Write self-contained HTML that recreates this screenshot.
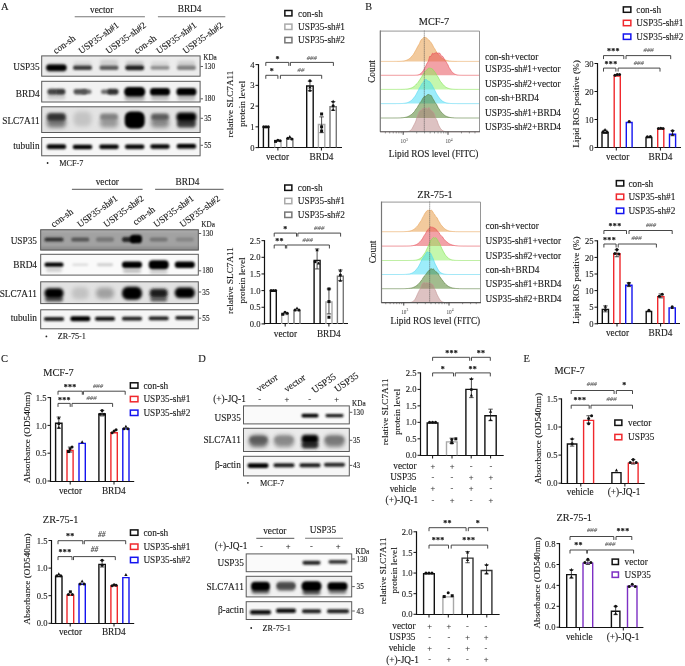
<!DOCTYPE html>
<html><head><meta charset="utf-8"><style>
html,body{margin:0;padding:0;background:#fff;width:685px;height:666px;overflow:hidden;font-family:"Liberation Serif",serif}
svg{display:block;will-change:transform}
</style></head><body>
<svg width="685" height="666" viewBox="0 0 685 666" font-family='"Liberation Serif", serif'><defs><clipPath id="c0"><rect x="41.2" y="55.4" width="159.4" height="21.3"/></clipPath><filter id="b0" filterUnits="userSpaceOnUse" x="0" y="0" width="685" height="666"><feGaussianBlur stdDeviation="1.50"/></filter><filter id="b1" filterUnits="userSpaceOnUse" x="0" y="0" width="685" height="666"><feGaussianBlur stdDeviation="1.80"/></filter><filter id="b2" filterUnits="userSpaceOnUse" x="0" y="0" width="685" height="666"><feGaussianBlur stdDeviation="1.00"/></filter><filter id="b3" filterUnits="userSpaceOnUse" x="0" y="0" width="685" height="666"><feGaussianBlur stdDeviation="1.40"/></filter><filter id="b4" filterUnits="userSpaceOnUse" x="0" y="0" width="685" height="666"><feGaussianBlur stdDeviation="0.90"/></filter><filter id="b5" filterUnits="userSpaceOnUse" x="0" y="0" width="685" height="666"><feGaussianBlur stdDeviation="0.85"/></filter><clipPath id="c1"><rect x="41.2" y="80.8" width="159.4" height="21.7"/></clipPath><clipPath id="c2"><rect x="41.2" y="106.3" width="159.4" height="26.7"/></clipPath><filter id="b6" filterUnits="userSpaceOnUse" x="0" y="0" width="685" height="666"><feGaussianBlur stdDeviation="2.20"/></filter><filter id="b7" filterUnits="userSpaceOnUse" x="0" y="0" width="685" height="666"><feGaussianBlur stdDeviation="2.00"/></filter><filter id="b8" filterUnits="userSpaceOnUse" x="0" y="0" width="685" height="666"><feGaussianBlur stdDeviation="1.60"/></filter><filter id="b9" filterUnits="userSpaceOnUse" x="0" y="0" width="685" height="666"><feGaussianBlur stdDeviation="1.30"/></filter><clipPath id="c3"><rect x="41.2" y="137" width="159.4" height="19.3"/></clipPath><filter id="b10" filterUnits="userSpaceOnUse" x="0" y="0" width="685" height="666"><feGaussianBlur stdDeviation="1.20"/></filter><clipPath id="c4"><rect x="40.2" y="229.3" width="158.6" height="21.2"/></clipPath><filter id="b11" filterUnits="userSpaceOnUse" x="0" y="0" width="685" height="666"><feGaussianBlur stdDeviation="1.10"/></filter><clipPath id="c5"><rect x="40.2" y="253.8" width="158.6" height="21.8"/></clipPath><clipPath id="c6"><rect x="40.2" y="281.3" width="158.6" height="22.8"/></clipPath><clipPath id="c7"><rect x="40.2" y="309.3" width="158.6" height="20"/></clipPath><clipPath id="c8"><rect x="243" y="405.4" width="106.8" height="19"/></clipPath><clipPath id="c9"><rect x="243" y="427.8" width="106.8" height="24.2"/></clipPath><clipPath id="c10"><rect x="243" y="455.8" width="106.8" height="20.6"/></clipPath><clipPath id="c11"><rect x="245.7" y="553.4" width="106.5" height="18.8"/></clipPath><clipPath id="c12"><rect x="245.7" y="575.8" width="106.5" height="21.6"/></clipPath><clipPath id="c13"><rect x="245.7" y="601.2" width="106.5" height="18.8"/></clipPath></defs><rect width="685" height="666" fill="#fff"/><text x="1" y="10.4" font-size="10.5" text-anchor="start" fill="#1a1a1a" stroke="#1a1a1a" stroke-width="0.12">A</text>
<text x="365.2" y="9.6" font-size="10.2" text-anchor="start" fill="#1a1a1a" stroke="#1a1a1a" stroke-width="0.12">B</text>
<text x="1" y="362.4" font-size="10.5" text-anchor="start" fill="#1a1a1a" stroke="#1a1a1a" stroke-width="0.12">C</text>
<text x="198.2" y="362.4" font-size="10.5" text-anchor="start" fill="#1a1a1a" stroke="#1a1a1a" stroke-width="0.12">D</text>
<text x="523.6" y="362.2" font-size="10.5" text-anchor="start" fill="#1a1a1a" stroke="#1a1a1a" stroke-width="0.12">E</text>
<text x="101.7" y="12.6" font-size="9.3" text-anchor="middle" fill="#1a1a1a" stroke="#1a1a1a" stroke-width="0.12">vector</text>
<line x1="74.7" y1="16.7" x2="144.9" y2="16.7" stroke="#777" stroke-width="1.1"/>
<text x="189.6" y="12.2" font-size="9.3" text-anchor="middle" fill="#1a1a1a" stroke="#1a1a1a" stroke-width="0.12">BRD4</text>
<line x1="157.9" y1="16.7" x2="225.3" y2="16.7" stroke="#777" stroke-width="1.1"/>
<text transform="translate(55.8 54.3) rotate(-36)" font-size="9.4" text-anchor="start" fill="#1a1a1a" stroke="#1a1a1a" stroke-width="0.12">con-sh</text>
<text transform="translate(81.3 54.3) rotate(-36)" font-size="9.4" text-anchor="start" fill="#1a1a1a" stroke="#1a1a1a" stroke-width="0.12">USP35-sh#1</text>
<text transform="translate(108.5 54.3) rotate(-36)" font-size="9.4" text-anchor="start" fill="#1a1a1a" stroke="#1a1a1a" stroke-width="0.12">USP35-sh#2</text>
<text transform="translate(136.8 54.3) rotate(-36)" font-size="9.4" text-anchor="start" fill="#1a1a1a" stroke="#1a1a1a" stroke-width="0.12">con-sh</text>
<text transform="translate(159 54.3) rotate(-36)" font-size="9.4" text-anchor="start" fill="#1a1a1a" stroke="#1a1a1a" stroke-width="0.12">USP35-sh#1</text>
<text transform="translate(185.4 54.3) rotate(-36)" font-size="9.4" text-anchor="start" fill="#1a1a1a" stroke="#1a1a1a" stroke-width="0.12">USP35-sh#2</text>
<text x="39.6" y="70" font-size="9.3" text-anchor="end" fill="#1a1a1a" stroke="#1a1a1a" stroke-width="0.12">USP35</text>
<text x="39.6" y="96.5" font-size="9.3" text-anchor="end" fill="#1a1a1a" stroke="#1a1a1a" stroke-width="0.12">BRD4</text>
<text x="39.6" y="124.3" font-size="9.3" text-anchor="end" fill="#1a1a1a" stroke="#1a1a1a" stroke-width="0.12">SLC7A11</text>
<text x="39.6" y="149" font-size="9.3" text-anchor="end" fill="#1a1a1a" stroke="#1a1a1a" stroke-width="0.12">tubulin</text>
<g clip-path="url(#c0)">
<rect x="41.2" y="55.4" width="159.4" height="21.3" fill="#ececec" stroke="none" stroke-width="1"/>
<rect x="73.5" y="61.3" width="18" height="5" rx="2.25" fill="#ccc" opacity="0.6" filter="url(#b0)"/>
<rect x="151" y="61.3" width="18" height="5" rx="2.25" fill="#ccc" opacity="0.6" filter="url(#b0)"/>
<rect x="100" y="59.8" width="18" height="6" rx="2.7" fill="#c4c4c4" opacity="0.7" filter="url(#b1)"/>
<rect x="177.4" y="60.8" width="18" height="6" rx="2.7" fill="#bbb" opacity="0.6" filter="url(#b0)"/>
<rect x="125.7" y="61.3" width="18" height="5" rx="2.25" fill="#aaa" opacity="0.6" filter="url(#b0)"/>
<rect x="150.5" y="65.8" width="19" height="4" rx="1.8" fill="#8f8f8f" opacity="1" filter="url(#b2)"/>
<rect x="176.9" y="65.5" width="19" height="4.6" rx="2.07" fill="#808080" opacity="1" filter="url(#b2)"/>
<rect x="99.5" y="65.5" width="19" height="4.6" rx="2.07" fill="#5a5a5a" opacity="1" filter="url(#b2)"/>
<rect x="46.4" y="63.8" width="20" height="8" rx="3.6" fill="#444" opacity="0.5" filter="url(#b3)"/>
<rect x="73" y="65.6" width="19" height="4.4" rx="1.98" fill="#3a3a3a" opacity="1" filter="url(#b4)"/>
<rect x="125.2" y="65.4" width="19" height="4.8" rx="2.16" fill="#1a1a1a" opacity="1" filter="url(#b4)"/>
<rect x="46.4" y="64.8" width="20" height="6" rx="2.7" fill="#000" opacity="1" filter="url(#b5)"/>
</g>
<rect x="41.7" y="55.9" width="158.4" height="20.3" fill="none" stroke="#5a5a5a" stroke-width="1"/>
<g clip-path="url(#c1)">
<rect x="41.2" y="80.8" width="159.4" height="21.7" fill="#f2f2f2" stroke="none" stroke-width="1"/>
<rect x="47.4" y="94.3" width="18" height="5" rx="2.25" fill="#ccc" opacity="1" filter="url(#b0)"/>
<rect x="151" y="95.3" width="18" height="5" rx="2.25" fill="#bbb" opacity="1" filter="url(#b0)"/>
<rect x="177.4" y="95.3" width="18" height="5" rx="2.25" fill="#bbb" opacity="1" filter="url(#b0)"/>
<rect x="124.7" y="94.8" width="20" height="6" rx="2.7" fill="#aaa" opacity="1" filter="url(#b0)"/>
<rect x="81.5" y="89.55" width="10" height="4.5" rx="2.02" fill="#707070" opacity="1" filter="url(#b2)"/>
<rect x="101" y="89.55" width="10" height="4.5" rx="2.02" fill="#707070" opacity="1" filter="url(#b2)"/>
<rect x="73.5" y="89.05" width="14" height="5.5" rx="2.48" fill="#555" opacity="1" filter="url(#b2)"/>
<rect x="47.4" y="88.8" width="10" height="6" rx="2.7" fill="#444" opacity="1" filter="url(#b2)"/>
<rect x="55.4" y="88.8" width="10" height="6" rx="2.7" fill="#3a3a3a" opacity="1" filter="url(#b2)"/>
<rect x="107.5" y="88.8" width="11" height="6" rx="2.7" fill="#333" opacity="1" filter="url(#b2)"/>
<rect x="124.2" y="87.05" width="21" height="9.5" rx="4.28" fill="#000" opacity="1" filter="url(#b4)"/>
<rect x="150" y="88.05" width="20" height="7.5" rx="3.38" fill="#000" opacity="1" filter="url(#b4)"/>
<rect x="176.4" y="88.05" width="20" height="7.5" rx="3.38" fill="#000" opacity="1" filter="url(#b4)"/>
</g>
<rect x="41.7" y="81.3" width="158.4" height="20.7" fill="none" stroke="#5a5a5a" stroke-width="1"/>
<g clip-path="url(#c2)">
<rect x="41.2" y="106.3" width="159.4" height="26.7" fill="#e3e3e3" stroke="none" stroke-width="1"/>
<rect x="73.5" y="111.5" width="18" height="15" rx="5.4" fill="#c4c4c4" opacity="1" filter="url(#b6)"/>
<rect x="100" y="118.5" width="18" height="9" rx="4.05" fill="#999" opacity="1" filter="url(#b7)"/>
<rect x="151" y="118.5" width="18" height="9" rx="4.05" fill="#888" opacity="1" filter="url(#b7)"/>
<rect x="100" y="113.5" width="18" height="7" rx="3.15" fill="#808080" opacity="1" filter="url(#b8)"/>
<rect x="46.9" y="118.5" width="19" height="9" rx="4.05" fill="#777" opacity="1" filter="url(#b7)"/>
<rect x="151" y="113.5" width="18" height="7" rx="3.15" fill="#5a5a5a" opacity="1" filter="url(#b8)"/>
<rect x="176.9" y="119.5" width="19" height="8" rx="3.6" fill="#3a3a3a" opacity="1" filter="url(#b1)"/>
<rect x="46.9" y="113" width="19" height="8" rx="3.6" fill="#333" opacity="1" filter="url(#b8)"/>
<rect x="124.7" y="111.5" width="20" height="17" rx="6" fill="#000" opacity="1" filter="url(#b9)"/>
<rect x="176.4" y="112.5" width="20" height="9" rx="4.05" fill="#000" opacity="1" filter="url(#b3)"/>
</g>
<rect x="41.7" y="106.8" width="158.4" height="25.7" fill="none" stroke="#5a5a5a" stroke-width="1"/>
<g clip-path="url(#c3)">
<rect x="41.2" y="137" width="159.4" height="19.3" fill="#f6f6f6" stroke="none" stroke-width="1"/>
<rect x="46.4" y="143.95" width="20" height="5.5" rx="2.48" fill="#888" opacity="0.5" filter="url(#b10)"/>
<rect x="72.5" y="143.95" width="20" height="5.5" rx="2.48" fill="#888" opacity="0.5" filter="url(#b10)"/>
<rect x="99" y="143.95" width="20" height="5.5" rx="2.48" fill="#888" opacity="0.5" filter="url(#b10)"/>
<rect x="124.7" y="143.95" width="20" height="5.5" rx="2.48" fill="#888" opacity="0.5" filter="url(#b10)"/>
<rect x="150" y="143.95" width="20" height="5.5" rx="2.48" fill="#888" opacity="0.5" filter="url(#b10)"/>
<rect x="176.4" y="143.95" width="20" height="5.5" rx="2.48" fill="#888" opacity="0.5" filter="url(#b10)"/>
<rect x="46.9" y="144.6" width="19" height="4.2" rx="1.89" fill="#000" opacity="1" filter="url(#b5)"/>
<rect x="73" y="145" width="19" height="4" rx="1.8" fill="#000" opacity="1" filter="url(#b5)"/>
<rect x="99.5" y="144.7" width="19" height="4" rx="1.8" fill="#000" opacity="1" filter="url(#b5)"/>
<rect x="125.2" y="144.7" width="19" height="4" rx="1.8" fill="#000" opacity="1" filter="url(#b5)"/>
<rect x="150.5" y="144.4" width="19" height="4" rx="1.8" fill="#000" opacity="1" filter="url(#b5)"/>
<rect x="176.9" y="144.1" width="19" height="4.2" rx="1.89" fill="#000" opacity="1" filter="url(#b5)"/>
</g>
<rect x="41.7" y="137.5" width="158.4" height="18.3" fill="none" stroke="#5a5a5a" stroke-width="1"/>
<text x="203.2" y="60" font-size="7.2" text-anchor="start" fill="#1a1a1a" stroke="#1a1a1a" stroke-width="0.12">KDa</text>
<line x1="200.6" y1="66.5" x2="203" y2="66.5" stroke="#333" stroke-width="0.8"/>
<text x="204.2" y="69" font-size="7.2" text-anchor="start" fill="#1a1a1a" stroke="#1a1a1a" stroke-width="0.12">130</text>
<line x1="200.6" y1="98.8" x2="203" y2="98.8" stroke="#333" stroke-width="0.8"/>
<text x="204.2" y="101.3" font-size="7.2" text-anchor="start" fill="#1a1a1a" stroke="#1a1a1a" stroke-width="0.12">180</text>
<line x1="200.6" y1="118.3" x2="203" y2="118.3" stroke="#333" stroke-width="0.8"/>
<text x="204.2" y="120.8" font-size="7.2" text-anchor="start" fill="#1a1a1a" stroke="#1a1a1a" stroke-width="0.12">35</text>
<line x1="200.6" y1="145.3" x2="203" y2="145.3" stroke="#333" stroke-width="0.8"/>
<text x="204.2" y="147.8" font-size="7.2" text-anchor="start" fill="#1a1a1a" stroke="#1a1a1a" stroke-width="0.12">55</text>
<circle cx="47.6" cy="163" r="0.9" fill="#222"/>
<text x="59.3" y="165.8" font-size="8.2" text-anchor="start" fill="#1a1a1a" stroke="#1a1a1a" stroke-width="0.12">MCF-7</text>
<text x="107.3" y="185.3" font-size="9.3" text-anchor="middle" fill="#1a1a1a" stroke="#1a1a1a" stroke-width="0.12">vector</text>
<line x1="71.9" y1="189.4" x2="142.6" y2="189.4" stroke="#777" stroke-width="1.1"/>
<text x="187.4" y="185.3" font-size="9.3" text-anchor="middle" fill="#1a1a1a" stroke="#1a1a1a" stroke-width="0.12">BRD4</text>
<line x1="155.1" y1="189.4" x2="223.6" y2="189.4" stroke="#777" stroke-width="1.1"/>
<text transform="translate(53.6 227.7) rotate(-36)" font-size="9.4" text-anchor="start" fill="#1a1a1a" stroke="#1a1a1a" stroke-width="0.12">con-sh</text>
<text transform="translate(79.9 227.7) rotate(-36)" font-size="9.4" text-anchor="start" fill="#1a1a1a" stroke="#1a1a1a" stroke-width="0.12">USP35-sh#1</text>
<text transform="translate(106.3 227.7) rotate(-36)" font-size="9.4" text-anchor="start" fill="#1a1a1a" stroke="#1a1a1a" stroke-width="0.12">USP35-sh#2</text>
<text transform="translate(135.4 225.5) rotate(-36)" font-size="9.4" text-anchor="start" fill="#1a1a1a" stroke="#1a1a1a" stroke-width="0.12">con-sh</text>
<text transform="translate(156.2 227.7) rotate(-36)" font-size="9.4" text-anchor="start" fill="#1a1a1a" stroke="#1a1a1a" stroke-width="0.12">USP35-sh#1</text>
<text transform="translate(182.5 227.7) rotate(-36)" font-size="9.4" text-anchor="start" fill="#1a1a1a" stroke="#1a1a1a" stroke-width="0.12">USP35-sh#2</text>
<text x="37" y="243.5" font-size="9.3" text-anchor="end" fill="#1a1a1a" stroke="#1a1a1a" stroke-width="0.12">USP35</text>
<text x="37" y="268.2" font-size="9.3" text-anchor="end" fill="#1a1a1a" stroke="#1a1a1a" stroke-width="0.12">BRD4</text>
<text x="37" y="296.8" font-size="9.3" text-anchor="end" fill="#1a1a1a" stroke="#1a1a1a" stroke-width="0.12">SLC7A11</text>
<text x="37" y="321" font-size="9.3" text-anchor="end" fill="#1a1a1a" stroke="#1a1a1a" stroke-width="0.12">tubulin</text>
<g clip-path="url(#c4)">
<rect x="40.2" y="229.3" width="158.6" height="21.2" fill="#a2a2a2" stroke="none" stroke-width="1"/>
<rect x="40" y="228.5" width="160" height="3" rx="1.35" fill="#b0b0b0" opacity="1" filter="url(#b0)"/>
<rect x="40" y="247" width="160" height="4" rx="1.8" fill="#8a8a8a" opacity="1" filter="url(#b0)"/>
<rect x="175.8" y="237.5" width="18" height="4" rx="1.8" fill="#858585" opacity="1" filter="url(#b11)"/>
<rect x="96" y="237.3" width="18" height="4.4" rx="1.98" fill="#767676" opacity="1" filter="url(#b10)"/>
<rect x="149.7" y="237.5" width="18" height="4" rx="1.8" fill="#747474" opacity="1" filter="url(#b11)"/>
<rect x="71.3" y="237.4" width="18" height="4.2" rx="1.89" fill="#555" opacity="1" filter="url(#b11)"/>
<rect x="44.5" y="237.4" width="19" height="4.2" rx="1.89" fill="#333" opacity="1" filter="url(#b11)"/>
<rect x="122" y="237" width="14" height="5" rx="2.25" fill="#262626" opacity="1" filter="url(#b2)"/>
<rect x="130" y="234.75" width="12" height="8.5" rx="3.6" fill="#000" opacity="1" filter="url(#b10)"/>
</g>
<rect x="40.7" y="229.8" width="157.6" height="20.2" fill="none" stroke="#5a5a5a" stroke-width="1"/>
<g clip-path="url(#c5)">
<rect x="40.2" y="253.8" width="158.6" height="21.8" fill="#fafafa" stroke="none" stroke-width="1"/>
<rect x="72.3" y="263.45" width="16" height="2.5" rx="1.12" fill="#ddd" opacity="1" filter="url(#b2)"/>
<rect x="97" y="263.2" width="16" height="3" rx="1.35" fill="#cfcfcf" opacity="1" filter="url(#b2)"/>
<rect x="46" y="267.7" width="16" height="4" rx="1.8" fill="#ccc" opacity="1" filter="url(#b0)"/>
<rect x="149.7" y="269.7" width="18" height="4" rx="1.8" fill="#ccc" opacity="1" filter="url(#b0)"/>
<rect x="123" y="268.7" width="18" height="4" rx="1.8" fill="#bbb" opacity="1" filter="url(#b0)"/>
<rect x="44.5" y="262.6" width="19" height="4.2" rx="1.89" fill="#000" opacity="1" filter="url(#b4)"/>
<rect x="122" y="261.45" width="20" height="6.5" rx="2.93" fill="#000" opacity="1" filter="url(#b4)"/>
<rect x="148.7" y="260.2" width="20" height="9" rx="4.05" fill="#000" opacity="1" filter="url(#b4)"/>
<rect x="174.8" y="261.45" width="20" height="6.5" rx="2.93" fill="#000" opacity="1" filter="url(#b4)"/>
</g>
<rect x="40.7" y="254.3" width="157.6" height="20.8" fill="none" stroke="#5a5a5a" stroke-width="1"/>
<g clip-path="url(#c6)">
<rect x="40.2" y="281.3" width="158.6" height="22.8" fill="#e2e2e2" stroke="none" stroke-width="1"/>
<rect x="71.8" y="287.3" width="17" height="12" rx="5.1" fill="#c2c2c2" opacity="1" filter="url(#b6)"/>
<rect x="96" y="287.8" width="18" height="11" rx="4.95" fill="#a0a0a0" opacity="1" filter="url(#b7)"/>
<rect x="150.2" y="296.8" width="17" height="5" rx="2.25" fill="#666" opacity="1" filter="url(#b1)"/>
<rect x="45" y="296.8" width="18" height="5" rx="2.25" fill="#555" opacity="1" filter="url(#b1)"/>
<rect x="149.7" y="288.8" width="18" height="9" rx="4.05" fill="#1a1a1a" opacity="1" filter="url(#b1)"/>
<rect x="44.5" y="288.3" width="19" height="10" rx="4.5" fill="#050505" opacity="1" filter="url(#b1)"/>
<rect x="122" y="286.8" width="20" height="13" rx="5.85" fill="#000" opacity="1" filter="url(#b8)"/>
<rect x="174.8" y="287.55" width="20" height="10.5" rx="4.73" fill="#000" opacity="1" filter="url(#b8)"/>
</g>
<rect x="40.7" y="281.8" width="157.6" height="21.8" fill="none" stroke="#5a5a5a" stroke-width="1"/>
<g clip-path="url(#c7)">
<rect x="40.2" y="309.3" width="158.6" height="20" fill="#f5f5f5" stroke="none" stroke-width="1"/>
<rect x="44" y="317.1" width="20" height="3.8" rx="1.71" fill="#1a1a1a" opacity="1" filter="url(#b5)"/>
<rect x="122" y="316.8" width="20" height="3.8" rx="1.71" fill="#1a1a1a" opacity="1" filter="url(#b5)"/>
<rect x="148.7" y="316.5" width="20" height="3.8" rx="1.71" fill="#1a1a1a" opacity="1" filter="url(#b5)"/>
<rect x="175.3" y="316" width="19" height="3.8" rx="1.71" fill="#1a1a1a" opacity="1" filter="url(#b5)"/>
<rect x="95" y="316.7" width="20" height="4" rx="1.8" fill="#111" opacity="1" filter="url(#b5)"/>
<rect x="70.3" y="316.2" width="20" height="5" rx="2.25" fill="#000" opacity="1" filter="url(#b5)"/>
</g>
<rect x="40.7" y="309.8" width="157.6" height="19" fill="none" stroke="#5a5a5a" stroke-width="1"/>
<text x="201.3" y="227" font-size="7.2" text-anchor="start" fill="#1a1a1a" stroke="#1a1a1a" stroke-width="0.12">KDa</text>
<line x1="198.8" y1="233.5" x2="201.2" y2="233.5" stroke="#333" stroke-width="0.8"/>
<text x="202.3" y="236" font-size="7.2" text-anchor="start" fill="#1a1a1a" stroke="#1a1a1a" stroke-width="0.12">130</text>
<line x1="198.8" y1="270.8" x2="201.2" y2="270.8" stroke="#333" stroke-width="0.8"/>
<text x="202.3" y="273.3" font-size="7.2" text-anchor="start" fill="#1a1a1a" stroke="#1a1a1a" stroke-width="0.12">180</text>
<line x1="198.8" y1="292" x2="201.2" y2="292" stroke="#333" stroke-width="0.8"/>
<text x="202.3" y="294.5" font-size="7.2" text-anchor="start" fill="#1a1a1a" stroke="#1a1a1a" stroke-width="0.12">35</text>
<line x1="198.8" y1="318.2" x2="201.2" y2="318.2" stroke="#333" stroke-width="0.8"/>
<text x="202.3" y="320.7" font-size="7.2" text-anchor="start" fill="#1a1a1a" stroke="#1a1a1a" stroke-width="0.12">55</text>
<circle cx="46.4" cy="336.4" r="0.9" fill="#222"/>
<text x="57.7" y="339.3" font-size="8.2" text-anchor="start" fill="#1a1a1a" stroke="#1a1a1a" stroke-width="0.12">ZR-75-1</text>
<text transform="translate(259.1 392.3) rotate(-35)" font-size="9.5" text-anchor="start" fill="#1a1a1a" stroke="#1a1a1a" stroke-width="0.12">vector</text>
<text transform="translate(286.7 392.5) rotate(-35)" font-size="9.5" text-anchor="start" fill="#1a1a1a" stroke="#1a1a1a" stroke-width="0.12">vector</text>
<text transform="translate(314.6 393.4) rotate(-35)" font-size="9.5" text-anchor="start" fill="#1a1a1a" stroke="#1a1a1a" stroke-width="0.12">USP35</text>
<text transform="translate(337.2 392.5) rotate(-35)" font-size="9.5" text-anchor="start" fill="#1a1a1a" stroke="#1a1a1a" stroke-width="0.12">USP35</text>
<text x="245.8" y="402.2" font-size="9.3" text-anchor="end" fill="#1a1a1a" stroke="#1a1a1a" stroke-width="0.12">(+)-JQ-1</text>
<text x="259.6" y="402" font-size="8.5" text-anchor="middle" fill="#1a1a1a" stroke="#1a1a1a" stroke-width="0.12">-</text>
<text x="286.8" y="402" font-size="8.5" text-anchor="middle" fill="#1a1a1a" stroke="#1a1a1a" stroke-width="0.12">+</text>
<text x="309.6" y="402" font-size="8.5" text-anchor="middle" fill="#1a1a1a" stroke="#1a1a1a" stroke-width="0.12">-</text>
<text x="336.7" y="402" font-size="8.5" text-anchor="middle" fill="#1a1a1a" stroke="#1a1a1a" stroke-width="0.12">+</text>
<text x="240.8" y="421" font-size="9.3" text-anchor="end" fill="#1a1a1a" stroke="#1a1a1a" stroke-width="0.12">USP35</text>
<text x="240.8" y="442.8" font-size="9.3" text-anchor="end" fill="#1a1a1a" stroke="#1a1a1a" stroke-width="0.12">SLC7A11</text>
<text x="240.8" y="467.8" font-size="9.3" text-anchor="end" fill="#1a1a1a" stroke="#1a1a1a" stroke-width="0.12">β-actin</text>
<g clip-path="url(#c8)">
<rect x="243" y="405.4" width="106.8" height="19" fill="#fafafa" stroke="none" stroke-width="1"/>
<rect x="325.5" y="414" width="18" height="3.2" rx="1.44" fill="#151515" opacity="1" filter="url(#b5)"/>
<rect x="301.5" y="413.8" width="17" height="3.6" rx="1.62" fill="#000" opacity="1" filter="url(#b5)"/>
</g>
<rect x="243.5" y="405.9" width="105.8" height="18" fill="none" stroke="#5a5a5a" stroke-width="1"/>
<g clip-path="url(#c9)">
<rect x="243" y="427.8" width="106.8" height="24.2" fill="#ebebeb" stroke="none" stroke-width="1"/>
<rect x="274" y="435" width="20" height="12" rx="5.4" fill="#8e8e8e" opacity="1" filter="url(#b7)"/>
<rect x="275" y="437" width="18" height="5" rx="2.25" fill="#888" opacity="1" filter="url(#b8)"/>
<rect x="324.5" y="435" width="20" height="12" rx="5.4" fill="#7e7e7e" opacity="1" filter="url(#b7)"/>
<rect x="325.5" y="437" width="18" height="5" rx="2.25" fill="#777" opacity="1" filter="url(#b8)"/>
<rect x="249" y="435" width="19" height="12" rx="5.4" fill="#666" opacity="1" filter="url(#b7)"/>
<rect x="250" y="437" width="17" height="5" rx="2.25" fill="#5a5a5a" opacity="1" filter="url(#b8)"/>
<rect x="301.5" y="441.5" width="17" height="7" rx="3.15" fill="#2a2a2a" opacity="1" filter="url(#b1)"/>
<rect x="301.5" y="434.75" width="17" height="8.5" rx="3.83" fill="#000" opacity="1" filter="url(#b0)"/>
</g>
<rect x="243.5" y="428.3" width="105.8" height="23.2" fill="none" stroke="#5a5a5a" stroke-width="1"/>
<g clip-path="url(#c10)">
<rect x="243" y="455.8" width="106.8" height="20.6" fill="#f6f6f6" stroke="none" stroke-width="1"/>
<rect x="324" y="462.8" width="21" height="4" rx="1.8" fill="#2a2a2a" opacity="1" filter="url(#b5)"/>
<rect x="273.5" y="463.3" width="21" height="4" rx="1.8" fill="#1a1a1a" opacity="1" filter="url(#b5)"/>
<rect x="299.5" y="463.3" width="21" height="4" rx="1.8" fill="#1a1a1a" opacity="1" filter="url(#b5)"/>
<rect x="247.5" y="463.3" width="21" height="4.6" rx="2.07" fill="#000" opacity="1" filter="url(#b5)"/>
</g>
<rect x="243.5" y="456.3" width="105.8" height="19.6" fill="none" stroke="#5a5a5a" stroke-width="1"/>
<text x="352" y="405.8" font-size="7.2" text-anchor="start" fill="#1a1a1a" stroke="#1a1a1a" stroke-width="0.12">KDa</text>
<line x1="349.8" y1="412.3" x2="352.3" y2="412.3" stroke="#333" stroke-width="0.8"/>
<text x="353" y="414.8" font-size="7.2" text-anchor="start" fill="#1a1a1a" stroke="#1a1a1a" stroke-width="0.12">130</text>
<line x1="349.8" y1="440.3" x2="352.3" y2="440.3" stroke="#333" stroke-width="0.8"/>
<text x="353" y="442.8" font-size="7.2" text-anchor="start" fill="#1a1a1a" stroke="#1a1a1a" stroke-width="0.12">35</text>
<line x1="349.8" y1="465.4" x2="352.3" y2="465.4" stroke="#333" stroke-width="0.8"/>
<text x="353" y="467.9" font-size="7.2" text-anchor="start" fill="#1a1a1a" stroke="#1a1a1a" stroke-width="0.12">43</text>
<circle cx="247.9" cy="482.8" r="0.9" fill="#222"/>
<text x="259.9" y="485.6" font-size="8.2" text-anchor="start" fill="#1a1a1a" stroke="#1a1a1a" stroke-width="0.12">MCF-7</text>
<text x="274.8" y="534.2" font-size="9.3" text-anchor="middle" fill="#1a1a1a" stroke="#1a1a1a" stroke-width="0.12">vector</text>
<line x1="256.3" y1="538.4" x2="294.3" y2="538.4" stroke="#777" stroke-width="1.1"/>
<text x="322.9" y="533.4" font-size="9.3" text-anchor="middle" fill="#1a1a1a" stroke="#1a1a1a" stroke-width="0.12">USP35</text>
<line x1="305.1" y1="538.2" x2="343" y2="538.2" stroke="#777" stroke-width="1.1"/>
<text x="247.3" y="549.2" font-size="9.3" text-anchor="end" fill="#1a1a1a" stroke="#1a1a1a" stroke-width="0.12">(+)-JQ-1</text>
<text x="261.3" y="548.8" font-size="8.5" text-anchor="middle" fill="#1a1a1a" stroke="#1a1a1a" stroke-width="0.12">-</text>
<text x="288.2" y="548.8" font-size="8.5" text-anchor="middle" fill="#1a1a1a" stroke="#1a1a1a" stroke-width="0.12">+</text>
<text x="311.4" y="548.8" font-size="8.5" text-anchor="middle" fill="#1a1a1a" stroke="#1a1a1a" stroke-width="0.12">-</text>
<text x="338.1" y="548.8" font-size="8.5" text-anchor="middle" fill="#1a1a1a" stroke="#1a1a1a" stroke-width="0.12">+</text>
<text x="243.8" y="566.4" font-size="9.3" text-anchor="end" fill="#1a1a1a" stroke="#1a1a1a" stroke-width="0.12">USP35</text>
<text x="243.8" y="589.9" font-size="9.3" text-anchor="end" fill="#1a1a1a" stroke="#1a1a1a" stroke-width="0.12">SLC7A11</text>
<text x="243.8" y="613.2" font-size="9.3" text-anchor="end" fill="#1a1a1a" stroke="#1a1a1a" stroke-width="0.12">β-actin</text>
<g clip-path="url(#c11)">
<rect x="245.7" y="553.4" width="106.5" height="18.8" fill="#fafafa" stroke="none" stroke-width="1"/>
<rect x="328.5" y="559.9" width="19" height="3.8" rx="1.71" fill="#333" opacity="1" filter="url(#b4)"/>
<rect x="302.5" y="560.8" width="18" height="4" rx="1.8" fill="#222" opacity="1" filter="url(#b4)"/>
</g>
<rect x="246.2" y="553.9" width="105.5" height="17.8" fill="none" stroke="#5a5a5a" stroke-width="1"/>
<g clip-path="url(#c12)">
<rect x="245.7" y="575.8" width="106.5" height="21.6" fill="#f1f1f1" stroke="none" stroke-width="1"/>
<rect x="328.5" y="588.8" width="18" height="5" rx="2.25" fill="#777" opacity="1" filter="url(#b0)"/>
<rect x="251.5" y="588.8" width="18" height="5" rx="2.25" fill="#666" opacity="1" filter="url(#b0)"/>
<rect x="276.5" y="581.8" width="19" height="9" rx="4.05" fill="#666" opacity="1" filter="url(#b8)"/>
<rect x="302.5" y="589.8" width="18" height="5" rx="2.25" fill="#555" opacity="1" filter="url(#b0)"/>
<rect x="277" y="583.3" width="18" height="5" rx="2.25" fill="#4a4a4a" opacity="1" filter="url(#b9)"/>
<rect x="327.5" y="582.3" width="20" height="8" rx="3.6" fill="#050505" opacity="1" filter="url(#b11)"/>
<rect x="251" y="581.8" width="19" height="9" rx="4.05" fill="#000" opacity="1" filter="url(#b11)"/>
<rect x="301.5" y="581.3" width="20" height="10" rx="4.5" fill="#000" opacity="1" filter="url(#b11)"/>
</g>
<rect x="246.2" y="576.3" width="105.5" height="20.6" fill="none" stroke="#5a5a5a" stroke-width="1"/>
<g clip-path="url(#c13)">
<rect x="245.7" y="601.2" width="106.5" height="18.8" fill="#f6f6f6" stroke="none" stroke-width="1"/>
<rect x="302" y="609.3" width="19" height="4" rx="1.8" fill="#1a1a1a" opacity="1" filter="url(#b5)"/>
<rect x="327" y="609.3" width="22" height="4" rx="1.8" fill="#1a1a1a" opacity="1" filter="url(#b5)"/>
<rect x="276" y="608.5" width="20" height="4.6" rx="2.07" fill="#111" opacity="1" filter="url(#b5)"/>
<rect x="250" y="610.1" width="21" height="4.4" rx="1.98" fill="#0a0a0a" opacity="1" filter="url(#b5)"/>
</g>
<rect x="246.2" y="601.7" width="105.5" height="17.8" fill="none" stroke="#5a5a5a" stroke-width="1"/>
<text x="355.6" y="553.5" font-size="7.2" text-anchor="start" fill="#1a1a1a" stroke="#1a1a1a" stroke-width="0.12">KDa</text>
<line x1="352.2" y1="559" x2="354.8" y2="559" stroke="#333" stroke-width="0.8"/>
<text x="356.6" y="561.5" font-size="7.2" text-anchor="start" fill="#1a1a1a" stroke="#1a1a1a" stroke-width="0.12">130</text>
<line x1="352.2" y1="586.6" x2="354.8" y2="586.6" stroke="#333" stroke-width="0.8"/>
<text x="356.6" y="589.1" font-size="7.2" text-anchor="start" fill="#1a1a1a" stroke="#1a1a1a" stroke-width="0.12">35</text>
<line x1="352.2" y1="611" x2="354.8" y2="611" stroke="#333" stroke-width="0.8"/>
<text x="356.6" y="613.5" font-size="7.2" text-anchor="start" fill="#1a1a1a" stroke="#1a1a1a" stroke-width="0.12">43</text>
<circle cx="251.2" cy="628" r="0.9" fill="#222"/>
<text x="262.6" y="630.8" font-size="8.2" text-anchor="start" fill="#1a1a1a" stroke="#1a1a1a" stroke-width="0.12">ZR-75-1</text>
<line x1="258.5" y1="64.1" x2="258.5" y2="148.1" stroke="#111" stroke-width="1.2"/>
<line x1="255.5" y1="147.6" x2="258.5" y2="147.6" stroke="#111" stroke-width="1"/>
<text x="254.5" y="150.7" font-size="8.6" text-anchor="end" fill="#222" stroke="#222" stroke-width="0.12">0</text>
<line x1="255.5" y1="126.85" x2="258.5" y2="126.85" stroke="#111" stroke-width="1"/>
<text x="254.5" y="129.95" font-size="8.6" text-anchor="end" fill="#222" stroke="#222" stroke-width="0.12">1</text>
<line x1="255.5" y1="106.1" x2="258.5" y2="106.1" stroke="#111" stroke-width="1"/>
<text x="254.5" y="109.2" font-size="8.6" text-anchor="end" fill="#222" stroke="#222" stroke-width="0.12">2</text>
<line x1="255.5" y1="85.35" x2="258.5" y2="85.35" stroke="#111" stroke-width="1"/>
<text x="254.5" y="88.45" font-size="8.6" text-anchor="end" fill="#222" stroke="#222" stroke-width="0.12">3</text>
<line x1="255.5" y1="64.6" x2="258.5" y2="64.6" stroke="#111" stroke-width="1"/>
<text x="254.5" y="67.7" font-size="8.6" text-anchor="end" fill="#222" stroke="#222" stroke-width="0.12">4</text>
<line x1="257.9" y1="147.5" x2="342" y2="147.5" stroke="#111" stroke-width="1.2"/>
<line x1="277.9" y1="147.5" x2="277.9" y2="150.5" stroke="#111" stroke-width="1"/>
<line x1="321.4" y1="147.5" x2="321.4" y2="150.5" stroke="#111" stroke-width="1"/>
<path d="M263.4 147.6V127.55H268.6V147.6" stroke="#111" stroke-width="1.4" fill="none"/>
<circle cx="263.7" cy="126.85" r="1.5" fill="#111"/>
<circle cx="266" cy="126.85" r="1.5" fill="#111"/>
<circle cx="268.3" cy="126.85" r="1.5" fill="#111"/>
<path d="M274.7 147.6V141.04H281V147.6" stroke="#aaaaaa" stroke-width="1.4" fill="none"/>
<rect x="274.05" y="139.88" width="3" height="3" fill="#111" stroke="none" stroke-width="1"/>
<circle cx="277.85" cy="140.13" r="1.5" fill="#111"/>
<circle cx="280.15" cy="140.75" r="1.5" fill="#111"/>
<path d="M286.7 147.6V138.96H292.9V147.6" stroke="#777" stroke-width="1.4" fill="none"/>
<circle cx="287.8" cy="138.26" r="1.5" fill="#111"/>
<path d="M289.8 135.01L291.45 138.01L288.15 138.01Z" fill="#111"/>
<circle cx="291.8" cy="138.88" r="1.5" fill="#111"/>
<path d="M306.7 147.6V86.05H313.2V147.6" stroke="#111" stroke-width="1.4" fill="none"/>
<line x1="309.95" y1="90.54" x2="309.95" y2="81.2" stroke="#222" stroke-width="0.8"/>
<line x1="307.75" y1="81.2" x2="312.15" y2="81.2" stroke="#222" stroke-width="0.8"/>
<line x1="307.75" y1="90.54" x2="312.15" y2="90.54" stroke="#222" stroke-width="0.8"/>
<circle cx="309.95" cy="80.78" r="1.5" fill="#111"/>
<path d="M309.95 85.62L311.6 88.62L308.3 88.62Z" fill="#111"/>
<path d="M309.95 88.74L311.6 91.74L308.3 91.74Z" fill="#111"/>
<path d="M318.4 147.6V124.44H324.8V147.6" stroke="#aaaaaa" stroke-width="1.4" fill="none"/>
<line x1="321.6" y1="132.66" x2="321.6" y2="116.89" stroke="#222" stroke-width="0.8"/>
<line x1="319.4" y1="116.89" x2="323.8" y2="116.89" stroke="#222" stroke-width="0.8"/>
<line x1="319.4" y1="132.66" x2="323.8" y2="132.66" stroke="#222" stroke-width="0.8"/>
<rect x="320.1" y="112.48" width="3" height="3" fill="#111" stroke="none" stroke-width="1"/>
<rect x="320.1" y="125.35" width="3" height="3" fill="#111" stroke="none" stroke-width="1"/>
<rect x="320.1" y="129.5" width="3" height="3" fill="#111" stroke="none" stroke-width="1"/>
<path d="M330 147.6V106.8H336.3V147.6" stroke="#777" stroke-width="1.4" fill="none"/>
<line x1="333.15" y1="110.25" x2="333.15" y2="101.53" stroke="#222" stroke-width="0.8"/>
<line x1="330.95" y1="101.53" x2="335.35" y2="101.53" stroke="#222" stroke-width="0.8"/>
<line x1="330.95" y1="110.25" x2="335.35" y2="110.25" stroke="#222" stroke-width="0.8"/>
<path d="M333.15 99.73L334.8 102.73L331.5 102.73Z" fill="#111"/>
<circle cx="333.15" cy="105.69" r="1.5" fill="#111"/>
<path d="M333.15 108.03L334.8 111.03L331.5 111.03Z" fill="#111"/>
<text x="277.5" y="159.6" font-size="9.3" text-anchor="middle" fill="#1a1a1a" stroke="#1a1a1a" stroke-width="0.12">vector</text>
<text x="321.4" y="159.9" font-size="9.3" text-anchor="middle" fill="#1a1a1a" stroke="#1a1a1a" stroke-width="0.12">BRD4</text>
<text transform="translate(232.6 104) rotate(-90)" font-size="9.2" text-anchor="middle" fill="#1a1a1a" stroke="#1a1a1a" stroke-width="0.12">relative SLC7A11</text>
<text transform="translate(245.4 104) rotate(-90)" font-size="9.2" text-anchor="middle" fill="#1a1a1a" stroke="#1a1a1a" stroke-width="0.12">protein level</text>
<path d="M265.8 65.9V62.4H288.8V65.9" stroke="#333" stroke-width="0.9" fill="none"/>
<path d="M290.4 65.9V62.4H333.4V65.9" stroke="#333" stroke-width="0.9" fill="none"/>
<path d="M265.8 78.8V75.3H277.9V78.8" stroke="#333" stroke-width="0.9" fill="none"/>
<path d="M280.4 78.8V75.3H321.7V78.8" stroke="#333" stroke-width="0.9" fill="none"/>
<text x="277.6" y="61.7" font-size="8" text-anchor="middle" fill="#111" font-weight="bold" letter-spacing="0.3" stroke="#111" stroke-width="0.12">*</text>
<text x="311.8" y="59.68" font-size="6.8" text-anchor="middle" fill="#6a6a6a" font-style="italic" stroke="#6a6a6a" stroke-width="0.12">###</text>
<text x="271.8" y="74.2" font-size="8" text-anchor="middle" fill="#111" font-weight="bold" letter-spacing="0.3" stroke="#111" stroke-width="0.12">*</text>
<text x="301" y="72.18" font-size="6.8" text-anchor="middle" fill="#6a6a6a" font-style="italic" stroke="#6a6a6a" stroke-width="0.12">##</text>
<rect x="284.85" y="10.5" width="7.1" height="5.4" fill="none" stroke="#111" stroke-width="1.5" fill="#fff"/>
<text x="298" y="16.5" font-size="9.3" text-anchor="start" fill="#222" stroke="#222" stroke-width="0.12">con-sh</text>
<rect x="284.85" y="24.1" width="7.1" height="5.4" fill="none" stroke="#aaaaaa" stroke-width="1.5" fill="#fff"/>
<text x="298" y="30.1" font-size="9.3" text-anchor="start" fill="#222" stroke="#222" stroke-width="0.12">USP35-sh#1</text>
<rect x="284.85" y="37.4" width="7.1" height="5.4" fill="none" stroke="#777" stroke-width="1.5" fill="#fff"/>
<text x="298" y="43.4" font-size="9.3" text-anchor="start" fill="#222" stroke="#222" stroke-width="0.12">USP35-sh#2</text>
<line x1="264.5" y1="240.15" x2="264.5" y2="324.4" stroke="#111" stroke-width="1.2"/>
<line x1="261.5" y1="323.9" x2="264.5" y2="323.9" stroke="#111" stroke-width="1"/>
<text x="260.5" y="327" font-size="8.6" text-anchor="end" fill="#222" stroke="#222" stroke-width="0.12">0.0</text>
<line x1="261.5" y1="307.25" x2="264.5" y2="307.25" stroke="#111" stroke-width="1"/>
<text x="260.5" y="310.35" font-size="8.6" text-anchor="end" fill="#222" stroke="#222" stroke-width="0.12">0.5</text>
<line x1="261.5" y1="290.6" x2="264.5" y2="290.6" stroke="#111" stroke-width="1"/>
<text x="260.5" y="293.7" font-size="8.6" text-anchor="end" fill="#222" stroke="#222" stroke-width="0.12">1.0</text>
<line x1="261.5" y1="273.95" x2="264.5" y2="273.95" stroke="#111" stroke-width="1"/>
<text x="260.5" y="277.05" font-size="8.6" text-anchor="end" fill="#222" stroke="#222" stroke-width="0.12">1.5</text>
<line x1="261.5" y1="257.3" x2="264.5" y2="257.3" stroke="#111" stroke-width="1"/>
<text x="260.5" y="260.4" font-size="8.6" text-anchor="end" fill="#222" stroke="#222" stroke-width="0.12">2.0</text>
<line x1="261.5" y1="240.65" x2="264.5" y2="240.65" stroke="#111" stroke-width="1"/>
<text x="260.5" y="243.75" font-size="8.6" text-anchor="end" fill="#222" stroke="#222" stroke-width="0.12">2.5</text>
<line x1="263.9" y1="323.5" x2="348" y2="323.5" stroke="#111" stroke-width="1.2"/>
<line x1="285.2" y1="323.5" x2="285.2" y2="326.5" stroke="#111" stroke-width="1"/>
<line x1="328.9" y1="323.5" x2="328.9" y2="326.5" stroke="#111" stroke-width="1"/>
<path d="M270.4 323.9V291.3H276.3V323.9" stroke="#111" stroke-width="1.4" fill="none"/>
<circle cx="271.05" cy="290.6" r="1.5" fill="#111"/>
<circle cx="273.35" cy="290.6" r="1.5" fill="#111"/>
<circle cx="275.65" cy="290.6" r="1.5" fill="#111"/>
<path d="M281.7 323.9V314.61H288.3V323.9" stroke="#aaaaaa" stroke-width="1.4" fill="none"/>
<rect x="281.2" y="312.74" width="3" height="3" fill="#111" stroke="none" stroke-width="1"/>
<circle cx="285" cy="312.25" r="1.5" fill="#111"/>
<circle cx="287.3" cy="313.24" r="1.5" fill="#111"/>
<path d="M294 323.9V310.61H300V323.9" stroke="#777" stroke-width="1.4" fill="none"/>
<circle cx="295" cy="309.91" r="1.5" fill="#111"/>
<path d="M297 306.45L298.65 309.45L295.35 309.45Z" fill="#111"/>
<circle cx="299" cy="309.91" r="1.5" fill="#111"/>
<path d="M314.1 323.9V260.33H320.1V323.9" stroke="#111" stroke-width="1.4" fill="none"/>
<line x1="317.1" y1="268.95" x2="317.1" y2="248.97" stroke="#222" stroke-width="0.8"/>
<line x1="314.9" y1="248.97" x2="319.3" y2="248.97" stroke="#222" stroke-width="0.8"/>
<line x1="314.9" y1="268.95" x2="319.3" y2="268.95" stroke="#222" stroke-width="0.8"/>
<path d="M317.1 248.17L318.75 251.17L315.45 251.17Z" fill="#111"/>
<circle cx="315.1" cy="261.63" r="1.5" fill="#111"/>
<path d="M318.6 261.49L320.25 264.49L316.95 264.49Z" fill="#111"/>
<path d="M325.9 323.9V301.96H332V323.9" stroke="#aaaaaa" stroke-width="1.4" fill="none"/>
<line x1="328.95" y1="313.91" x2="328.95" y2="288.94" stroke="#222" stroke-width="0.8"/>
<line x1="326.75" y1="288.94" x2="331.15" y2="288.94" stroke="#222" stroke-width="0.8"/>
<line x1="326.75" y1="313.91" x2="331.15" y2="313.91" stroke="#222" stroke-width="0.8"/>
<rect x="327.45" y="287.44" width="3" height="3" fill="#111" stroke="none" stroke-width="1"/>
<rect x="327.45" y="300.09" width="3" height="3" fill="#111" stroke="none" stroke-width="1"/>
<rect x="327.45" y="315.74" width="3" height="3" fill="#111" stroke="none" stroke-width="1"/>
<path d="M337.4 323.9V276.31H343.3V323.9" stroke="#777" stroke-width="1.4" fill="none"/>
<line x1="340.35" y1="280.61" x2="340.35" y2="269.95" stroke="#222" stroke-width="0.8"/>
<line x1="338.15" y1="269.95" x2="342.55" y2="269.95" stroke="#222" stroke-width="0.8"/>
<line x1="338.15" y1="280.61" x2="342.55" y2="280.61" stroke="#222" stroke-width="0.8"/>
<path d="M340.35 268.82L342 271.82L338.7 271.82Z" fill="#111"/>
<circle cx="340.35" cy="274.95" r="1.5" fill="#111"/>
<path d="M340.35 278.81L342 281.81L338.7 281.81Z" fill="#111"/>
<text x="285.4" y="336.6" font-size="9.3" text-anchor="middle" fill="#1a1a1a" stroke="#1a1a1a" stroke-width="0.12">vector</text>
<text x="328.8" y="336.6" font-size="9.3" text-anchor="middle" fill="#1a1a1a" stroke="#1a1a1a" stroke-width="0.12">BRD4</text>
<text transform="translate(233 280.5) rotate(-90)" font-size="9.2" text-anchor="middle" fill="#1a1a1a" stroke="#1a1a1a" stroke-width="0.12">relative SLC7A11</text>
<text transform="translate(244.6 280.5) rotate(-90)" font-size="9.2" text-anchor="middle" fill="#1a1a1a" stroke="#1a1a1a" stroke-width="0.12">protein level</text>
<path d="M274.2 236.6V233.1H296.5V236.6" stroke="#333" stroke-width="0.9" fill="none"/>
<path d="M297.9 236.6V233.1H340.6V236.6" stroke="#333" stroke-width="0.9" fill="none"/>
<path d="M274.2 248.5V245H285.4V248.5" stroke="#333" stroke-width="0.9" fill="none"/>
<path d="M286.7 248.5V245H329.4V248.5" stroke="#333" stroke-width="0.9" fill="none"/>
<text x="285.4" y="232.4" font-size="8" text-anchor="middle" fill="#111" font-weight="bold" letter-spacing="0.3" stroke="#111" stroke-width="0.12">*</text>
<text x="319.2" y="230.38" font-size="6.8" text-anchor="middle" fill="#6a6a6a" font-style="italic" stroke="#6a6a6a" stroke-width="0.12">###</text>
<text x="279.5" y="244" font-size="8" text-anchor="middle" fill="#111" font-weight="bold" letter-spacing="0.3" stroke="#111" stroke-width="0.12">**</text>
<text x="307.7" y="241.98" font-size="6.8" text-anchor="middle" fill="#6a6a6a" font-style="italic" stroke="#6a6a6a" stroke-width="0.12">###</text>
<rect x="284.75" y="185" width="7.1" height="5.4" fill="none" stroke="#111" stroke-width="1.5" fill="#fff"/>
<text x="297.8" y="191" font-size="9.3" text-anchor="start" fill="#222" stroke="#222" stroke-width="0.12">con-sh</text>
<rect x="284.75" y="198.3" width="7.1" height="5.4" fill="none" stroke="#aaaaaa" stroke-width="1.5" fill="#fff"/>
<text x="297.8" y="204.3" font-size="9.3" text-anchor="start" fill="#222" stroke="#222" stroke-width="0.12">USP35-sh#1</text>
<rect x="284.75" y="212.1" width="7.1" height="5.4" fill="none" stroke="#777" stroke-width="1.5" fill="#fff"/>
<text x="297.8" y="218.1" font-size="9.3" text-anchor="start" fill="#222" stroke="#222" stroke-width="0.12">USP35-sh#2</text>
<line x1="597.5" y1="63" x2="597.5" y2="148" stroke="#111" stroke-width="1.2"/>
<line x1="594.5" y1="147.5" x2="597.5" y2="147.5" stroke="#111" stroke-width="1"/>
<text x="593.5" y="150.6" font-size="8.6" text-anchor="end" fill="#222" stroke="#222" stroke-width="0.12">0</text>
<line x1="594.5" y1="119.5" x2="597.5" y2="119.5" stroke="#111" stroke-width="1"/>
<text x="593.5" y="122.6" font-size="8.6" text-anchor="end" fill="#222" stroke="#222" stroke-width="0.12">10</text>
<line x1="594.5" y1="91.5" x2="597.5" y2="91.5" stroke="#111" stroke-width="1"/>
<text x="593.5" y="94.6" font-size="8.6" text-anchor="end" fill="#222" stroke="#222" stroke-width="0.12">20</text>
<line x1="594.5" y1="63.5" x2="597.5" y2="63.5" stroke="#111" stroke-width="1"/>
<text x="593.5" y="66.6" font-size="8.6" text-anchor="end" fill="#222" stroke="#222" stroke-width="0.12">30</text>
<line x1="596.9" y1="147.5" x2="681" y2="147.5" stroke="#111" stroke-width="1.2"/>
<line x1="616.3" y1="147.5" x2="616.3" y2="150.5" stroke="#111" stroke-width="1"/>
<line x1="660.4" y1="147.5" x2="660.4" y2="150.5" stroke="#111" stroke-width="1"/>
<path d="M602 147.5V132.8H608.1V147.5" stroke="#111" stroke-width="1.4" fill="none"/>
<line x1="605.05" y1="133.5" x2="605.05" y2="130.14" stroke="#222" stroke-width="0.8"/>
<line x1="602.85" y1="130.14" x2="607.25" y2="130.14" stroke="#222" stroke-width="0.8"/>
<line x1="602.85" y1="133.5" x2="607.25" y2="133.5" stroke="#222" stroke-width="0.8"/>
<circle cx="603.05" cy="131.82" r="1.5" fill="#111"/>
<path d="M605.05 128.06L606.7 131.06L603.4 131.06Z" fill="#111"/>
<circle cx="607.05" cy="132.1" r="1.5" fill="#111"/>
<path d="M614.2 147.5V75.96H620.3V147.5" stroke="#f0282d" stroke-width="1.4" fill="none"/>
<circle cx="614.95" cy="75.26" r="1.5" fill="#111"/>
<circle cx="617.25" cy="74.42" r="1.5" fill="#111"/>
<circle cx="619.55" cy="74.42" r="1.5" fill="#111"/>
<path d="M626.3 147.5V122.44H632.1V147.5" stroke="#1414f0" stroke-width="1.4" fill="none"/>
<circle cx="629.2" cy="121.46" r="1.5" fill="#111"/>
<path d="M646 147.5V137.56H651.8V147.5" stroke="#111" stroke-width="1.4" fill="none"/>
<circle cx="647.4" cy="136.86" r="1.5" fill="#111"/>
<circle cx="650.4" cy="136.58" r="1.5" fill="#111"/>
<path d="M657.7 147.5V129.16H663.8V147.5" stroke="#f0282d" stroke-width="1.4" fill="none"/>
<circle cx="658.45" cy="128.46" r="1.5" fill="#111"/>
<circle cx="660.75" cy="128.18" r="1.5" fill="#111"/>
<circle cx="663.05" cy="128.46" r="1.5" fill="#111"/>
<path d="M669.5 147.5V134.2H675.6V147.5" stroke="#1414f0" stroke-width="1.4" fill="none"/>
<line x1="672.55" y1="135.74" x2="672.55" y2="130.7" stroke="#222" stroke-width="0.8"/>
<line x1="670.35" y1="130.7" x2="674.75" y2="130.7" stroke="#222" stroke-width="0.8"/>
<line x1="670.35" y1="135.74" x2="674.75" y2="135.74" stroke="#222" stroke-width="0.8"/>
<circle cx="672.55" cy="130.7" r="1.5" fill="#111"/>
<path d="M672.55 132.82L674.2 135.82L670.9 135.82Z" fill="#111"/>
<text x="617.7" y="160.2" font-size="9.3" text-anchor="middle" fill="#1a1a1a" stroke="#1a1a1a" stroke-width="0.12">vector</text>
<text x="660.4" y="160.2" font-size="9.3" text-anchor="middle" fill="#1a1a1a" stroke="#1a1a1a" stroke-width="0.12">BRD4</text>
<text transform="translate(578.6 104) rotate(-90)" font-size="9.2" text-anchor="middle" fill="#1a1a1a" stroke="#1a1a1a" stroke-width="0.12">Lipid ROS positive (%)</text>
<path d="M603.5 59.1V55.6H623.8V59.1" stroke="#333" stroke-width="0.9" fill="none"/>
<path d="M626 59.1V55.6H670.7V59.1" stroke="#333" stroke-width="0.9" fill="none"/>
<path d="M603.5 71.6V68.1H615.9V71.6" stroke="#333" stroke-width="0.9" fill="none"/>
<path d="M618.1 71.6V68.1H660V71.6" stroke="#333" stroke-width="0.9" fill="none"/>
<text x="613.4" y="54.1" font-size="8" text-anchor="middle" fill="#111" font-weight="bold" letter-spacing="0.3" stroke="#111" stroke-width="0.12">***</text>
<text x="648.6" y="52.08" font-size="6.8" text-anchor="middle" fill="#6a6a6a" font-style="italic" stroke="#6a6a6a" stroke-width="0.12">###</text>
<text x="611" y="67.2" font-size="8" text-anchor="middle" fill="#111" font-weight="bold" letter-spacing="0.3" stroke="#111" stroke-width="0.12">***</text>
<text x="638.8" y="65.18" font-size="6.8" text-anchor="middle" fill="#6a6a6a" font-style="italic" stroke="#6a6a6a" stroke-width="0.12">###</text>
<rect x="623.35" y="6.9" width="7.5" height="5.4" fill="none" stroke="#111" stroke-width="1.5" fill="#fff"/>
<text x="636.3" y="12.9" font-size="9.3" text-anchor="start" fill="#222" stroke="#222" stroke-width="0.12">con-sh</text>
<rect x="623.35" y="20.3" width="7.5" height="5.4" fill="none" stroke="#f0282d" stroke-width="1.5" fill="#fff"/>
<text x="636.3" y="26.3" font-size="9.3" text-anchor="start" fill="#222" stroke="#222" stroke-width="0.12">USP35-sh#1</text>
<rect x="623.35" y="34" width="7.5" height="5.4" fill="none" stroke="#1414f0" stroke-width="1.5" fill="#fff"/>
<text x="636.3" y="40" font-size="9.3" text-anchor="start" fill="#222" stroke="#222" stroke-width="0.12">USP35-sh#2</text>
<line x1="597.5" y1="240.3" x2="597.5" y2="324.3" stroke="#111" stroke-width="1.2"/>
<line x1="594.5" y1="323.8" x2="597.5" y2="323.8" stroke="#111" stroke-width="1"/>
<text x="593.5" y="326.9" font-size="8.6" text-anchor="end" fill="#222" stroke="#222" stroke-width="0.12">0</text>
<line x1="594.5" y1="307.2" x2="597.5" y2="307.2" stroke="#111" stroke-width="1"/>
<text x="593.5" y="310.3" font-size="8.6" text-anchor="end" fill="#222" stroke="#222" stroke-width="0.12">5</text>
<line x1="594.5" y1="290.6" x2="597.5" y2="290.6" stroke="#111" stroke-width="1"/>
<text x="593.5" y="293.7" font-size="8.6" text-anchor="end" fill="#222" stroke="#222" stroke-width="0.12">10</text>
<line x1="594.5" y1="274" x2="597.5" y2="274" stroke="#111" stroke-width="1"/>
<text x="593.5" y="277.1" font-size="8.6" text-anchor="end" fill="#222" stroke="#222" stroke-width="0.12">15</text>
<line x1="594.5" y1="257.4" x2="597.5" y2="257.4" stroke="#111" stroke-width="1"/>
<text x="593.5" y="260.5" font-size="8.6" text-anchor="end" fill="#222" stroke="#222" stroke-width="0.12">20</text>
<line x1="594.5" y1="240.8" x2="597.5" y2="240.8" stroke="#111" stroke-width="1"/>
<text x="593.5" y="243.9" font-size="8.6" text-anchor="end" fill="#222" stroke="#222" stroke-width="0.12">25</text>
<line x1="596.9" y1="323.5" x2="680" y2="323.5" stroke="#111" stroke-width="1.2"/>
<line x1="617" y1="323.5" x2="617" y2="326.5" stroke="#111" stroke-width="1"/>
<line x1="660.6" y1="323.5" x2="660.6" y2="326.5" stroke="#111" stroke-width="1"/>
<path d="M602.3 323.8V309.56H608.5V323.8" stroke="#111" stroke-width="1.4" fill="none"/>
<line x1="605.4" y1="311.85" x2="605.4" y2="305.87" stroke="#222" stroke-width="0.8"/>
<line x1="603.2" y1="305.87" x2="607.6" y2="305.87" stroke="#222" stroke-width="0.8"/>
<line x1="603.2" y1="311.85" x2="607.6" y2="311.85" stroke="#222" stroke-width="0.8"/>
<path d="M605.4 304.74L607.05 307.74L603.75 307.74Z" fill="#111"/>
<circle cx="605.4" cy="309.86" r="1.5" fill="#111"/>
<path d="M613.7 323.8V253.78H620V323.8" stroke="#f0282d" stroke-width="1.4" fill="none"/>
<line x1="616.85" y1="256.74" x2="616.85" y2="249.76" stroke="#222" stroke-width="0.8"/>
<line x1="614.65" y1="249.76" x2="619.05" y2="249.76" stroke="#222" stroke-width="0.8"/>
<line x1="614.65" y1="256.74" x2="619.05" y2="256.74" stroke="#222" stroke-width="0.8"/>
<circle cx="616.85" cy="249.43" r="1.5" fill="#111"/>
<circle cx="614.85" cy="253.42" r="1.5" fill="#111"/>
<circle cx="618.85" cy="254.08" r="1.5" fill="#111"/>
<path d="M625.7 323.8V285.32H632V323.8" stroke="#1414f0" stroke-width="1.4" fill="none"/>
<line x1="628.85" y1="286.62" x2="628.85" y2="282.63" stroke="#222" stroke-width="0.8"/>
<line x1="626.65" y1="282.63" x2="631.05" y2="282.63" stroke="#222" stroke-width="0.8"/>
<line x1="626.65" y1="286.62" x2="631.05" y2="286.62" stroke="#222" stroke-width="0.8"/>
<circle cx="628.85" cy="283.3" r="1.5" fill="#111"/>
<path d="M628.85 283.49L630.5 286.49L627.2 286.49Z" fill="#111"/>
<path d="M646.2 323.8V311.55H651.6V323.8" stroke="#111" stroke-width="1.4" fill="none"/>
<circle cx="648.9" cy="310.19" r="1.5" fill="#111"/>
<path d="M657.7 323.8V296.61H663.9V323.8" stroke="#f0282d" stroke-width="1.4" fill="none"/>
<line x1="660.8" y1="297.9" x2="660.8" y2="293.92" stroke="#222" stroke-width="0.8"/>
<line x1="658.6" y1="293.92" x2="663" y2="293.92" stroke="#222" stroke-width="0.8"/>
<line x1="658.6" y1="297.9" x2="663" y2="297.9" stroke="#222" stroke-width="0.8"/>
<circle cx="659.3" cy="296.24" r="1.5" fill="#111"/>
<circle cx="662.3" cy="294.25" r="1.5" fill="#111"/>
<path d="M669.1 323.8V307.9H675.3V323.8" stroke="#1414f0" stroke-width="1.4" fill="none"/>
<circle cx="672.2" cy="306.87" r="1.5" fill="#111"/>
<path d="M672.2 306.06L673.85 309.06L670.55 309.06Z" fill="#111"/>
<text x="617.5" y="336" font-size="9.3" text-anchor="middle" fill="#1a1a1a" stroke="#1a1a1a" stroke-width="0.12">vector</text>
<text x="660.5" y="336" font-size="9.3" text-anchor="middle" fill="#1a1a1a" stroke="#1a1a1a" stroke-width="0.12">BRD4</text>
<text transform="translate(579.2 280.3) rotate(-90)" font-size="9.2" text-anchor="middle" fill="#1a1a1a" stroke="#1a1a1a" stroke-width="0.12">Lipid ROS positive (%)</text>
<path d="M603.9 234V230.5H626.5V234" stroke="#333" stroke-width="0.9" fill="none"/>
<path d="M629 234V230.5H672.2V234" stroke="#333" stroke-width="0.9" fill="none"/>
<path d="M603.9 247.5V244H616.1V247.5" stroke="#333" stroke-width="0.9" fill="none"/>
<path d="M618.2 247.5V244H656.4V247.5" stroke="#333" stroke-width="0.9" fill="none"/>
<text x="615" y="229.4" font-size="8" text-anchor="middle" fill="#111" font-weight="bold" letter-spacing="0.3" stroke="#111" stroke-width="0.12">***</text>
<text x="651" y="226.98" font-size="6.8" text-anchor="middle" fill="#6a6a6a" font-style="italic" stroke="#6a6a6a" stroke-width="0.12">###</text>
<text x="609.5" y="242.6" font-size="8" text-anchor="middle" fill="#111" font-weight="bold" letter-spacing="0.3" stroke="#111" stroke-width="0.12">***</text>
<text x="636.5" y="240.38" font-size="6.8" text-anchor="middle" fill="#6a6a6a" font-style="italic" stroke="#6a6a6a" stroke-width="0.12">###</text>
<rect x="616.35" y="180.6" width="7.4" height="5.4" fill="none" stroke="#111" stroke-width="1.5" fill="#fff"/>
<text x="628.4" y="186.6" font-size="9.3" text-anchor="start" fill="#222" stroke="#222" stroke-width="0.12">con-sh</text>
<rect x="616.35" y="194.1" width="7.4" height="5.4" fill="none" stroke="#f0282d" stroke-width="1.5" fill="#fff"/>
<text x="628.4" y="200.1" font-size="9.3" text-anchor="start" fill="#222" stroke="#222" stroke-width="0.12">USP35-sh#1</text>
<rect x="616.35" y="208.1" width="7.4" height="5.4" fill="none" stroke="#1414f0" stroke-width="1.5" fill="#fff"/>
<text x="628.4" y="214.1" font-size="9.3" text-anchor="start" fill="#222" stroke="#222" stroke-width="0.12">USP35-sh#2</text>
<line x1="50.5" y1="397.1" x2="50.5" y2="481.5" stroke="#111" stroke-width="1.2"/>
<line x1="47.5" y1="481" x2="50.5" y2="481" stroke="#111" stroke-width="1"/>
<text x="46.5" y="484.1" font-size="8.6" text-anchor="end" fill="#222" stroke="#222" stroke-width="0.12">0.0</text>
<line x1="47.5" y1="453.2" x2="50.5" y2="453.2" stroke="#111" stroke-width="1"/>
<text x="46.5" y="456.3" font-size="8.6" text-anchor="end" fill="#222" stroke="#222" stroke-width="0.12">0.5</text>
<line x1="47.5" y1="425.4" x2="50.5" y2="425.4" stroke="#111" stroke-width="1"/>
<text x="46.5" y="428.5" font-size="8.6" text-anchor="end" fill="#222" stroke="#222" stroke-width="0.12">1.0</text>
<line x1="47.5" y1="397.6" x2="50.5" y2="397.6" stroke="#111" stroke-width="1"/>
<text x="46.5" y="400.7" font-size="8.6" text-anchor="end" fill="#222" stroke="#222" stroke-width="0.12">1.5</text>
<line x1="49.9" y1="481.5" x2="134.2" y2="481.5" stroke="#111" stroke-width="1.2"/>
<line x1="70.2" y1="481.5" x2="70.2" y2="484.5" stroke="#111" stroke-width="1"/>
<line x1="114" y1="481.5" x2="114" y2="484.5" stroke="#111" stroke-width="1"/>
<path d="M55.6 481V423.32H62V481" stroke="#111" stroke-width="1.4" fill="none"/>
<line x1="58.8" y1="428.18" x2="58.8" y2="417.06" stroke="#222" stroke-width="0.8"/>
<line x1="56.6" y1="417.06" x2="61" y2="417.06" stroke="#222" stroke-width="0.8"/>
<line x1="56.6" y1="428.18" x2="61" y2="428.18" stroke="#222" stroke-width="0.8"/>
<path d="M58.8 416.37L60.45 419.37L57.15 419.37Z" fill="#111"/>
<circle cx="58.8" cy="423.73" r="1.5" fill="#111"/>
<path d="M58.8 425.82L60.45 428.82L57.15 428.82Z" fill="#111"/>
<path d="M67 481V450.56H73.1V481" stroke="#f0282d" stroke-width="1.4" fill="none"/>
<line x1="70.05" y1="452.09" x2="70.05" y2="447.08" stroke="#222" stroke-width="0.8"/>
<line x1="67.85" y1="447.08" x2="72.25" y2="447.08" stroke="#222" stroke-width="0.8"/>
<line x1="67.85" y1="452.09" x2="72.25" y2="452.09" stroke="#222" stroke-width="0.8"/>
<rect x="67.05" y="450.03" width="3" height="3" fill="#111" stroke="none" stroke-width="1"/>
<circle cx="70.05" cy="448.75" r="1.5" fill="#111"/>
<circle cx="72.05" cy="447.08" r="1.5" fill="#111"/>
<path d="M79 481V443.34H85.3V481" stroke="#1414f0" stroke-width="1.4" fill="none"/>
<path d="M82.15 440.28L83.8 443.28L80.5 443.28Z" fill="#111"/>
<path d="M98.9 481V413.87H105.3V481" stroke="#111" stroke-width="1.4" fill="none"/>
<line x1="102.1" y1="415.95" x2="102.1" y2="410.39" stroke="#222" stroke-width="0.8"/>
<line x1="99.9" y1="410.39" x2="104.3" y2="410.39" stroke="#222" stroke-width="0.8"/>
<line x1="99.9" y1="415.95" x2="104.3" y2="415.95" stroke="#222" stroke-width="0.8"/>
<circle cx="102.1" cy="410.39" r="1.5" fill="#111"/>
<circle cx="100.1" cy="414.28" r="1.5" fill="#111"/>
<circle cx="104.1" cy="414.28" r="1.5" fill="#111"/>
<path d="M110.9 481V432.77H117.3V481" stroke="#f0282d" stroke-width="1.4" fill="none"/>
<circle cx="112.1" cy="432.63" r="1.5" fill="#111"/>
<circle cx="114.1" cy="430.96" r="1.5" fill="#111"/>
<circle cx="116.1" cy="429.85" r="1.5" fill="#111"/>
<path d="M122.8 481V428.88H129V481" stroke="#1414f0" stroke-width="1.4" fill="none"/>
<path d="M125.9 424.71L127.55 427.71L124.25 427.71Z" fill="#111"/>
<circle cx="123.9" cy="428.74" r="1.5" fill="#111"/>
<circle cx="127.9" cy="428.74" r="1.5" fill="#111"/>
<text x="58.4" y="375.8" font-size="10.3" text-anchor="middle" fill="#1a1a1a" stroke="#1a1a1a" stroke-width="0.12">MCF-7</text>
<text x="70.5" y="493.6" font-size="9.3" text-anchor="middle" fill="#1a1a1a" stroke="#1a1a1a" stroke-width="0.12">vector</text>
<text x="113.8" y="493.6" font-size="9.3" text-anchor="middle" fill="#1a1a1a" stroke="#1a1a1a" stroke-width="0.12">BRD4</text>
<text transform="translate(30.3 437.4) rotate(-90)" font-size="9.2" text-anchor="middle" fill="#1a1a1a" stroke="#1a1a1a" stroke-width="0.12">Absorbance (OD540nm)</text>
<path d="M58 394.7V391.2H82.3V394.7" stroke="#333" stroke-width="0.9" fill="none"/>
<path d="M83.4 394.7V391.2H125.2V394.7" stroke="#333" stroke-width="0.9" fill="none"/>
<path d="M58 406.9V403.4H70.2V406.9" stroke="#333" stroke-width="0.9" fill="none"/>
<path d="M72 406.9V403.4H112.6V406.9" stroke="#333" stroke-width="0.9" fill="none"/>
<text x="70.2" y="390" font-size="8" text-anchor="middle" fill="#111" font-weight="bold" letter-spacing="0.3" stroke="#111" stroke-width="0.12">***</text>
<text x="98" y="387.78" font-size="6.8" text-anchor="middle" fill="#6a6a6a" font-style="italic" stroke="#6a6a6a" stroke-width="0.12">###</text>
<text x="64.4" y="402.5" font-size="8" text-anchor="middle" fill="#111" font-weight="bold" letter-spacing="0.3" stroke="#111" stroke-width="0.12">***</text>
<text x="91.5" y="400.38" font-size="6.8" text-anchor="middle" fill="#6a6a6a" font-style="italic" stroke="#6a6a6a" stroke-width="0.12">###</text>
<rect x="130.35" y="382.8" width="7.6" height="5.4" fill="none" stroke="#111" stroke-width="1.5" fill="#fff"/>
<text x="143.4" y="388.8" font-size="9.3" text-anchor="start" fill="#222" stroke="#222" stroke-width="0.12">con-sh</text>
<rect x="130.35" y="396.4" width="7.6" height="5.4" fill="none" stroke="#f0282d" stroke-width="1.5" fill="#fff"/>
<text x="143.4" y="402.4" font-size="9.3" text-anchor="start" fill="#222" stroke="#222" stroke-width="0.12">USP35-sh#1</text>
<rect x="130.35" y="410.1" width="7.6" height="5.4" fill="none" stroke="#1414f0" stroke-width="1.5" fill="#fff"/>
<text x="143.4" y="416.1" font-size="9.3" text-anchor="start" fill="#222" stroke="#222" stroke-width="0.12">USP35-sh#2</text>
<line x1="51.5" y1="540" x2="51.5" y2="623.8" stroke="#111" stroke-width="1.2"/>
<line x1="48.5" y1="623.3" x2="51.5" y2="623.3" stroke="#111" stroke-width="1"/>
<text x="47.5" y="626.4" font-size="8.6" text-anchor="end" fill="#222" stroke="#222" stroke-width="0.12">0.0</text>
<line x1="48.5" y1="595.7" x2="51.5" y2="595.7" stroke="#111" stroke-width="1"/>
<text x="47.5" y="598.8" font-size="8.6" text-anchor="end" fill="#222" stroke="#222" stroke-width="0.12">0.5</text>
<line x1="48.5" y1="568.1" x2="51.5" y2="568.1" stroke="#111" stroke-width="1"/>
<text x="47.5" y="571.2" font-size="8.6" text-anchor="end" fill="#222" stroke="#222" stroke-width="0.12">1.0</text>
<line x1="48.5" y1="540.5" x2="51.5" y2="540.5" stroke="#111" stroke-width="1"/>
<text x="47.5" y="543.6" font-size="8.6" text-anchor="end" fill="#222" stroke="#222" stroke-width="0.12">1.5</text>
<line x1="50.9" y1="623.5" x2="134.2" y2="623.5" stroke="#111" stroke-width="1.2"/>
<line x1="70.2" y1="623.5" x2="70.2" y2="626.5" stroke="#111" stroke-width="1"/>
<line x1="114" y1="623.5" x2="114" y2="626.5" stroke="#111" stroke-width="1"/>
<path d="M55.6 623.3V576.53H62V623.3" stroke="#111" stroke-width="1.4" fill="none"/>
<path d="M58.8 572.37L60.45 575.37L57.15 575.37Z" fill="#111"/>
<circle cx="56.8" cy="575.83" r="1.5" fill="#111"/>
<circle cx="60.8" cy="575.83" r="1.5" fill="#111"/>
<path d="M67 623.3V595.3H73.7V623.3" stroke="#f0282d" stroke-width="1.4" fill="none"/>
<rect x="68.85" y="590.34" width="3" height="3" fill="#111" stroke="none" stroke-width="1"/>
<circle cx="68.35" cy="594.6" r="1.5" fill="#111"/>
<circle cx="72.35" cy="594.6" r="1.5" fill="#111"/>
<path d="M79 623.3V584.26H85.3V623.3" stroke="#1414f0" stroke-width="1.4" fill="none"/>
<path d="M82.15 579.55L83.8 582.55L80.5 582.55Z" fill="#111"/>
<circle cx="80.15" cy="584.11" r="1.5" fill="#111"/>
<circle cx="84.15" cy="584.11" r="1.5" fill="#111"/>
<path d="M98.9 623.3V564.38H105.3V623.3" stroke="#111" stroke-width="1.4" fill="none"/>
<line x1="102.1" y1="567" x2="102.1" y2="560.37" stroke="#222" stroke-width="0.8"/>
<line x1="99.9" y1="560.37" x2="104.3" y2="560.37" stroke="#222" stroke-width="0.8"/>
<line x1="99.9" y1="567" x2="104.3" y2="567" stroke="#222" stroke-width="0.8"/>
<circle cx="102.1" cy="560.37" r="1.5" fill="#111"/>
<circle cx="102.1" cy="565.34" r="1.5" fill="#111"/>
<path d="M110.9 623.3V585.91H117.3V623.3" stroke="#f0282d" stroke-width="1.4" fill="none"/>
<circle cx="112.1" cy="585.76" r="1.5" fill="#111"/>
<circle cx="114.1" cy="584.66" r="1.5" fill="#111"/>
<circle cx="116.1" cy="585.21" r="1.5" fill="#111"/>
<path d="M122.8 623.3V577.63H129V623.3" stroke="#1414f0" stroke-width="1.4" fill="none"/>
<path d="M125.9 572.92L127.55 575.92L124.25 575.92Z" fill="#111"/>
<text x="60.6" y="523" font-size="10.3" text-anchor="middle" fill="#1a1a1a" stroke="#1a1a1a" stroke-width="0.12">ZR-75-1</text>
<text x="70.5" y="635.4" font-size="9.3" text-anchor="middle" fill="#1a1a1a" stroke="#1a1a1a" stroke-width="0.12">vector</text>
<text x="113.8" y="635.4" font-size="9.3" text-anchor="middle" fill="#1a1a1a" stroke="#1a1a1a" stroke-width="0.12">BRD4</text>
<text transform="translate(30.3 578.9) rotate(-90)" font-size="9.2" text-anchor="middle" fill="#1a1a1a" stroke="#1a1a1a" stroke-width="0.12">Absorbance (OD540nm)</text>
<path d="M58 544.2V540.7H82.8V544.2" stroke="#333" stroke-width="0.9" fill="none"/>
<path d="M84.3 544.2V540.7H125.7V544.2" stroke="#333" stroke-width="0.9" fill="none"/>
<path d="M58 560.1V556.6H72V560.1" stroke="#333" stroke-width="0.9" fill="none"/>
<path d="M73.5 560.1V556.6H115.3V560.1" stroke="#333" stroke-width="0.9" fill="none"/>
<text x="70.2" y="539.2" font-size="8" text-anchor="middle" fill="#111" font-weight="bold" letter-spacing="0.3" stroke="#111" stroke-width="0.12">**</text>
<text x="101.8" y="537.19" font-size="7.4" text-anchor="middle" fill="#444" font-style="italic" stroke="#444" stroke-width="0.12">##</text>
<text x="65" y="555" font-size="8" text-anchor="middle" fill="#111" font-weight="bold" letter-spacing="0.3" stroke="#111" stroke-width="0.12">***</text>
<text x="94.5" y="552.49" font-size="7.4" text-anchor="middle" fill="#444" font-style="italic" stroke="#444" stroke-width="0.12">##</text>
<rect x="130.45" y="529.9" width="7.5" height="5.4" fill="none" stroke="#111" stroke-width="1.5" fill="#fff"/>
<text x="143.4" y="535.9" font-size="9.3" text-anchor="start" fill="#222" stroke="#222" stroke-width="0.12">con-sh</text>
<rect x="130.45" y="544" width="7.5" height="5.4" fill="none" stroke="#f0282d" stroke-width="1.5" fill="#fff"/>
<text x="143.4" y="550" font-size="9.3" text-anchor="start" fill="#222" stroke="#222" stroke-width="0.12">USP35-sh#1</text>
<rect x="130.45" y="557.3" width="7.5" height="5.4" fill="none" stroke="#1414f0" stroke-width="1.5" fill="#fff"/>
<text x="143.4" y="563.3" font-size="9.3" text-anchor="start" fill="#222" stroke="#222" stroke-width="0.12">USP35-sh#2</text>
<line x1="420.5" y1="372.4" x2="420.5" y2="455.8" stroke="#111" stroke-width="1.2"/>
<line x1="417.5" y1="455.3" x2="420.5" y2="455.3" stroke="#111" stroke-width="1"/>
<text x="416.5" y="458.4" font-size="8.6" text-anchor="end" fill="#222" stroke="#222" stroke-width="0.12">0.0</text>
<line x1="417.5" y1="438.82" x2="420.5" y2="438.82" stroke="#111" stroke-width="1"/>
<text x="416.5" y="441.92" font-size="8.6" text-anchor="end" fill="#222" stroke="#222" stroke-width="0.12">0.5</text>
<line x1="417.5" y1="422.34" x2="420.5" y2="422.34" stroke="#111" stroke-width="1"/>
<text x="416.5" y="425.44" font-size="8.6" text-anchor="end" fill="#222" stroke="#222" stroke-width="0.12">1.0</text>
<line x1="417.5" y1="405.86" x2="420.5" y2="405.86" stroke="#111" stroke-width="1"/>
<text x="416.5" y="408.96" font-size="8.6" text-anchor="end" fill="#222" stroke="#222" stroke-width="0.12">1.5</text>
<line x1="417.5" y1="389.38" x2="420.5" y2="389.38" stroke="#111" stroke-width="1"/>
<text x="416.5" y="392.48" font-size="8.6" text-anchor="end" fill="#222" stroke="#222" stroke-width="0.12">2.0</text>
<line x1="417.5" y1="372.9" x2="420.5" y2="372.9" stroke="#111" stroke-width="1"/>
<text x="416.5" y="376" font-size="8.6" text-anchor="end" fill="#222" stroke="#222" stroke-width="0.12">2.5</text>
<line x1="419.9" y1="455.5" x2="503.7" y2="455.5" stroke="#111" stroke-width="1.2"/>
<line x1="432.6" y1="455.5" x2="432.6" y2="458.5" stroke="#111" stroke-width="1"/>
<line x1="452" y1="455.5" x2="452" y2="458.5" stroke="#111" stroke-width="1"/>
<line x1="471.2" y1="455.5" x2="471.2" y2="458.5" stroke="#111" stroke-width="1"/>
<line x1="490.6" y1="455.5" x2="490.6" y2="458.5" stroke="#111" stroke-width="1"/>
<path d="M427.2 455.3V423.04H437.9V455.3" stroke="#111" stroke-width="1.4" fill="none"/>
<circle cx="429.55" cy="422.34" r="1.5" fill="#111"/>
<circle cx="432.55" cy="422.34" r="1.5" fill="#111"/>
<circle cx="435.55" cy="422.34" r="1.5" fill="#111"/>
<path d="M446.5 455.3V441.83H457.1V455.3" stroke="#a8a8a8" stroke-width="1.4" fill="none"/>
<line x1="451.8" y1="443.43" x2="451.8" y2="438.16" stroke="#222" stroke-width="0.8"/>
<line x1="449.6" y1="438.16" x2="454" y2="438.16" stroke="#222" stroke-width="0.8"/>
<line x1="449.6" y1="443.43" x2="454" y2="443.43" stroke="#222" stroke-width="0.8"/>
<rect x="450.3" y="441.28" width="3" height="3" fill="#111" stroke="none" stroke-width="1"/>
<circle cx="451.8" cy="439.48" r="1.5" fill="#111"/>
<rect x="454.3" y="437.32" width="3" height="3" fill="#111" stroke="none" stroke-width="1"/>
<path d="M465.9 455.3V389.42H476.9V455.3" stroke="#111" stroke-width="1.4" fill="none"/>
<line x1="471.4" y1="397.62" x2="471.4" y2="378.83" stroke="#222" stroke-width="0.8"/>
<line x1="469.2" y1="378.83" x2="473.6" y2="378.83" stroke="#222" stroke-width="0.8"/>
<line x1="469.2" y1="397.62" x2="473.6" y2="397.62" stroke="#222" stroke-width="0.8"/>
<path d="M471.4 377.03L473.05 380.03L469.75 380.03Z" fill="#111"/>
<circle cx="471.4" cy="389.38" r="1.5" fill="#111"/>
<path d="M471.4 393.51L473.05 396.51L469.75 396.51Z" fill="#111"/>
<path d="M484.9 455.3V415.79H496.2V455.3" stroke="#111" stroke-width="1.4" fill="none"/>
<line x1="490.55" y1="420.69" x2="490.55" y2="409.16" stroke="#222" stroke-width="0.8"/>
<line x1="488.35" y1="409.16" x2="492.75" y2="409.16" stroke="#222" stroke-width="0.8"/>
<line x1="488.35" y1="420.69" x2="492.75" y2="420.69" stroke="#222" stroke-width="0.8"/>
<path d="M490.55 409.66L492.2 412.66L488.9 412.66Z" fill="#111"/>
<path d="M490.55 417.9L492.2 420.9L488.9 420.9Z" fill="#111"/>
<text transform="translate(388 411.8) rotate(-90)" font-size="9.2" text-anchor="middle" fill="#1a1a1a" stroke="#1a1a1a" stroke-width="0.12">relative SLC7A11</text>
<text transform="translate(399.6 412) rotate(-90)" font-size="9.2" text-anchor="middle" fill="#1a1a1a" stroke="#1a1a1a" stroke-width="0.12">protein level</text>
<path d="M432.6 360.8V357.3H469.7V360.8" stroke="#333" stroke-width="0.9" fill="none"/>
<path d="M471.5 360.8V357.3H490.3V360.8" stroke="#333" stroke-width="0.9" fill="none"/>
<path d="M432.6 376.4V372.9H453.5V376.4" stroke="#333" stroke-width="0.9" fill="none"/>
<path d="M455.3 376.4V372.9H490.3V376.4" stroke="#333" stroke-width="0.9" fill="none"/>
<text x="451.6" y="356" font-size="8" text-anchor="middle" fill="#111" font-weight="bold" letter-spacing="0.3" stroke="#111" stroke-width="0.12">***</text>
<text x="481" y="356" font-size="8" text-anchor="middle" fill="#111" font-weight="bold" letter-spacing="0.3" stroke="#111" stroke-width="0.12">**</text>
<text x="443" y="371.7" font-size="8" text-anchor="middle" fill="#111" font-weight="bold" letter-spacing="0.3" stroke="#111" stroke-width="0.12">*</text>
<text x="472.8" y="371.7" font-size="8" text-anchor="middle" fill="#111" font-weight="bold" letter-spacing="0.3" stroke="#111" stroke-width="0.12">**</text>
<text x="416.5" y="469.4" font-size="9.3" text-anchor="end" fill="#1a1a1a" stroke="#1a1a1a" stroke-width="0.12">vector</text>
<text x="432.8" y="469.2" font-size="8.4" text-anchor="middle" fill="#333" stroke="#333" stroke-width="0.12">+</text>
<text x="452" y="469.2" font-size="8.4" text-anchor="middle" fill="#333" stroke="#333" stroke-width="0.12">+</text>
<text x="471.2" y="469.2" font-size="8.4" text-anchor="middle" fill="#333" stroke="#333" stroke-width="0.12">-</text>
<text x="490.8" y="469.2" font-size="8.4" text-anchor="middle" fill="#333" stroke="#333" stroke-width="0.12">-</text>
<text x="416.5" y="480.4" font-size="9.3" text-anchor="end" fill="#1a1a1a" stroke="#1a1a1a" stroke-width="0.12">USP35</text>
<text x="432.8" y="480.2" font-size="8.4" text-anchor="middle" fill="#333" stroke="#333" stroke-width="0.12">-</text>
<text x="452" y="480.2" font-size="8.4" text-anchor="middle" fill="#333" stroke="#333" stroke-width="0.12">-</text>
<text x="471.2" y="480.2" font-size="8.4" text-anchor="middle" fill="#333" stroke="#333" stroke-width="0.12">+</text>
<text x="490.8" y="480.2" font-size="8.4" text-anchor="middle" fill="#333" stroke="#333" stroke-width="0.12">+</text>
<text x="416.5" y="491.5" font-size="9.3" text-anchor="end" fill="#1a1a1a" stroke="#1a1a1a" stroke-width="0.12">vehicle</text>
<text x="432.8" y="491.3" font-size="8.4" text-anchor="middle" fill="#333" stroke="#333" stroke-width="0.12">+</text>
<text x="452" y="491.3" font-size="8.4" text-anchor="middle" fill="#333" stroke="#333" stroke-width="0.12">-</text>
<text x="471.2" y="491.3" font-size="8.4" text-anchor="middle" fill="#333" stroke="#333" stroke-width="0.12">+</text>
<text x="490.8" y="491.3" font-size="8.4" text-anchor="middle" fill="#333" stroke="#333" stroke-width="0.12">-</text>
<text x="418.2" y="502.9" font-size="9.3" text-anchor="end" fill="#1a1a1a" stroke="#1a1a1a" stroke-width="0.12">(+)-JQ-1</text>
<text x="432.8" y="502.7" font-size="8.4" text-anchor="middle" fill="#333" stroke="#333" stroke-width="0.12">-</text>
<text x="452" y="502.7" font-size="8.4" text-anchor="middle" fill="#333" stroke="#333" stroke-width="0.12">+</text>
<text x="471.2" y="502.7" font-size="8.4" text-anchor="middle" fill="#333" stroke="#333" stroke-width="0.12">-</text>
<text x="490.8" y="502.7" font-size="8.4" text-anchor="middle" fill="#333" stroke="#333" stroke-width="0.12">+</text>
<line x1="416.5" y1="531.3" x2="416.5" y2="614.8" stroke="#111" stroke-width="1.2"/>
<line x1="413.5" y1="614.3" x2="416.5" y2="614.3" stroke="#111" stroke-width="1"/>
<text x="412.5" y="617.4" font-size="8.6" text-anchor="end" fill="#222" stroke="#222" stroke-width="0.12">0.0</text>
<line x1="413.5" y1="593.67" x2="416.5" y2="593.67" stroke="#111" stroke-width="1"/>
<text x="412.5" y="596.77" font-size="8.6" text-anchor="end" fill="#222" stroke="#222" stroke-width="0.12">0.5</text>
<line x1="413.5" y1="573.05" x2="416.5" y2="573.05" stroke="#111" stroke-width="1"/>
<text x="412.5" y="576.15" font-size="8.6" text-anchor="end" fill="#222" stroke="#222" stroke-width="0.12">1.0</text>
<line x1="413.5" y1="552.42" x2="416.5" y2="552.42" stroke="#111" stroke-width="1"/>
<text x="412.5" y="555.52" font-size="8.6" text-anchor="end" fill="#222" stroke="#222" stroke-width="0.12">1.5</text>
<line x1="413.5" y1="531.8" x2="416.5" y2="531.8" stroke="#111" stroke-width="1"/>
<text x="412.5" y="534.9" font-size="8.6" text-anchor="end" fill="#222" stroke="#222" stroke-width="0.12">2.0</text>
<line x1="415.9" y1="614.5" x2="499.6" y2="614.5" stroke="#111" stroke-width="1.2"/>
<line x1="429" y1="614.5" x2="429" y2="617.5" stroke="#111" stroke-width="1"/>
<line x1="448.3" y1="614.5" x2="448.3" y2="617.5" stroke="#111" stroke-width="1"/>
<line x1="467.5" y1="614.5" x2="467.5" y2="617.5" stroke="#111" stroke-width="1"/>
<line x1="486.8" y1="614.5" x2="486.8" y2="617.5" stroke="#111" stroke-width="1"/>
<path d="M423.6 614.3V573.75H434.3V614.3" stroke="#111" stroke-width="1.4" fill="none"/>
<circle cx="425.95" cy="573.05" r="1.5" fill="#111"/>
<circle cx="428.95" cy="573.05" r="1.5" fill="#111"/>
<circle cx="431.95" cy="573.05" r="1.5" fill="#111"/>
<path d="M442.9 614.3V596.85H453.5V614.3" stroke="#a8a8a8" stroke-width="1.4" fill="none"/>
<rect x="442.7" y="595.06" width="3" height="3" fill="#111" stroke="none" stroke-width="1"/>
<circle cx="448.2" cy="592.85" r="1.5" fill="#111"/>
<rect x="450.7" y="594.24" width="3" height="3" fill="#111" stroke="none" stroke-width="1"/>
<path d="M462.1 614.3V558.08H473V614.3" stroke="#333" stroke-width="1.4" fill="none"/>
<line x1="467.55" y1="562.74" x2="467.55" y2="551.6" stroke="#222" stroke-width="0.8"/>
<line x1="465.35" y1="551.6" x2="469.75" y2="551.6" stroke="#222" stroke-width="0.8"/>
<line x1="465.35" y1="562.74" x2="469.75" y2="562.74" stroke="#222" stroke-width="0.8"/>
<path d="M467.55 550.62L469.2 553.62L465.9 553.62Z" fill="#111"/>
<path d="M467.55 558.05L469.2 561.05L465.9 561.05Z" fill="#111"/>
<path d="M481.2 614.3V570.45H491.9V614.3" stroke="#333" stroke-width="1.4" fill="none"/>
<line x1="486.55" y1="573.88" x2="486.55" y2="564.8" stroke="#222" stroke-width="0.8"/>
<line x1="484.35" y1="564.8" x2="488.75" y2="564.8" stroke="#222" stroke-width="0.8"/>
<line x1="484.35" y1="573.88" x2="488.75" y2="573.88" stroke="#222" stroke-width="0.8"/>
<path d="M486.55 563L488.2 566L484.9 566Z" fill="#111"/>
<path d="M486.55 571.25L488.2 574.25L484.9 574.25Z" fill="#111"/>
<text transform="translate(385.6 570.8) rotate(-90)" font-size="9.2" text-anchor="middle" fill="#1a1a1a" stroke="#1a1a1a" stroke-width="0.12">relative SLC7A11</text>
<text transform="translate(397 570.4) rotate(-90)" font-size="9.2" text-anchor="middle" fill="#1a1a1a" stroke="#1a1a1a" stroke-width="0.12">protein level</text>
<path d="M429 531.2V527.7H466.1V531.2" stroke="#333" stroke-width="0.9" fill="none"/>
<path d="M468.3 531.2V527.7H487.7V531.2" stroke="#333" stroke-width="0.9" fill="none"/>
<path d="M429 548.6V545.1H448.5V548.6" stroke="#333" stroke-width="0.9" fill="none"/>
<path d="M451.2 548.6V545.1H487.7V548.6" stroke="#333" stroke-width="0.9" fill="none"/>
<text x="447.5" y="525.9" font-size="8" text-anchor="middle" fill="#111" font-weight="bold" letter-spacing="0.3" stroke="#111" stroke-width="0.12">**</text>
<text x="477.8" y="525.9" font-size="8" text-anchor="middle" fill="#111" font-weight="bold" letter-spacing="0.3" stroke="#111" stroke-width="0.12">*</text>
<text x="438.2" y="542.7" font-size="8" text-anchor="middle" fill="#111" font-weight="bold" letter-spacing="0.3" stroke="#111" stroke-width="0.12">***</text>
<text x="468.8" y="542.7" font-size="8" text-anchor="middle" fill="#111" font-weight="bold" letter-spacing="0.3" stroke="#111" stroke-width="0.12">***</text>
<text x="415.5" y="629.2" font-size="9.3" text-anchor="end" fill="#1a1a1a" stroke="#1a1a1a" stroke-width="0.12">vector</text>
<text x="429.7" y="629" font-size="8.4" text-anchor="middle" fill="#333" stroke="#333" stroke-width="0.12">+</text>
<text x="448.9" y="629" font-size="8.4" text-anchor="middle" fill="#333" stroke="#333" stroke-width="0.12">+</text>
<text x="467.5" y="629" font-size="8.4" text-anchor="middle" fill="#333" stroke="#333" stroke-width="0.12">-</text>
<text x="486" y="629" font-size="8.4" text-anchor="middle" fill="#333" stroke="#333" stroke-width="0.12">-</text>
<text x="415.5" y="640" font-size="9.3" text-anchor="end" fill="#1a1a1a" stroke="#1a1a1a" stroke-width="0.12">USP35</text>
<text x="429.7" y="639.8" font-size="8.4" text-anchor="middle" fill="#333" stroke="#333" stroke-width="0.12">-</text>
<text x="448.9" y="639.8" font-size="8.4" text-anchor="middle" fill="#333" stroke="#333" stroke-width="0.12">-</text>
<text x="467.5" y="639.8" font-size="8.4" text-anchor="middle" fill="#333" stroke="#333" stroke-width="0.12">+</text>
<text x="486" y="639.8" font-size="8.4" text-anchor="middle" fill="#333" stroke="#333" stroke-width="0.12">+</text>
<text x="415.5" y="651.1" font-size="9.3" text-anchor="end" fill="#1a1a1a" stroke="#1a1a1a" stroke-width="0.12">vehicle</text>
<text x="429.7" y="650.9" font-size="8.4" text-anchor="middle" fill="#333" stroke="#333" stroke-width="0.12">+</text>
<text x="448.9" y="650.9" font-size="8.4" text-anchor="middle" fill="#333" stroke="#333" stroke-width="0.12">-</text>
<text x="467.5" y="650.9" font-size="8.4" text-anchor="middle" fill="#333" stroke="#333" stroke-width="0.12">+</text>
<text x="486" y="650.9" font-size="8.4" text-anchor="middle" fill="#333" stroke="#333" stroke-width="0.12">-</text>
<text x="418.8" y="662.5" font-size="9.3" text-anchor="end" fill="#1a1a1a" stroke="#1a1a1a" stroke-width="0.12">(+)-JQ-1</text>
<text x="429.7" y="662.3" font-size="8.4" text-anchor="middle" fill="#333" stroke="#333" stroke-width="0.12">-</text>
<text x="448.9" y="662.3" font-size="8.4" text-anchor="middle" fill="#333" stroke="#333" stroke-width="0.12">+</text>
<text x="467.5" y="662.3" font-size="8.4" text-anchor="middle" fill="#333" stroke="#333" stroke-width="0.12">-</text>
<text x="486" y="662.3" font-size="8.4" text-anchor="middle" fill="#333" stroke="#333" stroke-width="0.12">+</text>
<line x1="561.5" y1="398.4" x2="561.5" y2="483.7" stroke="#111" stroke-width="1.2"/>
<line x1="558.5" y1="483.2" x2="561.5" y2="483.2" stroke="#111" stroke-width="1"/>
<text x="557.5" y="486.3" font-size="8.6" text-anchor="end" fill="#222" stroke="#222" stroke-width="0.12">0.0</text>
<line x1="558.5" y1="455.1" x2="561.5" y2="455.1" stroke="#111" stroke-width="1"/>
<text x="557.5" y="458.2" font-size="8.6" text-anchor="end" fill="#222" stroke="#222" stroke-width="0.12">0.5</text>
<line x1="558.5" y1="427" x2="561.5" y2="427" stroke="#111" stroke-width="1"/>
<text x="557.5" y="430.1" font-size="8.6" text-anchor="end" fill="#222" stroke="#222" stroke-width="0.12">1.0</text>
<line x1="558.5" y1="398.9" x2="561.5" y2="398.9" stroke="#111" stroke-width="1"/>
<text x="557.5" y="402" font-size="8.6" text-anchor="end" fill="#222" stroke="#222" stroke-width="0.12">1.5</text>
<line x1="560.9" y1="483.5" x2="644.7" y2="483.5" stroke="#111" stroke-width="1.2"/>
<line x1="580.8" y1="483.5" x2="580.8" y2="486.5" stroke="#111" stroke-width="1"/>
<line x1="624.9" y1="483.5" x2="624.9" y2="486.5" stroke="#111" stroke-width="1"/>
<path d="M567.4 483.2V444H576.8V483.2" stroke="#111" stroke-width="1.4" fill="none"/>
<line x1="572.1" y1="446.11" x2="572.1" y2="438.8" stroke="#222" stroke-width="0.8"/>
<line x1="569.9" y1="438.8" x2="574.3" y2="438.8" stroke="#222" stroke-width="0.8"/>
<line x1="569.9" y1="446.11" x2="574.3" y2="446.11" stroke="#222" stroke-width="0.8"/>
<path d="M572.1 437L573.75 440L570.45 440Z" fill="#111"/>
<circle cx="572.1" cy="443.86" r="1.5" fill="#111"/>
<path d="M583.6 483.2V420.39H593.6V483.2" stroke="#f0282d" stroke-width="1.4" fill="none"/>
<line x1="588.6" y1="423.07" x2="588.6" y2="415.76" stroke="#222" stroke-width="0.8"/>
<line x1="586.4" y1="415.76" x2="590.8" y2="415.76" stroke="#222" stroke-width="0.8"/>
<line x1="586.4" y1="423.07" x2="590.8" y2="423.07" stroke="#222" stroke-width="0.8"/>
<circle cx="591.6" cy="415.76" r="1.5" fill="#111"/>
<circle cx="588.6" cy="418.57" r="1.5" fill="#111"/>
<circle cx="588.6" cy="423.63" r="1.5" fill="#111"/>
<path d="M611.9 483.2V472.66H621V483.2" stroke="#111" stroke-width="1.4" fill="none"/>
<path d="M616.45 468.47L618.1 471.47L614.8 471.47Z" fill="#111"/>
<path d="M628.3 483.2V463.11H638.1V483.2" stroke="#f0282d" stroke-width="1.4" fill="none"/>
<line x1="633.2" y1="464.09" x2="633.2" y2="459.6" stroke="#222" stroke-width="0.8"/>
<line x1="631" y1="459.6" x2="635.4" y2="459.6" stroke="#222" stroke-width="0.8"/>
<line x1="631" y1="464.09" x2="635.4" y2="464.09" stroke="#222" stroke-width="0.8"/>
<circle cx="633.2" cy="459.6" r="1.5" fill="#111"/>
<circle cx="630.2" cy="462.41" r="1.5" fill="#111"/>
<circle cx="636.2" cy="462.41" r="1.5" fill="#111"/>
<text x="569.6" y="373.7" font-size="10.3" text-anchor="middle" fill="#1a1a1a" stroke="#1a1a1a" stroke-width="0.12">MCF-7</text>
<text x="580.2" y="495.4" font-size="9.3" text-anchor="middle" fill="#1a1a1a" stroke="#1a1a1a" stroke-width="0.12">vehicle</text>
<text x="624" y="495.4" font-size="9.3" text-anchor="middle" fill="#1a1a1a" stroke="#1a1a1a" stroke-width="0.12">(+)-JQ-1</text>
<text transform="translate(541 438.5) rotate(-90)" font-size="9.2" text-anchor="middle" fill="#1a1a1a" stroke="#1a1a1a" stroke-width="0.12">Absorbance (OD540nm)</text>
<path d="M571.2 394V390.5H614.1V394" stroke="#333" stroke-width="0.9" fill="none"/>
<path d="M616.3 394V390.5H632.5V394" stroke="#333" stroke-width="0.9" fill="none"/>
<path d="M571.2 408.7V405.2H589.2V408.7" stroke="#333" stroke-width="0.9" fill="none"/>
<path d="M591 408.7V405.2H632.5V408.7" stroke="#333" stroke-width="0.9" fill="none"/>
<text x="591.9" y="386.38" font-size="6.8" text-anchor="middle" fill="#6a6a6a" font-style="italic" stroke="#6a6a6a" stroke-width="0.12">###</text>
<text x="624.3" y="388.4" font-size="8" text-anchor="middle" fill="#111" font-weight="bold" letter-spacing="0.3" stroke="#111" stroke-width="0.12">*</text>
<text x="579.9" y="403.4" font-size="8" text-anchor="middle" fill="#111" font-weight="bold" letter-spacing="0.3" stroke="#111" stroke-width="0.12">***</text>
<text x="611.5" y="401.38" font-size="6.8" text-anchor="middle" fill="#6a6a6a" font-style="italic" stroke="#6a6a6a" stroke-width="0.12">###</text>
<rect x="614.85" y="420" width="7" height="5.4" fill="none" stroke="#111" stroke-width="1.5" fill="#fff"/>
<text x="628" y="426" font-size="9.3" text-anchor="start" fill="#222" stroke="#222" stroke-width="0.12">vector</text>
<rect x="614.85" y="434.4" width="7" height="5.4" fill="none" stroke="#f0282d" stroke-width="1.5" fill="#fff"/>
<text x="628" y="440.4" font-size="9.3" text-anchor="start" fill="#222" stroke="#222" stroke-width="0.12">USP35</text>
<line x1="559.5" y1="543.1" x2="559.5" y2="627.7" stroke="#111" stroke-width="1.2"/>
<line x1="556.5" y1="627.2" x2="559.5" y2="627.2" stroke="#111" stroke-width="1"/>
<text x="555.5" y="630.3" font-size="8.6" text-anchor="end" fill="#222" stroke="#222" stroke-width="0.12">0.0</text>
<line x1="556.5" y1="606.3" x2="559.5" y2="606.3" stroke="#111" stroke-width="1"/>
<text x="555.5" y="609.4" font-size="8.6" text-anchor="end" fill="#222" stroke="#222" stroke-width="0.12">0.2</text>
<line x1="556.5" y1="585.4" x2="559.5" y2="585.4" stroke="#111" stroke-width="1"/>
<text x="555.5" y="588.5" font-size="8.6" text-anchor="end" fill="#222" stroke="#222" stroke-width="0.12">0.4</text>
<line x1="556.5" y1="564.5" x2="559.5" y2="564.5" stroke="#111" stroke-width="1"/>
<text x="555.5" y="567.6" font-size="8.6" text-anchor="end" fill="#222" stroke="#222" stroke-width="0.12">0.6</text>
<line x1="556.5" y1="543.6" x2="559.5" y2="543.6" stroke="#111" stroke-width="1"/>
<text x="555.5" y="546.7" font-size="8.6" text-anchor="end" fill="#222" stroke="#222" stroke-width="0.12">0.8</text>
<line x1="558.9" y1="627.5" x2="643.4" y2="627.5" stroke="#111" stroke-width="1.2"/>
<line x1="579.5" y1="627.5" x2="579.5" y2="630.5" stroke="#111" stroke-width="1"/>
<line x1="623.3" y1="627.5" x2="623.3" y2="630.5" stroke="#111" stroke-width="1"/>
<path d="M566.7 627.2V574.61H576.1V627.2" stroke="#111" stroke-width="1.4" fill="none"/>
<line x1="571.4" y1="578.09" x2="571.4" y2="569.73" stroke="#222" stroke-width="0.8"/>
<line x1="569.2" y1="569.73" x2="573.6" y2="569.73" stroke="#222" stroke-width="0.8"/>
<line x1="569.2" y1="578.09" x2="573.6" y2="578.09" stroke="#222" stroke-width="0.8"/>
<path d="M571.4 567.93L573.05 570.93L569.75 570.93Z" fill="#111"/>
<path d="M571.4 575.24L573.05 578.24L569.75 578.24Z" fill="#111"/>
<path d="M583 627.2V563.11H592.7V627.2" stroke="#7d2fc4" stroke-width="1.4" fill="none"/>
<line x1="587.85" y1="564.5" x2="587.85" y2="560.32" stroke="#222" stroke-width="0.8"/>
<line x1="585.65" y1="560.32" x2="590.05" y2="560.32" stroke="#222" stroke-width="0.8"/>
<line x1="585.65" y1="564.5" x2="590.05" y2="564.5" stroke="#222" stroke-width="0.8"/>
<circle cx="587.85" cy="559.28" r="1.5" fill="#111"/>
<circle cx="584.85" cy="562.41" r="1.5" fill="#111"/>
<circle cx="590.85" cy="562.41" r="1.5" fill="#111"/>
<path d="M611.4 627.2V611.18H619.9V627.2" stroke="#111" stroke-width="1.4" fill="none"/>
<line x1="615.65" y1="614.66" x2="615.65" y2="606.3" stroke="#222" stroke-width="0.8"/>
<line x1="613.45" y1="606.3" x2="617.85" y2="606.3" stroke="#222" stroke-width="0.8"/>
<line x1="613.45" y1="614.66" x2="617.85" y2="614.66" stroke="#222" stroke-width="0.8"/>
<circle cx="615.65" cy="606.3" r="1.5" fill="#111"/>
<path d="M615.65 611.82L617.3 614.82L614 614.82Z" fill="#111"/>
<path d="M627.5 627.2V586.1H637V627.2" stroke="#7d2fc4" stroke-width="1.4" fill="none"/>
<circle cx="629.25" cy="586.45" r="1.5" fill="#111"/>
<circle cx="632.25" cy="584.36" r="1.5" fill="#111"/>
<circle cx="635.25" cy="586.45" r="1.5" fill="#111"/>
<text x="574.3" y="520.9" font-size="10.3" text-anchor="middle" fill="#1a1a1a" stroke="#1a1a1a" stroke-width="0.12">ZR-75-1</text>
<text x="579.3" y="639.6" font-size="9.3" text-anchor="middle" fill="#1a1a1a" stroke="#1a1a1a" stroke-width="0.12">vehicle</text>
<text x="623" y="639.6" font-size="9.3" text-anchor="middle" fill="#1a1a1a" stroke="#1a1a1a" stroke-width="0.12">(+)-JQ-1</text>
<text transform="translate(540 582.8) rotate(-90)" font-size="9.2" text-anchor="middle" fill="#1a1a1a" stroke="#1a1a1a" stroke-width="0.12">Absorbance (OD540nm)</text>
<path d="M570 540V536.5H613.8V540" stroke="#333" stroke-width="0.9" fill="none"/>
<path d="M616 540V536.5H631.8V540" stroke="#333" stroke-width="0.9" fill="none"/>
<path d="M570 553.5V550H586.8V553.5" stroke="#333" stroke-width="0.9" fill="none"/>
<path d="M587.3 553.5V550H633.6V553.5" stroke="#333" stroke-width="0.9" fill="none"/>
<text x="592" y="532.38" font-size="6.8" text-anchor="middle" fill="#6a6a6a" font-style="italic" stroke="#6a6a6a" stroke-width="0.12">###</text>
<text x="623" y="534.4" font-size="8" text-anchor="middle" fill="#111" font-weight="bold" letter-spacing="0.3" stroke="#111" stroke-width="0.12">***</text>
<text x="578.6" y="547.9" font-size="8" text-anchor="middle" fill="#111" font-weight="bold" letter-spacing="0.3" stroke="#111" stroke-width="0.12">**</text>
<text x="610.2" y="545.88" font-size="6.8" text-anchor="middle" fill="#6a6a6a" font-style="italic" stroke="#6a6a6a" stroke-width="0.12">###</text>
<rect x="612.15" y="559.1" width="6.3" height="5.4" fill="none" stroke="#111" stroke-width="1.5" fill="#fff"/>
<text x="624.6" y="565.1" font-size="9.3" text-anchor="start" fill="#222" stroke="#222" stroke-width="0.12">vector</text>
<rect x="612.15" y="572" width="6.3" height="5.4" fill="none" stroke="#7d2fc4" stroke-width="1.5" fill="#fff"/>
<text x="624.6" y="578" font-size="9.3" text-anchor="start" fill="#222" stroke="#222" stroke-width="0.12">USP35</text>
<rect x="380" y="30.6" width="100" height="101.2" fill="#fff" stroke="none" stroke-width="1"/>
<path d="M380.5 61.4L380.5 61.4L381 61.4L381.5 61.4L382 61.4L382.5 61.4L383 61.4L383.5 61.4L384 61.4L384.5 61.4L385 61.4L385.5 61.4L386 61.4L386.5 61.4L387 61.4L387.5 61.4L388 61.4L388.5 61.4L389 61.4L389.5 61.4L390 61.4L390.5 61.4L391 61.4L391.5 61.4L392 61.4L392.5 61.4L393 61.4L393.5 61.4L394 61.4L394.5 61.39L395 61.39L395.5 61.39L396 61.39L396.5 61.38L397 61.38L397.5 61.37L398 61.36L398.5 61.35L399 61.34L399.5 61.33L400 61.31L400.5 61.28L401 61.26L401.5 61.22L402 61.18L402.5 61.13L403 61.08L403.5 61.01L404 60.92L404.5 60.83L405 60.71L405.5 60.58L406 60.43L406.5 60.25L407 60.05L407.5 59.82L408 59.56L408.5 59.29L409 58.94L409.5 58.55L410 58.19L410.5 57.8L411 57.21L411.5 56.56L412 56L412.5 55.49L413 54.96L413.5 54.26L414 53.36L414.5 52.53L415 51.52L415.5 50.75L416 49.84L416.5 48.83L417 48.01L417.5 46.84L418 46.19L418.5 45.09L419 44.41L419.5 43.42L420 42.21L420.5 40.99L421 40.18L421.5 39.52L422 39.32L422.5 38.7L423 38.27L423.5 37.57L424 37.54L424.5 37.27L425 37.56L425.5 37.47L426 37.77L426.5 37.88L427 38.13L427.5 39.03L428 39.63L428.5 39.9L429 40.33L429.5 40.59L430 41.4L430.5 41.98L431 42.52L431.5 43.25L432 44.01L432.5 44.91L433 45.92L433.5 46.99L434 47.81L434.5 48.39L435 49.2L435.5 50.3L436 51.12L436.5 51.67L437 52.43L437.5 53.1L438 53.82L438.5 54.39L439 55.13L439.5 55.87L440 56.5L440.5 56.91L441 57.35L441.5 57.7L442 58.18L442.5 58.49L443 58.84L443.5 59.14L444 59.46L444.5 59.67L445 59.89L445.5 60.09L446 60.27L446.5 60.42L447 60.56L447.5 60.68L448 60.78L448.5 60.87L449 60.95L449.5 61.02L450 61.08L450.5 61.13L451 61.18L451.5 61.21L452 61.25L452.5 61.27L453 61.29L453.5 61.31L454 61.33L454.5 61.34L455 61.35L455.5 61.36L456 61.37L456.5 61.37L457 61.38L457.5 61.38L458 61.39L458.5 61.39L459 61.39L459.5 61.39L460 61.4L460.5 61.4L461 61.4L461.5 61.4L462 61.4L462.5 61.4L463 61.4L463.5 61.4L464 61.4L464.5 61.4L465 61.4L465.5 61.4L466 61.4L466.5 61.4L467 61.4L467.5 61.4L468 61.4L468.5 61.4L469 61.4L469.5 61.4L470 61.4L470.5 61.4L471 61.4L471.5 61.4L472 61.4L472.5 61.4L473 61.4L473.5 61.4L474 61.4L474.5 61.4L475 61.4L475.5 61.4L476 61.4L476.5 61.4L477 61.4L477.5 61.4L478 61.4L478.5 61.4L479 61.4L479.5 61.4L479.5 61.4Z" fill="#e6963c" fill-opacity="0.5"/>
<path d="M380.5 61.4L380.5 61.4L381 61.4L381.5 61.4L382 61.4L382.5 61.4L383 61.4L383.5 61.4L384 61.4L384.5 61.4L385 61.4L385.5 61.4L386 61.4L386.5 61.4L387 61.4L387.5 61.4L388 61.4L388.5 61.4L389 61.4L389.5 61.4L390 61.4L390.5 61.4L391 61.4L391.5 61.4L392 61.4L392.5 61.4L393 61.4L393.5 61.4L394 61.4L394.5 61.39L395 61.39L395.5 61.39L396 61.39L396.5 61.38L397 61.38L397.5 61.37L398 61.36L398.5 61.35L399 61.34L399.5 61.33L400 61.31L400.5 61.28L401 61.26L401.5 61.22L402 61.18L402.5 61.13L403 61.08L403.5 61.01L404 60.92L404.5 60.83L405 60.71L405.5 60.58L406 60.43L406.5 60.25L407 60.05L407.5 59.82L408 59.56L408.5 59.29L409 58.94L409.5 58.55L410 58.19L410.5 57.8L411 57.21L411.5 56.56L412 56L412.5 55.49L413 54.96L413.5 54.26L414 53.36L414.5 52.53L415 51.52L415.5 50.75L416 49.84L416.5 48.83L417 48.01L417.5 46.84L418 46.19L418.5 45.09L419 44.41L419.5 43.42L420 42.21L420.5 40.99L421 40.18L421.5 39.52L422 39.32L422.5 38.7L423 38.27L423.5 37.57L424 37.54L424.5 37.27L425 37.56L425.5 37.47L426 37.77L426.5 37.88L427 38.13L427.5 39.03L428 39.63L428.5 39.9L429 40.33L429.5 40.59L430 41.4L430.5 41.98L431 42.52L431.5 43.25L432 44.01L432.5 44.91L433 45.92L433.5 46.99L434 47.81L434.5 48.39L435 49.2L435.5 50.3L436 51.12L436.5 51.67L437 52.43L437.5 53.1L438 53.82L438.5 54.39L439 55.13L439.5 55.87L440 56.5L440.5 56.91L441 57.35L441.5 57.7L442 58.18L442.5 58.49L443 58.84L443.5 59.14L444 59.46L444.5 59.67L445 59.89L445.5 60.09L446 60.27L446.5 60.42L447 60.56L447.5 60.68L448 60.78L448.5 60.87L449 60.95L449.5 61.02L450 61.08L450.5 61.13L451 61.18L451.5 61.21L452 61.25L452.5 61.27L453 61.29L453.5 61.31L454 61.33L454.5 61.34L455 61.35L455.5 61.36L456 61.37L456.5 61.37L457 61.38L457.5 61.38L458 61.39L458.5 61.39L459 61.39L459.5 61.39L460 61.4L460.5 61.4L461 61.4L461.5 61.4L462 61.4L462.5 61.4L463 61.4L463.5 61.4L464 61.4L464.5 61.4L465 61.4L465.5 61.4L466 61.4L466.5 61.4L467 61.4L467.5 61.4L468 61.4L468.5 61.4L469 61.4L469.5 61.4L470 61.4L470.5 61.4L471 61.4L471.5 61.4L472 61.4L472.5 61.4L473 61.4L473.5 61.4L474 61.4L474.5 61.4L475 61.4L475.5 61.4L476 61.4L476.5 61.4L477 61.4L477.5 61.4L478 61.4L478.5 61.4L479 61.4L479.5 61.4" fill="none" stroke="#e9a45a" stroke-width="0.7" stroke-linejoin="round" opacity="0.9"/>
<path d="M380.5 75.3L380.5 75.3L381 75.3L381.5 75.3L382 75.3L382.5 75.3L383 75.3L383.5 75.3L384 75.3L384.5 75.3L385 75.3L385.5 75.3L386 75.3L386.5 75.3L387 75.3L387.5 75.3L388 75.3L388.5 75.3L389 75.3L389.5 75.3L390 75.3L390.5 75.3L391 75.3L391.5 75.3L392 75.3L392.5 75.3L393 75.3L393.5 75.3L394 75.3L394.5 75.3L395 75.3L395.5 75.3L396 75.3L396.5 75.3L397 75.3L397.5 75.3L398 75.3L398.5 75.3L399 75.3L399.5 75.3L400 75.3L400.5 75.3L401 75.3L401.5 75.3L402 75.3L402.5 75.3L403 75.3L403.5 75.3L404 75.3L404.5 75.3L405 75.3L405.5 75.3L406 75.3L406.5 75.3L407 75.3L407.5 75.3L408 75.3L408.5 75.3L409 75.3L409.5 75.3L410 75.3L410.5 75.3L411 75.3L411.5 75.3L412 75.3L412.5 75.3L413 75.29L413.5 75.29L414 75.28L414.5 75.27L415 75.26L415.5 75.24L416 75.21L416.5 75.17L417 75.11L417.5 75.03L418 74.93L418.5 74.8L419 74.62L419.5 74.41L420 74.14L420.5 73.8L421 73.36L421.5 72.81L422 72.37L422.5 71.64L423 71.06L423.5 70.26L424 69.45L424.5 68.3L425 67.36L425.5 66.55L426 65.57L426.5 64.26L427 63.17L427.5 62.68L428 61.92L428.5 60.6L429 58.7L429.5 56.78L430 56L430.5 56.29L431 56.42L431.5 55.52L432 54.04L432.5 53.24L433 53.63L433.5 53.79L434 53.84L434.5 53.21L435 53.5L435.5 52.86L436 52.5L436.5 52.64L437 53.52L437.5 53.58L438 53.5L438.5 52.75L439 53.37L439.5 53.03L440 53.6L440.5 54.3L441 55.19L441.5 56.17L442 56.1L442.5 56.21L443 56.99L443.5 57.48L444 58.53L444.5 59.23L445 60.5L445.5 60.9L446 61.58L446.5 62.4L447 63.43L447.5 64.16L448 65.08L448.5 66.32L449 67.42L449.5 68.22L450 68.91L450.5 69.71L451 70.6L451.5 71.35L452 71.9L452.5 72.39L453 72.91L453.5 73.32L454 73.65L454.5 73.96L455 74.22L455.5 74.44L456 74.62L456.5 74.77L457 74.89L457.5 74.99L458 75.07L458.5 75.13L459 75.17L459.5 75.21L460 75.23L460.5 75.25L461 75.27L461.5 75.28L462 75.28L462.5 75.29L463 75.29L463.5 75.3L464 75.3L464.5 75.3L465 75.3L465.5 75.3L466 75.3L466.5 75.3L467 75.3L467.5 75.3L468 75.3L468.5 75.3L469 75.3L469.5 75.3L470 75.3L470.5 75.3L471 75.3L471.5 75.3L472 75.3L472.5 75.3L473 75.3L473.5 75.3L474 75.3L474.5 75.3L475 75.3L475.5 75.3L476 75.3L476.5 75.3L477 75.3L477.5 75.3L478 75.3L478.5 75.3L479 75.3L479.5 75.3L479.5 75.3Z" fill="#e64650" fill-opacity="0.5"/>
<path d="M380.5 75.3L380.5 75.3L381 75.3L381.5 75.3L382 75.3L382.5 75.3L383 75.3L383.5 75.3L384 75.3L384.5 75.3L385 75.3L385.5 75.3L386 75.3L386.5 75.3L387 75.3L387.5 75.3L388 75.3L388.5 75.3L389 75.3L389.5 75.3L390 75.3L390.5 75.3L391 75.3L391.5 75.3L392 75.3L392.5 75.3L393 75.3L393.5 75.3L394 75.3L394.5 75.3L395 75.3L395.5 75.3L396 75.3L396.5 75.3L397 75.3L397.5 75.3L398 75.3L398.5 75.3L399 75.3L399.5 75.3L400 75.3L400.5 75.3L401 75.3L401.5 75.3L402 75.3L402.5 75.3L403 75.3L403.5 75.3L404 75.3L404.5 75.3L405 75.3L405.5 75.3L406 75.3L406.5 75.3L407 75.3L407.5 75.3L408 75.3L408.5 75.3L409 75.3L409.5 75.3L410 75.3L410.5 75.3L411 75.3L411.5 75.3L412 75.3L412.5 75.3L413 75.29L413.5 75.29L414 75.28L414.5 75.27L415 75.26L415.5 75.24L416 75.21L416.5 75.17L417 75.11L417.5 75.03L418 74.93L418.5 74.8L419 74.62L419.5 74.41L420 74.14L420.5 73.8L421 73.36L421.5 72.81L422 72.37L422.5 71.64L423 71.06L423.5 70.26L424 69.45L424.5 68.3L425 67.36L425.5 66.55L426 65.57L426.5 64.26L427 63.17L427.5 62.68L428 61.92L428.5 60.6L429 58.7L429.5 56.78L430 56L430.5 56.29L431 56.42L431.5 55.52L432 54.04L432.5 53.24L433 53.63L433.5 53.79L434 53.84L434.5 53.21L435 53.5L435.5 52.86L436 52.5L436.5 52.64L437 53.52L437.5 53.58L438 53.5L438.5 52.75L439 53.37L439.5 53.03L440 53.6L440.5 54.3L441 55.19L441.5 56.17L442 56.1L442.5 56.21L443 56.99L443.5 57.48L444 58.53L444.5 59.23L445 60.5L445.5 60.9L446 61.58L446.5 62.4L447 63.43L447.5 64.16L448 65.08L448.5 66.32L449 67.42L449.5 68.22L450 68.91L450.5 69.71L451 70.6L451.5 71.35L452 71.9L452.5 72.39L453 72.91L453.5 73.32L454 73.65L454.5 73.96L455 74.22L455.5 74.44L456 74.62L456.5 74.77L457 74.89L457.5 74.99L458 75.07L458.5 75.13L459 75.17L459.5 75.21L460 75.23L460.5 75.25L461 75.27L461.5 75.28L462 75.28L462.5 75.29L463 75.29L463.5 75.3L464 75.3L464.5 75.3L465 75.3L465.5 75.3L466 75.3L466.5 75.3L467 75.3L467.5 75.3L468 75.3L468.5 75.3L469 75.3L469.5 75.3L470 75.3L470.5 75.3L471 75.3L471.5 75.3L472 75.3L472.5 75.3L473 75.3L473.5 75.3L474 75.3L474.5 75.3L475 75.3L475.5 75.3L476 75.3L476.5 75.3L477 75.3L477.5 75.3L478 75.3L478.5 75.3L479 75.3L479.5 75.3" fill="none" stroke="#e8505a" stroke-width="0.7" stroke-linejoin="round" opacity="0.9"/>
<path d="M380.5 89.4L380.5 89.4L381 89.4L381.5 89.4L382 89.4L382.5 89.4L383 89.4L383.5 89.4L384 89.4L384.5 89.4L385 89.4L385.5 89.4L386 89.4L386.5 89.4L387 89.4L387.5 89.4L388 89.4L388.5 89.4L389 89.4L389.5 89.4L390 89.4L390.5 89.4L391 89.4L391.5 89.4L392 89.4L392.5 89.4L393 89.4L393.5 89.4L394 89.4L394.5 89.4L395 89.4L395.5 89.4L396 89.4L396.5 89.4L397 89.4L397.5 89.39L398 89.39L398.5 89.39L399 89.39L399.5 89.38L400 89.38L400.5 89.38L401 89.37L401.5 89.36L402 89.35L402.5 89.34L403 89.33L403.5 89.31L404 89.29L404.5 89.27L405 89.24L405.5 89.2L406 89.16L406.5 89.11L407 89.05L407.5 88.99L408 88.91L408.5 88.82L409 88.71L409.5 88.59L410 88.45L410.5 88.29L411 88.11L411.5 87.91L412 87.68L412.5 87.45L413 87.18L413.5 86.8L414 86.4L414.5 86.08L415 85.71L415.5 85.23L416 84.62L416.5 84.02L417 83.56L417.5 82.95L418 82.4L418.5 81.6L419 81.08L419.5 80.17L420 79.44L420.5 78.44L421 77.91L421.5 77.1L422 76.34L422.5 75.35L423 74.65L423.5 73.78L424 73.13L424.5 72.42L425 72.05L425.5 71.18L426 70.68L426.5 70.08L427 70L427.5 69.21L428 68.63L428.5 68L429 68.23L429.5 68.19L430 68.29L430.5 68.3L431 68.75L431.5 68.51L432 68.82L432.5 69.02L433 70L433.5 70.24L434 71.01L434.5 71.57L435 72.44L435.5 72.8L436 73.87L436.5 74.72L437 75.74L437.5 76.17L438 76.97L438.5 77.86L439 78.83L439.5 79.74L440 80.67L440.5 81.47L441 82.05L441.5 82.59L442 83.31L442.5 83.98L443 84.54L443.5 85.08L444 85.59L444.5 86.1L445 86.51L445.5 86.9L446 87.24L446.5 87.52L447 87.74L447.5 87.98L448 88.19L448.5 88.37L449 88.53L449.5 88.66L450 88.78L450.5 88.88L451 88.97L451.5 89.05L452 89.11L452.5 89.16L453 89.2L453.5 89.24L454 89.27L454.5 89.3L455 89.32L455.5 89.33L456 89.35L456.5 89.36L457 89.37L457.5 89.37L458 89.38L458.5 89.38L459 89.39L459.5 89.39L460 89.39L460.5 89.39L461 89.4L461.5 89.4L462 89.4L462.5 89.4L463 89.4L463.5 89.4L464 89.4L464.5 89.4L465 89.4L465.5 89.4L466 89.4L466.5 89.4L467 89.4L467.5 89.4L468 89.4L468.5 89.4L469 89.4L469.5 89.4L470 89.4L470.5 89.4L471 89.4L471.5 89.4L472 89.4L472.5 89.4L473 89.4L473.5 89.4L474 89.4L474.5 89.4L475 89.4L475.5 89.4L476 89.4L476.5 89.4L477 89.4L477.5 89.4L478 89.4L478.5 89.4L479 89.4L479.5 89.4L479.5 89.4Z" fill="#8cf05a" fill-opacity="0.5"/>
<path d="M380.5 89.4L380.5 89.4L381 89.4L381.5 89.4L382 89.4L382.5 89.4L383 89.4L383.5 89.4L384 89.4L384.5 89.4L385 89.4L385.5 89.4L386 89.4L386.5 89.4L387 89.4L387.5 89.4L388 89.4L388.5 89.4L389 89.4L389.5 89.4L390 89.4L390.5 89.4L391 89.4L391.5 89.4L392 89.4L392.5 89.4L393 89.4L393.5 89.4L394 89.4L394.5 89.4L395 89.4L395.5 89.4L396 89.4L396.5 89.4L397 89.4L397.5 89.39L398 89.39L398.5 89.39L399 89.39L399.5 89.38L400 89.38L400.5 89.38L401 89.37L401.5 89.36L402 89.35L402.5 89.34L403 89.33L403.5 89.31L404 89.29L404.5 89.27L405 89.24L405.5 89.2L406 89.16L406.5 89.11L407 89.05L407.5 88.99L408 88.91L408.5 88.82L409 88.71L409.5 88.59L410 88.45L410.5 88.29L411 88.11L411.5 87.91L412 87.68L412.5 87.45L413 87.18L413.5 86.8L414 86.4L414.5 86.08L415 85.71L415.5 85.23L416 84.62L416.5 84.02L417 83.56L417.5 82.95L418 82.4L418.5 81.6L419 81.08L419.5 80.17L420 79.44L420.5 78.44L421 77.91L421.5 77.1L422 76.34L422.5 75.35L423 74.65L423.5 73.78L424 73.13L424.5 72.42L425 72.05L425.5 71.18L426 70.68L426.5 70.08L427 70L427.5 69.21L428 68.63L428.5 68L429 68.23L429.5 68.19L430 68.29L430.5 68.3L431 68.75L431.5 68.51L432 68.82L432.5 69.02L433 70L433.5 70.24L434 71.01L434.5 71.57L435 72.44L435.5 72.8L436 73.87L436.5 74.72L437 75.74L437.5 76.17L438 76.97L438.5 77.86L439 78.83L439.5 79.74L440 80.67L440.5 81.47L441 82.05L441.5 82.59L442 83.31L442.5 83.98L443 84.54L443.5 85.08L444 85.59L444.5 86.1L445 86.51L445.5 86.9L446 87.24L446.5 87.52L447 87.74L447.5 87.98L448 88.19L448.5 88.37L449 88.53L449.5 88.66L450 88.78L450.5 88.88L451 88.97L451.5 89.05L452 89.11L452.5 89.16L453 89.2L453.5 89.24L454 89.27L454.5 89.3L455 89.32L455.5 89.33L456 89.35L456.5 89.36L457 89.37L457.5 89.37L458 89.38L458.5 89.38L459 89.39L459.5 89.39L460 89.39L460.5 89.39L461 89.4L461.5 89.4L462 89.4L462.5 89.4L463 89.4L463.5 89.4L464 89.4L464.5 89.4L465 89.4L465.5 89.4L466 89.4L466.5 89.4L467 89.4L467.5 89.4L468 89.4L468.5 89.4L469 89.4L469.5 89.4L470 89.4L470.5 89.4L471 89.4L471.5 89.4L472 89.4L472.5 89.4L473 89.4L473.5 89.4L474 89.4L474.5 89.4L475 89.4L475.5 89.4L476 89.4L476.5 89.4L477 89.4L477.5 89.4L478 89.4L478.5 89.4L479 89.4L479.5 89.4" fill="none" stroke="#86e455" stroke-width="0.7" stroke-linejoin="round" opacity="0.9"/>
<path d="M380.5 103.6L380.5 103.6L381 103.6L381.5 103.6L382 103.6L382.5 103.6L383 103.6L383.5 103.6L384 103.6L384.5 103.6L385 103.6L385.5 103.6L386 103.6L386.5 103.6L387 103.6L387.5 103.6L388 103.6L388.5 103.6L389 103.6L389.5 103.6L390 103.6L390.5 103.6L391 103.6L391.5 103.6L392 103.6L392.5 103.6L393 103.6L393.5 103.6L394 103.6L394.5 103.6L395 103.6L395.5 103.6L396 103.59L396.5 103.59L397 103.59L397.5 103.59L398 103.58L398.5 103.58L399 103.57L399.5 103.56L400 103.55L400.5 103.54L401 103.53L401.5 103.51L402 103.48L402.5 103.46L403 103.42L403.5 103.38L404 103.33L404.5 103.28L405 103.21L405.5 103.12L406 103.03L406.5 102.91L407 102.78L407.5 102.63L408 102.45L408.5 102.25L409 102.02L409.5 101.76L410 101.47L410.5 101.14L411 100.76L411.5 100.39L412 99.94L412.5 99.49L413 98.84L413.5 98.16L414 97.54L414.5 97.01L415 96.34L415.5 95.44L416 94.65L416.5 93.8L417 92.78L417.5 91.7L418 90.88L418.5 90.08L419 88.87L419.5 87.93L420 87.11L420.5 86.61L421 85.49L421.5 84.52L422 83.65L422.5 83.05L423 82.67L423.5 82.01L424 81.03L424.5 80.14L425 79.8L425.5 79.57L426 79.59L426.5 79.56L427 80.34L427.5 80.66L428 80.95L428.5 81.15L429 81.05L429.5 81.54L430 82.16L430.5 83.05L431 83.37L431.5 84.18L432 84.97L432.5 86.22L433 87.01L433.5 88.06L434 88.75L434.5 89.65L435 90.68L435.5 91.68L436 92.76L436.5 93.7L437 94.53L437.5 95.31L438 96L438.5 96.9L439 97.52L439.5 98.2L440 98.81L440.5 99.36L441 99.88L441.5 100.33L442 100.8L442.5 101.2L443 101.53L443.5 101.76L444 102.02L444.5 102.25L445 102.45L445.5 102.63L446 102.78L446.5 102.91L447 103.03L447.5 103.12L448 103.21L448.5 103.28L449 103.33L449.5 103.38L450 103.42L450.5 103.46L451 103.48L451.5 103.51L452 103.53L452.5 103.54L453 103.55L453.5 103.56L454 103.57L454.5 103.58L455 103.58L455.5 103.59L456 103.59L456.5 103.59L457 103.59L457.5 103.6L458 103.6L458.5 103.6L459 103.6L459.5 103.6L460 103.6L460.5 103.6L461 103.6L461.5 103.6L462 103.6L462.5 103.6L463 103.6L463.5 103.6L464 103.6L464.5 103.6L465 103.6L465.5 103.6L466 103.6L466.5 103.6L467 103.6L467.5 103.6L468 103.6L468.5 103.6L469 103.6L469.5 103.6L470 103.6L470.5 103.6L471 103.6L471.5 103.6L472 103.6L472.5 103.6L473 103.6L473.5 103.6L474 103.6L474.5 103.6L475 103.6L475.5 103.6L476 103.6L476.5 103.6L477 103.6L477.5 103.6L478 103.6L478.5 103.6L479 103.6L479.5 103.6L479.5 103.6Z" fill="#3cdcf5" fill-opacity="0.5"/>
<path d="M380.5 103.6L380.5 103.6L381 103.6L381.5 103.6L382 103.6L382.5 103.6L383 103.6L383.5 103.6L384 103.6L384.5 103.6L385 103.6L385.5 103.6L386 103.6L386.5 103.6L387 103.6L387.5 103.6L388 103.6L388.5 103.6L389 103.6L389.5 103.6L390 103.6L390.5 103.6L391 103.6L391.5 103.6L392 103.6L392.5 103.6L393 103.6L393.5 103.6L394 103.6L394.5 103.6L395 103.6L395.5 103.6L396 103.59L396.5 103.59L397 103.59L397.5 103.59L398 103.58L398.5 103.58L399 103.57L399.5 103.56L400 103.55L400.5 103.54L401 103.53L401.5 103.51L402 103.48L402.5 103.46L403 103.42L403.5 103.38L404 103.33L404.5 103.28L405 103.21L405.5 103.12L406 103.03L406.5 102.91L407 102.78L407.5 102.63L408 102.45L408.5 102.25L409 102.02L409.5 101.76L410 101.47L410.5 101.14L411 100.76L411.5 100.39L412 99.94L412.5 99.49L413 98.84L413.5 98.16L414 97.54L414.5 97.01L415 96.34L415.5 95.44L416 94.65L416.5 93.8L417 92.78L417.5 91.7L418 90.88L418.5 90.08L419 88.87L419.5 87.93L420 87.11L420.5 86.61L421 85.49L421.5 84.52L422 83.65L422.5 83.05L423 82.67L423.5 82.01L424 81.03L424.5 80.14L425 79.8L425.5 79.57L426 79.59L426.5 79.56L427 80.34L427.5 80.66L428 80.95L428.5 81.15L429 81.05L429.5 81.54L430 82.16L430.5 83.05L431 83.37L431.5 84.18L432 84.97L432.5 86.22L433 87.01L433.5 88.06L434 88.75L434.5 89.65L435 90.68L435.5 91.68L436 92.76L436.5 93.7L437 94.53L437.5 95.31L438 96L438.5 96.9L439 97.52L439.5 98.2L440 98.81L440.5 99.36L441 99.88L441.5 100.33L442 100.8L442.5 101.2L443 101.53L443.5 101.76L444 102.02L444.5 102.25L445 102.45L445.5 102.63L446 102.78L446.5 102.91L447 103.03L447.5 103.12L448 103.21L448.5 103.28L449 103.33L449.5 103.38L450 103.42L450.5 103.46L451 103.48L451.5 103.51L452 103.53L452.5 103.54L453 103.55L453.5 103.56L454 103.57L454.5 103.58L455 103.58L455.5 103.59L456 103.59L456.5 103.59L457 103.59L457.5 103.6L458 103.6L458.5 103.6L459 103.6L459.5 103.6L460 103.6L460.5 103.6L461 103.6L461.5 103.6L462 103.6L462.5 103.6L463 103.6L463.5 103.6L464 103.6L464.5 103.6L465 103.6L465.5 103.6L466 103.6L466.5 103.6L467 103.6L467.5 103.6L468 103.6L468.5 103.6L469 103.6L469.5 103.6L470 103.6L470.5 103.6L471 103.6L471.5 103.6L472 103.6L472.5 103.6L473 103.6L473.5 103.6L474 103.6L474.5 103.6L475 103.6L475.5 103.6L476 103.6L476.5 103.6L477 103.6L477.5 103.6L478 103.6L478.5 103.6L479 103.6L479.5 103.6" fill="none" stroke="#55d6f2" stroke-width="0.7" stroke-linejoin="round" opacity="0.9"/>
<path d="M380.5 118L380.5 118L381 118L381.5 118L382 118L382.5 118L383 118L383.5 118L384 118L384.5 118L385 118L385.5 118L386 118L386.5 118L387 118L387.5 118L388 118L388.5 118L389 118L389.5 118L390 118L390.5 118L391 118L391.5 118L392 118L392.5 118L393 118L393.5 117.99L394 117.99L394.5 117.99L395 117.99L395.5 117.98L396 117.98L396.5 117.98L397 117.97L397.5 117.96L398 117.95L398.5 117.94L399 117.93L399.5 117.92L400 117.9L400.5 117.88L401 117.85L401.5 117.82L402 117.78L402.5 117.74L403 117.69L403.5 117.63L404 117.57L404.5 117.49L405 117.4L405.5 117.3L406 117.18L406.5 117.05L407 116.89L407.5 116.72L408 116.53L408.5 116.32L409 116.09L409.5 115.81L410 115.46L410.5 115.18L411 114.81L411.5 114.54L412 114.03L412.5 113.51L413 112.93L413.5 112.56L414 112.07L414.5 111.51L415 110.67L415.5 109.86L416 109.01L416.5 108.46L417 108.05L417.5 107.21L418 106.11L418.5 105.22L419 104.59L419.5 104.01L420 102.7L420.5 102.15L421 101.61L421.5 100.92L422 99.78L422.5 98.73L423 98.07L423.5 97.39L424 96.58L424.5 96.47L425 96.42L425.5 96.62L426 96.22L426.5 95.43L427 94.89L427.5 94.76L428 94.74L428.5 94.49L429 94.39L429.5 94.9L430 95.11L430.5 95.33L431 95.3L431.5 95.81L432 97.1L432.5 97.96L433 99.11L433.5 99.59L434 100.51L434.5 101.48L435 102.42L435.5 102.99L436 103.77L436.5 104.3L437 105.36L437.5 106.25L438 107.36L438.5 108.21L439 108.86L439.5 109.62L440 110.52L440.5 111.35L441 111.85L441.5 112.31L442 112.9L442.5 113.44L443 113.96L443.5 114.38L444 114.79L444.5 115.23L445 115.59L445.5 115.94L446 116.14L446.5 116.39L447 116.61L447.5 116.8L448 116.97L448.5 117.12L449 117.25L449.5 117.37L450 117.47L450.5 117.55L451 117.62L451.5 117.69L452 117.74L452.5 117.78L453 117.82L453.5 117.85L454 117.88L454.5 117.9L455 117.92L455.5 117.94L456 117.95L456.5 117.96L457 117.97L457.5 117.97L458 117.98L458.5 117.98L459 117.99L459.5 117.99L460 117.99L460.5 117.99L461 118L461.5 118L462 118L462.5 118L463 118L463.5 118L464 118L464.5 118L465 118L465.5 118L466 118L466.5 118L467 118L467.5 118L468 118L468.5 118L469 118L469.5 118L470 118L470.5 118L471 118L471.5 118L472 118L472.5 118L473 118L473.5 118L474 118L474.5 118L475 118L475.5 118L476 118L476.5 118L477 118L477.5 118L478 118L478.5 118L479 118L479.5 118L479.5 118Z" fill="#467a1e" fill-opacity="0.5"/>
<path d="M380.5 118L380.5 118L381 118L381.5 118L382 118L382.5 118L383 118L383.5 118L384 118L384.5 118L385 118L385.5 118L386 118L386.5 118L387 118L387.5 118L388 118L388.5 118L389 118L389.5 118L390 118L390.5 118L391 118L391.5 118L392 118L392.5 118L393 118L393.5 117.99L394 117.99L394.5 117.99L395 117.99L395.5 117.98L396 117.98L396.5 117.98L397 117.97L397.5 117.96L398 117.95L398.5 117.94L399 117.93L399.5 117.92L400 117.9L400.5 117.88L401 117.85L401.5 117.82L402 117.78L402.5 117.74L403 117.69L403.5 117.63L404 117.57L404.5 117.49L405 117.4L405.5 117.3L406 117.18L406.5 117.05L407 116.89L407.5 116.72L408 116.53L408.5 116.32L409 116.09L409.5 115.81L410 115.46L410.5 115.18L411 114.81L411.5 114.54L412 114.03L412.5 113.51L413 112.93L413.5 112.56L414 112.07L414.5 111.51L415 110.67L415.5 109.86L416 109.01L416.5 108.46L417 108.05L417.5 107.21L418 106.11L418.5 105.22L419 104.59L419.5 104.01L420 102.7L420.5 102.15L421 101.61L421.5 100.92L422 99.78L422.5 98.73L423 98.07L423.5 97.39L424 96.58L424.5 96.47L425 96.42L425.5 96.62L426 96.22L426.5 95.43L427 94.89L427.5 94.76L428 94.74L428.5 94.49L429 94.39L429.5 94.9L430 95.11L430.5 95.33L431 95.3L431.5 95.81L432 97.1L432.5 97.96L433 99.11L433.5 99.59L434 100.51L434.5 101.48L435 102.42L435.5 102.99L436 103.77L436.5 104.3L437 105.36L437.5 106.25L438 107.36L438.5 108.21L439 108.86L439.5 109.62L440 110.52L440.5 111.35L441 111.85L441.5 112.31L442 112.9L442.5 113.44L443 113.96L443.5 114.38L444 114.79L444.5 115.23L445 115.59L445.5 115.94L446 116.14L446.5 116.39L447 116.61L447.5 116.8L448 116.97L448.5 117.12L449 117.25L449.5 117.37L450 117.47L450.5 117.55L451 117.62L451.5 117.69L452 117.74L452.5 117.78L453 117.82L453.5 117.85L454 117.88L454.5 117.9L455 117.92L455.5 117.94L456 117.95L456.5 117.96L457 117.97L457.5 117.97L458 117.98L458.5 117.98L459 117.99L459.5 117.99L460 117.99L460.5 117.99L461 118L461.5 118L462 118L462.5 118L463 118L463.5 118L464 118L464.5 118L465 118L465.5 118L466 118L466.5 118L467 118L467.5 118L468 118L468.5 118L469 118L469.5 118L470 118L470.5 118L471 118L471.5 118L472 118L472.5 118L473 118L473.5 118L474 118L474.5 118L475 118L475.5 118L476 118L476.5 118L477 118L477.5 118L478 118L478.5 118L479 118L479.5 118" fill="none" stroke="#5c8040" stroke-width="0.7" stroke-linejoin="round" opacity="0.9"/>
<path d="M380.5 131.8L380.5 131.8L381 131.8L381.5 131.8L382 131.8L382.5 131.8L383 131.8L383.5 131.8L384 131.8L384.5 131.8L385 131.8L385.5 131.8L386 131.8L386.5 131.8L387 131.8L387.5 131.8L388 131.8L388.5 131.8L389 131.8L389.5 131.8L390 131.8L390.5 131.8L391 131.8L391.5 131.8L392 131.8L392.5 131.8L393 131.8L393.5 131.8L394 131.8L394.5 131.8L395 131.8L395.5 131.8L396 131.8L396.5 131.8L397 131.8L397.5 131.8L398 131.8L398.5 131.8L399 131.8L399.5 131.8L400 131.8L400.5 131.8L401 131.8L401.5 131.8L402 131.8L402.5 131.8L403 131.8L403.5 131.8L404 131.8L404.5 131.79L405 131.79L405.5 131.78L406 131.76L406.5 131.74L407 131.7L407.5 131.64L408 131.56L408.5 131.44L409 131.28L409.5 131.06L410 130.77L410.5 130.41L411 129.95L411.5 129.42L412 128.69L412.5 127.82L413 126.86L413.5 125.86L414 124.9L414.5 123.91L415 122.99L415.5 121.8L416 120.6L416.5 119.01L417 117.21L417.5 115.86L418 114.59L418.5 113.44L419 111.81L419.5 111.35L420 110.81L420.5 110.62L421 110.01L421.5 110.19L422 109.53L422.5 108.43L423 108.1L423.5 108.36L424 108.86L424.5 108.87L425 108.49L425.5 108.1L426 107.63L426.5 108.1L427 108.89L427.5 109.21L428 108.56L428.5 107.64L429 107.44L429.5 108.25L430 109.28L430.5 109.69L431 110.09L431.5 110.68L432 111.25L432.5 111.22L433 111.91L433.5 112.41L434 113.4L434.5 114.35L435 116.01L435.5 117.69L436 118.75L436.5 119.65L437 120.58L437.5 122.07L438 123.45L438.5 124.88L439 125.88L439.5 126.86L440 127.7L440.5 128.5L441 129.06L441.5 129.62L442 130.11L442.5 130.51L443 130.84L443.5 131.1L444 131.3L444.5 131.45L445 131.56L445.5 131.64L446 131.69L446.5 131.73L447 131.76L447.5 131.77L448 131.78L448.5 131.79L449 131.79L449.5 131.8L450 131.8L450.5 131.8L451 131.8L451.5 131.8L452 131.8L452.5 131.8L453 131.8L453.5 131.8L454 131.8L454.5 131.8L455 131.8L455.5 131.8L456 131.8L456.5 131.8L457 131.8L457.5 131.8L458 131.8L458.5 131.8L459 131.8L459.5 131.8L460 131.8L460.5 131.8L461 131.8L461.5 131.8L462 131.8L462.5 131.8L463 131.8L463.5 131.8L464 131.8L464.5 131.8L465 131.8L465.5 131.8L466 131.8L466.5 131.8L467 131.8L467.5 131.8L468 131.8L468.5 131.8L469 131.8L469.5 131.8L470 131.8L470.5 131.8L471 131.8L471.5 131.8L472 131.8L472.5 131.8L473 131.8L473.5 131.8L474 131.8L474.5 131.8L475 131.8L475.5 131.8L476 131.8L476.5 131.8L477 131.8L477.5 131.8L478 131.8L478.5 131.8L479 131.8L479.5 131.8L479.5 131.8Z" fill="#b47878" fill-opacity="0.45"/>
<path d="M380.5 131.8L380.5 131.8L381 131.8L381.5 131.8L382 131.8L382.5 131.8L383 131.8L383.5 131.8L384 131.8L384.5 131.8L385 131.8L385.5 131.8L386 131.8L386.5 131.8L387 131.8L387.5 131.8L388 131.8L388.5 131.8L389 131.8L389.5 131.8L390 131.8L390.5 131.8L391 131.8L391.5 131.8L392 131.8L392.5 131.8L393 131.8L393.5 131.8L394 131.8L394.5 131.8L395 131.8L395.5 131.8L396 131.8L396.5 131.8L397 131.8L397.5 131.8L398 131.8L398.5 131.8L399 131.8L399.5 131.8L400 131.8L400.5 131.8L401 131.8L401.5 131.8L402 131.8L402.5 131.8L403 131.8L403.5 131.8L404 131.8L404.5 131.79L405 131.79L405.5 131.78L406 131.76L406.5 131.74L407 131.7L407.5 131.64L408 131.56L408.5 131.44L409 131.28L409.5 131.06L410 130.77L410.5 130.41L411 129.95L411.5 129.42L412 128.69L412.5 127.82L413 126.86L413.5 125.86L414 124.9L414.5 123.91L415 122.99L415.5 121.8L416 120.6L416.5 119.01L417 117.21L417.5 115.86L418 114.59L418.5 113.44L419 111.81L419.5 111.35L420 110.81L420.5 110.62L421 110.01L421.5 110.19L422 109.53L422.5 108.43L423 108.1L423.5 108.36L424 108.86L424.5 108.87L425 108.49L425.5 108.1L426 107.63L426.5 108.1L427 108.89L427.5 109.21L428 108.56L428.5 107.64L429 107.44L429.5 108.25L430 109.28L430.5 109.69L431 110.09L431.5 110.68L432 111.25L432.5 111.22L433 111.91L433.5 112.41L434 113.4L434.5 114.35L435 116.01L435.5 117.69L436 118.75L436.5 119.65L437 120.58L437.5 122.07L438 123.45L438.5 124.88L439 125.88L439.5 126.86L440 127.7L440.5 128.5L441 129.06L441.5 129.62L442 130.11L442.5 130.51L443 130.84L443.5 131.1L444 131.3L444.5 131.45L445 131.56L445.5 131.64L446 131.69L446.5 131.73L447 131.76L447.5 131.77L448 131.78L448.5 131.79L449 131.79L449.5 131.8L450 131.8L450.5 131.8L451 131.8L451.5 131.8L452 131.8L452.5 131.8L453 131.8L453.5 131.8L454 131.8L454.5 131.8L455 131.8L455.5 131.8L456 131.8L456.5 131.8L457 131.8L457.5 131.8L458 131.8L458.5 131.8L459 131.8L459.5 131.8L460 131.8L460.5 131.8L461 131.8L461.5 131.8L462 131.8L462.5 131.8L463 131.8L463.5 131.8L464 131.8L464.5 131.8L465 131.8L465.5 131.8L466 131.8L466.5 131.8L467 131.8L467.5 131.8L468 131.8L468.5 131.8L469 131.8L469.5 131.8L470 131.8L470.5 131.8L471 131.8L471.5 131.8L472 131.8L472.5 131.8L473 131.8L473.5 131.8L474 131.8L474.5 131.8L475 131.8L475.5 131.8L476 131.8L476.5 131.8L477 131.8L477.5 131.8L478 131.8L478.5 131.8L479 131.8L479.5 131.8" fill="none" stroke="#c49494" stroke-width="0.7" stroke-linejoin="round" opacity="0.9"/>
<line x1="424.3" y1="30.6" x2="424.3" y2="131.8" stroke="#444" stroke-width="0.8" stroke-dasharray="1 1"/>
<path d="M380 31.1H479.5V131.8" stroke="#8a8a8a" stroke-width="0.9" fill="none"/>
<line x1="380.3" y1="30.6" x2="380.3" y2="131.8" stroke="#777" stroke-width="1.2"/>
<line x1="380" y1="131.8" x2="480" y2="131.8" stroke="#555" stroke-width="1.1"/>
<text x="434" y="25.2" font-size="10.3" text-anchor="middle" fill="#1a1a1a" stroke="#1a1a1a" stroke-width="0.12">MCF-7</text>
<line x1="403.2" y1="131.8" x2="403.2" y2="134.8" stroke="#333" stroke-width="0.9"/>
<line x1="448" y1="131.8" x2="448" y2="134.8" stroke="#333" stroke-width="0.9"/>
<line x1="385.37" y1="131.8" x2="385.37" y2="133.4" stroke="#555" stroke-width="0.6"/>
<line x1="389.71" y1="131.8" x2="389.71" y2="133.4" stroke="#555" stroke-width="0.6"/>
<line x1="393.26" y1="131.8" x2="393.26" y2="133.4" stroke="#555" stroke-width="0.6"/>
<line x1="396.26" y1="131.8" x2="396.26" y2="133.4" stroke="#555" stroke-width="0.6"/>
<line x1="398.86" y1="131.8" x2="398.86" y2="133.4" stroke="#555" stroke-width="0.6"/>
<line x1="401.15" y1="131.8" x2="401.15" y2="133.4" stroke="#555" stroke-width="0.6"/>
<line x1="416.69" y1="131.8" x2="416.69" y2="133.4" stroke="#555" stroke-width="0.6"/>
<line x1="424.58" y1="131.8" x2="424.58" y2="133.4" stroke="#555" stroke-width="0.6"/>
<line x1="430.17" y1="131.8" x2="430.17" y2="133.4" stroke="#555" stroke-width="0.6"/>
<line x1="434.51" y1="131.8" x2="434.51" y2="133.4" stroke="#555" stroke-width="0.6"/>
<line x1="438.06" y1="131.8" x2="438.06" y2="133.4" stroke="#555" stroke-width="0.6"/>
<line x1="441.06" y1="131.8" x2="441.06" y2="133.4" stroke="#555" stroke-width="0.6"/>
<line x1="443.66" y1="131.8" x2="443.66" y2="133.4" stroke="#555" stroke-width="0.6"/>
<line x1="445.95" y1="131.8" x2="445.95" y2="133.4" stroke="#555" stroke-width="0.6"/>
<line x1="461.49" y1="131.8" x2="461.49" y2="133.4" stroke="#555" stroke-width="0.6"/>
<line x1="469.38" y1="131.8" x2="469.38" y2="133.4" stroke="#555" stroke-width="0.6"/>
<line x1="474.97" y1="131.8" x2="474.97" y2="133.4" stroke="#555" stroke-width="0.6"/>
<text x="403.2" y="142.8" font-size="5.2" text-anchor="middle" fill="#333">10</text>
<text x="406.8" y="140.5" font-size="3.6" text-anchor="middle" fill="#333">3</text>
<text x="448" y="142.8" font-size="5.2" text-anchor="middle" fill="#333">10</text>
<text x="451.6" y="140.5" font-size="3.6" text-anchor="middle" fill="#333">4</text>
<text transform="translate(374.6 71.5) rotate(-90)" font-size="9.3" text-anchor="middle" fill="#1a1a1a" stroke="#1a1a1a" stroke-width="0.12">Count</text>
<text x="433.6" y="156.6" font-size="9.3" text-anchor="middle" fill="#1a1a1a" stroke="#1a1a1a" stroke-width="0.12">Lipid ROS level (FITC)</text>
<text x="485" y="60.1" font-size="9.3" text-anchor="start" fill="#1a1a1a" stroke="#1a1a1a" stroke-width="0.12">con-sh+vector</text>
<text x="485" y="72.4" font-size="9.3" text-anchor="start" fill="#1a1a1a" stroke="#1a1a1a" stroke-width="0.12">USP35-sh#1+vector</text>
<text x="485" y="86.6" font-size="9.3" text-anchor="start" fill="#1a1a1a" stroke="#1a1a1a" stroke-width="0.12">USP35-sh#2+vector</text>
<text x="485" y="101.3" font-size="9.3" text-anchor="start" fill="#1a1a1a" stroke="#1a1a1a" stroke-width="0.12">con-sh+BRD4</text>
<text x="485" y="115.5" font-size="9.3" text-anchor="start" fill="#1a1a1a" stroke="#1a1a1a" stroke-width="0.12">USP35-sh#1+BRD4</text>
<text x="485" y="129.8" font-size="9.3" text-anchor="start" fill="#1a1a1a" stroke="#1a1a1a" stroke-width="0.12">USP35-sh#2+BRD4</text>
<rect x="381.2" y="201.6" width="99.8" height="101" fill="#fff" stroke="none" stroke-width="1"/>
<path d="M381.7 231.7L381.7 231.7L382.2 231.7L382.7 231.7L383.2 231.7L383.7 231.7L384.2 231.7L384.7 231.7L385.2 231.7L385.7 231.7L386.2 231.7L386.7 231.7L387.2 231.7L387.7 231.7L388.2 231.7L388.7 231.7L389.2 231.7L389.7 231.7L390.2 231.7L390.7 231.7L391.2 231.7L391.7 231.7L392.2 231.7L392.7 231.7L393.2 231.7L393.7 231.7L394.2 231.7L394.7 231.7L395.2 231.7L395.7 231.7L396.2 231.7L396.7 231.7L397.2 231.7L397.7 231.7L398.2 231.7L398.7 231.7L399.2 231.69L399.7 231.69L400.2 231.69L400.7 231.69L401.2 231.68L401.7 231.68L402.2 231.67L402.7 231.67L403.2 231.66L403.7 231.65L404.2 231.63L404.7 231.62L405.2 231.6L405.7 231.57L406.2 231.54L406.7 231.5L407.2 231.46L407.7 231.41L408.2 231.34L408.7 231.27L409.2 231.18L409.7 231.08L410.2 230.96L410.7 230.82L411.2 230.66L411.7 230.48L412.2 230.27L412.7 230.04L413.2 229.72L413.7 229.43L414.2 229.13L414.7 228.73L415.2 228.35L415.7 227.89L416.2 227.42L416.7 226.82L417.2 226.31L417.7 225.77L418.2 225.18L418.7 224.31L419.2 223.52L419.7 222.67L420.2 222.05L420.7 221.31L421.2 220.67L421.7 219.63L422.2 218.47L422.7 217.44L423.2 216.63L423.7 215.82L424.2 214.7L424.7 213.73L425.2 213.11L425.7 212.34L426.2 211.68L426.7 210.97L427.2 210.53L427.7 210.43L428.2 210.25L428.7 210.47L429.2 210.05L429.7 210.16L430.2 210.33L430.7 210.52L431.2 210.32L431.7 210.37L432.2 210.77L432.7 211.75L433.2 212.47L433.7 213.44L434.2 213.9L434.7 214.68L435.2 215.58L435.7 216.43L436.2 216.89L436.7 217.32L437.2 218.04L437.7 219.12L438.2 220.29L438.7 221.07L439.2 221.89L439.7 222.57L440.2 223.61L440.7 224.43L441.2 225.1L441.7 225.6L442.2 226.11L442.7 226.74L443.2 227.35L443.7 227.89L444.2 228.31L444.7 228.74L445.2 229.12L445.7 229.5L446.2 229.77L446.7 230.04L447.2 230.27L447.7 230.48L448.2 230.66L448.7 230.82L449.2 230.96L449.7 231.08L450.2 231.18L450.7 231.27L451.2 231.34L451.7 231.41L452.2 231.46L452.7 231.5L453.2 231.54L453.7 231.57L454.2 231.6L454.7 231.62L455.2 231.63L455.7 231.65L456.2 231.66L456.7 231.67L457.2 231.67L457.7 231.68L458.2 231.68L458.7 231.69L459.2 231.69L459.7 231.69L460.2 231.69L460.7 231.7L461.2 231.7L461.7 231.7L462.2 231.7L462.7 231.7L463.2 231.7L463.7 231.7L464.2 231.7L464.7 231.7L465.2 231.7L465.7 231.7L466.2 231.7L466.7 231.7L467.2 231.7L467.7 231.7L468.2 231.7L468.7 231.7L469.2 231.7L469.7 231.7L470.2 231.7L470.7 231.7L471.2 231.7L471.7 231.7L472.2 231.7L472.7 231.7L473.2 231.7L473.7 231.7L474.2 231.7L474.7 231.7L475.2 231.7L475.7 231.7L476.2 231.7L476.7 231.7L477.2 231.7L477.7 231.7L478.2 231.7L478.7 231.7L479.2 231.7L479.7 231.7L480.2 231.7L480.2 231.7Z" fill="#e6963c" fill-opacity="0.5"/>
<path d="M381.7 231.7L381.7 231.7L382.2 231.7L382.7 231.7L383.2 231.7L383.7 231.7L384.2 231.7L384.7 231.7L385.2 231.7L385.7 231.7L386.2 231.7L386.7 231.7L387.2 231.7L387.7 231.7L388.2 231.7L388.7 231.7L389.2 231.7L389.7 231.7L390.2 231.7L390.7 231.7L391.2 231.7L391.7 231.7L392.2 231.7L392.7 231.7L393.2 231.7L393.7 231.7L394.2 231.7L394.7 231.7L395.2 231.7L395.7 231.7L396.2 231.7L396.7 231.7L397.2 231.7L397.7 231.7L398.2 231.7L398.7 231.7L399.2 231.69L399.7 231.69L400.2 231.69L400.7 231.69L401.2 231.68L401.7 231.68L402.2 231.67L402.7 231.67L403.2 231.66L403.7 231.65L404.2 231.63L404.7 231.62L405.2 231.6L405.7 231.57L406.2 231.54L406.7 231.5L407.2 231.46L407.7 231.41L408.2 231.34L408.7 231.27L409.2 231.18L409.7 231.08L410.2 230.96L410.7 230.82L411.2 230.66L411.7 230.48L412.2 230.27L412.7 230.04L413.2 229.72L413.7 229.43L414.2 229.13L414.7 228.73L415.2 228.35L415.7 227.89L416.2 227.42L416.7 226.82L417.2 226.31L417.7 225.77L418.2 225.18L418.7 224.31L419.2 223.52L419.7 222.67L420.2 222.05L420.7 221.31L421.2 220.67L421.7 219.63L422.2 218.47L422.7 217.44L423.2 216.63L423.7 215.82L424.2 214.7L424.7 213.73L425.2 213.11L425.7 212.34L426.2 211.68L426.7 210.97L427.2 210.53L427.7 210.43L428.2 210.25L428.7 210.47L429.2 210.05L429.7 210.16L430.2 210.33L430.7 210.52L431.2 210.32L431.7 210.37L432.2 210.77L432.7 211.75L433.2 212.47L433.7 213.44L434.2 213.9L434.7 214.68L435.2 215.58L435.7 216.43L436.2 216.89L436.7 217.32L437.2 218.04L437.7 219.12L438.2 220.29L438.7 221.07L439.2 221.89L439.7 222.57L440.2 223.61L440.7 224.43L441.2 225.1L441.7 225.6L442.2 226.11L442.7 226.74L443.2 227.35L443.7 227.89L444.2 228.31L444.7 228.74L445.2 229.12L445.7 229.5L446.2 229.77L446.7 230.04L447.2 230.27L447.7 230.48L448.2 230.66L448.7 230.82L449.2 230.96L449.7 231.08L450.2 231.18L450.7 231.27L451.2 231.34L451.7 231.41L452.2 231.46L452.7 231.5L453.2 231.54L453.7 231.57L454.2 231.6L454.7 231.62L455.2 231.63L455.7 231.65L456.2 231.66L456.7 231.67L457.2 231.67L457.7 231.68L458.2 231.68L458.7 231.69L459.2 231.69L459.7 231.69L460.2 231.69L460.7 231.7L461.2 231.7L461.7 231.7L462.2 231.7L462.7 231.7L463.2 231.7L463.7 231.7L464.2 231.7L464.7 231.7L465.2 231.7L465.7 231.7L466.2 231.7L466.7 231.7L467.2 231.7L467.7 231.7L468.2 231.7L468.7 231.7L469.2 231.7L469.7 231.7L470.2 231.7L470.7 231.7L471.2 231.7L471.7 231.7L472.2 231.7L472.7 231.7L473.2 231.7L473.7 231.7L474.2 231.7L474.7 231.7L475.2 231.7L475.7 231.7L476.2 231.7L476.7 231.7L477.2 231.7L477.7 231.7L478.2 231.7L478.7 231.7L479.2 231.7L479.7 231.7L480.2 231.7" fill="none" stroke="#e9a45a" stroke-width="0.7" stroke-linejoin="round" opacity="0.9"/>
<path d="M381.7 246.1L381.7 246.1L382.2 246.1L382.7 246.1L383.2 246.1L383.7 246.1L384.2 246.1L384.7 246.1L385.2 246.1L385.7 246.1L386.2 246.1L386.7 246.1L387.2 246.1L387.7 246.1L388.2 246.1L388.7 246.1L389.2 246.1L389.7 246.1L390.2 246.1L390.7 246.1L391.2 246.1L391.7 246.1L392.2 246.1L392.7 246.1L393.2 246.1L393.7 246.1L394.2 246.1L394.7 246.1L395.2 246.1L395.7 246.1L396.2 246.1L396.7 246.1L397.2 246.1L397.7 246.1L398.2 246.1L398.7 246.1L399.2 246.1L399.7 246.1L400.2 246.1L400.7 246.1L401.2 246.1L401.7 246.1L402.2 246.1L402.7 246.1L403.2 246.1L403.7 246.09L404.2 246.09L404.7 246.09L405.2 246.09L405.7 246.08L406.2 246.08L406.7 246.07L407.2 246.06L407.7 246.05L408.2 246.04L408.7 246.03L409.2 246.01L409.7 245.98L410.2 245.95L410.7 245.91L411.2 245.87L411.7 245.82L412.2 245.75L412.7 245.68L413.2 245.58L413.7 245.48L414.2 245.35L414.7 245.2L415.2 245.03L415.7 244.84L416.2 244.61L416.7 244.39L417.2 244.09L417.7 243.79L418.2 243.46L418.7 243.11L419.2 242.65L419.7 242.07L420.2 241.41L420.7 240.9L421.2 240.31L421.7 239.83L422.2 239.08L422.7 238.31L423.2 237.21L423.7 236.38L424.2 235.54L424.7 234.91L425.2 234.04L425.7 233.36L426.2 232.24L426.7 231.29L427.2 230.58L427.7 230.04L428.2 229.44L428.7 228.92L429.2 228.33L429.7 227.71L430.2 227.1L430.7 226.66L431.2 227.16L431.7 227.15L432.2 227.41L432.7 227.18L433.2 227.59L433.7 227.73L434.2 227.89L434.7 228.12L435.2 229.02L435.7 228.99L436.2 229.39L436.7 229.84L437.2 230.94L437.7 231.57L438.2 231.64L438.7 232.3L439.2 232.93L439.7 234.05L440.2 234.53L440.7 235.22L441.2 235.76L441.7 236.29L442.2 236.63L442.7 237.1L443.2 238.01L443.7 238.82L444.2 239.39L444.7 239.95L445.2 240.52L445.7 241.1L446.2 241.49L446.7 241.82L447.2 242.2L447.7 242.58L448.2 243.02L448.7 243.41L449.2 243.73L449.7 244.02L450.2 244.22L450.7 244.46L451.2 244.62L451.7 244.8L452.2 244.97L452.7 245.12L453.2 245.25L453.7 245.37L454.2 245.47L454.7 245.56L455.2 245.64L455.7 245.71L456.2 245.77L456.7 245.82L457.2 245.87L457.7 245.9L458.2 245.94L458.7 245.96L459.2 245.99L459.7 246.01L460.2 246.02L460.7 246.04L461.2 246.05L461.7 246.06L462.2 246.07L462.7 246.07L463.2 246.08L463.7 246.08L464.2 246.09L464.7 246.09L465.2 246.09L465.7 246.09L466.2 246.09L466.7 246.1L467.2 246.1L467.7 246.1L468.2 246.1L468.7 246.1L469.2 246.1L469.7 246.1L470.2 246.1L470.7 246.1L471.2 246.1L471.7 246.1L472.2 246.1L472.7 246.1L473.2 246.1L473.7 246.1L474.2 246.1L474.7 246.1L475.2 246.1L475.7 246.1L476.2 246.1L476.7 246.1L477.2 246.1L477.7 246.1L478.2 246.1L478.7 246.1L479.2 246.1L479.7 246.1L480.2 246.1L480.2 246.1Z" fill="#e64650" fill-opacity="0.5"/>
<path d="M381.7 246.1L381.7 246.1L382.2 246.1L382.7 246.1L383.2 246.1L383.7 246.1L384.2 246.1L384.7 246.1L385.2 246.1L385.7 246.1L386.2 246.1L386.7 246.1L387.2 246.1L387.7 246.1L388.2 246.1L388.7 246.1L389.2 246.1L389.7 246.1L390.2 246.1L390.7 246.1L391.2 246.1L391.7 246.1L392.2 246.1L392.7 246.1L393.2 246.1L393.7 246.1L394.2 246.1L394.7 246.1L395.2 246.1L395.7 246.1L396.2 246.1L396.7 246.1L397.2 246.1L397.7 246.1L398.2 246.1L398.7 246.1L399.2 246.1L399.7 246.1L400.2 246.1L400.7 246.1L401.2 246.1L401.7 246.1L402.2 246.1L402.7 246.1L403.2 246.1L403.7 246.09L404.2 246.09L404.7 246.09L405.2 246.09L405.7 246.08L406.2 246.08L406.7 246.07L407.2 246.06L407.7 246.05L408.2 246.04L408.7 246.03L409.2 246.01L409.7 245.98L410.2 245.95L410.7 245.91L411.2 245.87L411.7 245.82L412.2 245.75L412.7 245.68L413.2 245.58L413.7 245.48L414.2 245.35L414.7 245.2L415.2 245.03L415.7 244.84L416.2 244.61L416.7 244.39L417.2 244.09L417.7 243.79L418.2 243.46L418.7 243.11L419.2 242.65L419.7 242.07L420.2 241.41L420.7 240.9L421.2 240.31L421.7 239.83L422.2 239.08L422.7 238.31L423.2 237.21L423.7 236.38L424.2 235.54L424.7 234.91L425.2 234.04L425.7 233.36L426.2 232.24L426.7 231.29L427.2 230.58L427.7 230.04L428.2 229.44L428.7 228.92L429.2 228.33L429.7 227.71L430.2 227.1L430.7 226.66L431.2 227.16L431.7 227.15L432.2 227.41L432.7 227.18L433.2 227.59L433.7 227.73L434.2 227.89L434.7 228.12L435.2 229.02L435.7 228.99L436.2 229.39L436.7 229.84L437.2 230.94L437.7 231.57L438.2 231.64L438.7 232.3L439.2 232.93L439.7 234.05L440.2 234.53L440.7 235.22L441.2 235.76L441.7 236.29L442.2 236.63L442.7 237.1L443.2 238.01L443.7 238.82L444.2 239.39L444.7 239.95L445.2 240.52L445.7 241.1L446.2 241.49L446.7 241.82L447.2 242.2L447.7 242.58L448.2 243.02L448.7 243.41L449.2 243.73L449.7 244.02L450.2 244.22L450.7 244.46L451.2 244.62L451.7 244.8L452.2 244.97L452.7 245.12L453.2 245.25L453.7 245.37L454.2 245.47L454.7 245.56L455.2 245.64L455.7 245.71L456.2 245.77L456.7 245.82L457.2 245.87L457.7 245.9L458.2 245.94L458.7 245.96L459.2 245.99L459.7 246.01L460.2 246.02L460.7 246.04L461.2 246.05L461.7 246.06L462.2 246.07L462.7 246.07L463.2 246.08L463.7 246.08L464.2 246.09L464.7 246.09L465.2 246.09L465.7 246.09L466.2 246.09L466.7 246.1L467.2 246.1L467.7 246.1L468.2 246.1L468.7 246.1L469.2 246.1L469.7 246.1L470.2 246.1L470.7 246.1L471.2 246.1L471.7 246.1L472.2 246.1L472.7 246.1L473.2 246.1L473.7 246.1L474.2 246.1L474.7 246.1L475.2 246.1L475.7 246.1L476.2 246.1L476.7 246.1L477.2 246.1L477.7 246.1L478.2 246.1L478.7 246.1L479.2 246.1L479.7 246.1L480.2 246.1" fill="none" stroke="#e8505a" stroke-width="0.7" stroke-linejoin="round" opacity="0.9"/>
<path d="M381.7 260.5L381.7 260.5L382.2 260.5L382.7 260.5L383.2 260.5L383.7 260.5L384.2 260.5L384.7 260.5L385.2 260.5L385.7 260.5L386.2 260.5L386.7 260.5L387.2 260.5L387.7 260.5L388.2 260.5L388.7 260.5L389.2 260.5L389.7 260.5L390.2 260.5L390.7 260.5L391.2 260.5L391.7 260.5L392.2 260.5L392.7 260.5L393.2 260.5L393.7 260.5L394.2 260.5L394.7 260.5L395.2 260.5L395.7 260.5L396.2 260.5L396.7 260.5L397.2 260.5L397.7 260.5L398.2 260.5L398.7 260.5L399.2 260.5L399.7 260.5L400.2 260.5L400.7 260.5L401.2 260.5L401.7 260.5L402.2 260.5L402.7 260.5L403.2 260.5L403.7 260.5L404.2 260.5L404.7 260.5L405.2 260.5L405.7 260.5L406.2 260.5L406.7 260.5L407.2 260.5L407.7 260.5L408.2 260.49L408.7 260.49L409.2 260.49L409.7 260.48L410.2 260.48L410.7 260.47L411.2 260.46L411.7 260.45L412.2 260.44L412.7 260.42L413.2 260.39L413.7 260.36L414.2 260.33L414.7 260.28L415.2 260.22L415.7 260.15L416.2 260.07L416.7 259.96L417.2 259.84L417.7 259.69L418.2 259.52L418.7 259.31L419.2 259.07L419.7 258.79L420.2 258.43L420.7 258.09L421.2 257.68L421.7 257.33L422.2 256.81L422.7 256.24L423.2 255.45L423.7 254.63L424.2 253.84L424.7 253.25L425.2 252.52L425.7 251.63L426.2 250.51L426.7 249.39L427.2 248.31L427.7 247.31L428.2 246.2L428.7 245.02L429.2 244.02L429.7 243.01L430.2 241.77L430.7 240.43L431.2 239.73L431.7 239.3L432.2 238.82L432.7 238.16L433.2 237.55L433.7 237.67L434.2 238.01L434.7 238.21L435.2 237.84L435.7 237.86L436.2 238.12L436.7 238.59L437.2 239.59L437.7 240.24L438.2 241.43L438.7 241.97L439.2 242.78L439.7 243.84L440.2 244.64L440.7 246.15L441.2 247.04L441.7 248.31L442.2 249.26L442.7 250.27L443.2 251.27L443.7 252.13L444.2 252.97L444.7 253.93L445.2 254.71L445.7 255.4L446.2 256.02L446.7 256.53L447.2 257.16L447.7 257.57L448.2 258.07L448.7 258.42L449.2 258.73L449.7 259.02L450.2 259.27L450.7 259.48L451.2 259.66L451.7 259.81L452.2 259.94L452.7 260.05L453.2 260.14L453.7 260.21L454.2 260.27L454.7 260.32L455.2 260.36L455.7 260.39L456.2 260.41L456.7 260.43L457.2 260.45L457.7 260.46L458.2 260.47L458.7 260.48L459.2 260.48L459.7 260.49L460.2 260.49L460.7 260.49L461.2 260.5L461.7 260.5L462.2 260.5L462.7 260.5L463.2 260.5L463.7 260.5L464.2 260.5L464.7 260.5L465.2 260.5L465.7 260.5L466.2 260.5L466.7 260.5L467.2 260.5L467.7 260.5L468.2 260.5L468.7 260.5L469.2 260.5L469.7 260.5L470.2 260.5L470.7 260.5L471.2 260.5L471.7 260.5L472.2 260.5L472.7 260.5L473.2 260.5L473.7 260.5L474.2 260.5L474.7 260.5L475.2 260.5L475.7 260.5L476.2 260.5L476.7 260.5L477.2 260.5L477.7 260.5L478.2 260.5L478.7 260.5L479.2 260.5L479.7 260.5L480.2 260.5L480.2 260.5Z" fill="#8cf05a" fill-opacity="0.5"/>
<path d="M381.7 260.5L381.7 260.5L382.2 260.5L382.7 260.5L383.2 260.5L383.7 260.5L384.2 260.5L384.7 260.5L385.2 260.5L385.7 260.5L386.2 260.5L386.7 260.5L387.2 260.5L387.7 260.5L388.2 260.5L388.7 260.5L389.2 260.5L389.7 260.5L390.2 260.5L390.7 260.5L391.2 260.5L391.7 260.5L392.2 260.5L392.7 260.5L393.2 260.5L393.7 260.5L394.2 260.5L394.7 260.5L395.2 260.5L395.7 260.5L396.2 260.5L396.7 260.5L397.2 260.5L397.7 260.5L398.2 260.5L398.7 260.5L399.2 260.5L399.7 260.5L400.2 260.5L400.7 260.5L401.2 260.5L401.7 260.5L402.2 260.5L402.7 260.5L403.2 260.5L403.7 260.5L404.2 260.5L404.7 260.5L405.2 260.5L405.7 260.5L406.2 260.5L406.7 260.5L407.2 260.5L407.7 260.5L408.2 260.49L408.7 260.49L409.2 260.49L409.7 260.48L410.2 260.48L410.7 260.47L411.2 260.46L411.7 260.45L412.2 260.44L412.7 260.42L413.2 260.39L413.7 260.36L414.2 260.33L414.7 260.28L415.2 260.22L415.7 260.15L416.2 260.07L416.7 259.96L417.2 259.84L417.7 259.69L418.2 259.52L418.7 259.31L419.2 259.07L419.7 258.79L420.2 258.43L420.7 258.09L421.2 257.68L421.7 257.33L422.2 256.81L422.7 256.24L423.2 255.45L423.7 254.63L424.2 253.84L424.7 253.25L425.2 252.52L425.7 251.63L426.2 250.51L426.7 249.39L427.2 248.31L427.7 247.31L428.2 246.2L428.7 245.02L429.2 244.02L429.7 243.01L430.2 241.77L430.7 240.43L431.2 239.73L431.7 239.3L432.2 238.82L432.7 238.16L433.2 237.55L433.7 237.67L434.2 238.01L434.7 238.21L435.2 237.84L435.7 237.86L436.2 238.12L436.7 238.59L437.2 239.59L437.7 240.24L438.2 241.43L438.7 241.97L439.2 242.78L439.7 243.84L440.2 244.64L440.7 246.15L441.2 247.04L441.7 248.31L442.2 249.26L442.7 250.27L443.2 251.27L443.7 252.13L444.2 252.97L444.7 253.93L445.2 254.71L445.7 255.4L446.2 256.02L446.7 256.53L447.2 257.16L447.7 257.57L448.2 258.07L448.7 258.42L449.2 258.73L449.7 259.02L450.2 259.27L450.7 259.48L451.2 259.66L451.7 259.81L452.2 259.94L452.7 260.05L453.2 260.14L453.7 260.21L454.2 260.27L454.7 260.32L455.2 260.36L455.7 260.39L456.2 260.41L456.7 260.43L457.2 260.45L457.7 260.46L458.2 260.47L458.7 260.48L459.2 260.48L459.7 260.49L460.2 260.49L460.7 260.49L461.2 260.5L461.7 260.5L462.2 260.5L462.7 260.5L463.2 260.5L463.7 260.5L464.2 260.5L464.7 260.5L465.2 260.5L465.7 260.5L466.2 260.5L466.7 260.5L467.2 260.5L467.7 260.5L468.2 260.5L468.7 260.5L469.2 260.5L469.7 260.5L470.2 260.5L470.7 260.5L471.2 260.5L471.7 260.5L472.2 260.5L472.7 260.5L473.2 260.5L473.7 260.5L474.2 260.5L474.7 260.5L475.2 260.5L475.7 260.5L476.2 260.5L476.7 260.5L477.2 260.5L477.7 260.5L478.2 260.5L478.7 260.5L479.2 260.5L479.7 260.5L480.2 260.5" fill="none" stroke="#86e455" stroke-width="0.7" stroke-linejoin="round" opacity="0.9"/>
<path d="M381.7 274.5L381.7 274.5L382.2 274.5L382.7 274.5L383.2 274.5L383.7 274.5L384.2 274.5L384.7 274.5L385.2 274.5L385.7 274.5L386.2 274.5L386.7 274.5L387.2 274.5L387.7 274.5L388.2 274.5L388.7 274.5L389.2 274.5L389.7 274.5L390.2 274.5L390.7 274.5L391.2 274.5L391.7 274.5L392.2 274.5L392.7 274.5L393.2 274.5L393.7 274.5L394.2 274.5L394.7 274.5L395.2 274.5L395.7 274.5L396.2 274.5L396.7 274.5L397.2 274.5L397.7 274.5L398.2 274.5L398.7 274.5L399.2 274.5L399.7 274.5L400.2 274.49L400.7 274.49L401.2 274.49L401.7 274.49L402.2 274.48L402.7 274.47L403.2 274.47L403.7 274.46L404.2 274.45L404.7 274.43L405.2 274.41L405.7 274.39L406.2 274.36L406.7 274.32L407.2 274.28L407.7 274.23L408.2 274.16L408.7 274.09L409.2 274L409.7 273.89L410.2 273.76L410.7 273.61L411.2 273.44L411.7 273.24L412.2 273L412.7 272.74L413.2 272.42L413.7 272.07L414.2 271.7L414.7 271.3L415.2 270.86L415.7 270.31L416.2 269.63L416.7 269.05L417.2 268.38L417.7 267.84L418.2 267.03L418.7 266.24L419.2 265.27L419.7 264.28L420.2 263.45L420.7 262.28L421.2 261.33L421.7 259.98L422.2 259.2L422.7 258.3L423.2 257.58L423.7 256.77L424.2 256.15L424.7 255.45L425.2 254.81L425.7 254.11L426.2 253.14L426.7 252.32L427.2 251.75L427.7 252.16L428.2 252.44L428.7 252.51L429.2 252.17L429.7 252.4L430.2 252.86L430.7 253.4L431.2 254.34L431.7 255.46L432.2 256.6L432.7 257.7L433.2 258.72L433.7 260.13L434.2 261.5L434.7 262.82L435.2 264.12L435.7 265L436.2 265.99L436.7 266.93L437.2 267.89L437.7 268.92L438.2 269.74L438.7 270.56L439.2 271.2L439.7 271.71L440.2 272.2L440.7 272.56L441.2 272.93L441.7 273.24L442.2 273.49L442.7 273.7L443.2 273.87L443.7 274.01L444.2 274.12L444.7 274.21L445.2 274.28L445.7 274.33L446.2 274.37L446.7 274.41L447.2 274.43L447.7 274.45L448.2 274.46L448.7 274.47L449.2 274.48L449.7 274.49L450.2 274.49L450.7 274.49L451.2 274.5L451.7 274.5L452.2 274.5L452.7 274.5L453.2 274.5L453.7 274.5L454.2 274.5L454.7 274.5L455.2 274.5L455.7 274.5L456.2 274.5L456.7 274.5L457.2 274.5L457.7 274.5L458.2 274.5L458.7 274.5L459.2 274.5L459.7 274.5L460.2 274.5L460.7 274.5L461.2 274.5L461.7 274.5L462.2 274.5L462.7 274.5L463.2 274.5L463.7 274.5L464.2 274.5L464.7 274.5L465.2 274.5L465.7 274.5L466.2 274.5L466.7 274.5L467.2 274.5L467.7 274.5L468.2 274.5L468.7 274.5L469.2 274.5L469.7 274.5L470.2 274.5L470.7 274.5L471.2 274.5L471.7 274.5L472.2 274.5L472.7 274.5L473.2 274.5L473.7 274.5L474.2 274.5L474.7 274.5L475.2 274.5L475.7 274.5L476.2 274.5L476.7 274.5L477.2 274.5L477.7 274.5L478.2 274.5L478.7 274.5L479.2 274.5L479.7 274.5L480.2 274.5L480.2 274.5Z" fill="#3cdcf5" fill-opacity="0.5"/>
<path d="M381.7 274.5L381.7 274.5L382.2 274.5L382.7 274.5L383.2 274.5L383.7 274.5L384.2 274.5L384.7 274.5L385.2 274.5L385.7 274.5L386.2 274.5L386.7 274.5L387.2 274.5L387.7 274.5L388.2 274.5L388.7 274.5L389.2 274.5L389.7 274.5L390.2 274.5L390.7 274.5L391.2 274.5L391.7 274.5L392.2 274.5L392.7 274.5L393.2 274.5L393.7 274.5L394.2 274.5L394.7 274.5L395.2 274.5L395.7 274.5L396.2 274.5L396.7 274.5L397.2 274.5L397.7 274.5L398.2 274.5L398.7 274.5L399.2 274.5L399.7 274.5L400.2 274.49L400.7 274.49L401.2 274.49L401.7 274.49L402.2 274.48L402.7 274.47L403.2 274.47L403.7 274.46L404.2 274.45L404.7 274.43L405.2 274.41L405.7 274.39L406.2 274.36L406.7 274.32L407.2 274.28L407.7 274.23L408.2 274.16L408.7 274.09L409.2 274L409.7 273.89L410.2 273.76L410.7 273.61L411.2 273.44L411.7 273.24L412.2 273L412.7 272.74L413.2 272.42L413.7 272.07L414.2 271.7L414.7 271.3L415.2 270.86L415.7 270.31L416.2 269.63L416.7 269.05L417.2 268.38L417.7 267.84L418.2 267.03L418.7 266.24L419.2 265.27L419.7 264.28L420.2 263.45L420.7 262.28L421.2 261.33L421.7 259.98L422.2 259.2L422.7 258.3L423.2 257.58L423.7 256.77L424.2 256.15L424.7 255.45L425.2 254.81L425.7 254.11L426.2 253.14L426.7 252.32L427.2 251.75L427.7 252.16L428.2 252.44L428.7 252.51L429.2 252.17L429.7 252.4L430.2 252.86L430.7 253.4L431.2 254.34L431.7 255.46L432.2 256.6L432.7 257.7L433.2 258.72L433.7 260.13L434.2 261.5L434.7 262.82L435.2 264.12L435.7 265L436.2 265.99L436.7 266.93L437.2 267.89L437.7 268.92L438.2 269.74L438.7 270.56L439.2 271.2L439.7 271.71L440.2 272.2L440.7 272.56L441.2 272.93L441.7 273.24L442.2 273.49L442.7 273.7L443.2 273.87L443.7 274.01L444.2 274.12L444.7 274.21L445.2 274.28L445.7 274.33L446.2 274.37L446.7 274.41L447.2 274.43L447.7 274.45L448.2 274.46L448.7 274.47L449.2 274.48L449.7 274.49L450.2 274.49L450.7 274.49L451.2 274.5L451.7 274.5L452.2 274.5L452.7 274.5L453.2 274.5L453.7 274.5L454.2 274.5L454.7 274.5L455.2 274.5L455.7 274.5L456.2 274.5L456.7 274.5L457.2 274.5L457.7 274.5L458.2 274.5L458.7 274.5L459.2 274.5L459.7 274.5L460.2 274.5L460.7 274.5L461.2 274.5L461.7 274.5L462.2 274.5L462.7 274.5L463.2 274.5L463.7 274.5L464.2 274.5L464.7 274.5L465.2 274.5L465.7 274.5L466.2 274.5L466.7 274.5L467.2 274.5L467.7 274.5L468.2 274.5L468.7 274.5L469.2 274.5L469.7 274.5L470.2 274.5L470.7 274.5L471.2 274.5L471.7 274.5L472.2 274.5L472.7 274.5L473.2 274.5L473.7 274.5L474.2 274.5L474.7 274.5L475.2 274.5L475.7 274.5L476.2 274.5L476.7 274.5L477.2 274.5L477.7 274.5L478.2 274.5L478.7 274.5L479.2 274.5L479.7 274.5L480.2 274.5" fill="none" stroke="#55d6f2" stroke-width="0.7" stroke-linejoin="round" opacity="0.9"/>
<path d="M381.7 288.7L381.7 288.7L382.2 288.7L382.7 288.7L383.2 288.7L383.7 288.7L384.2 288.7L384.7 288.7L385.2 288.7L385.7 288.7L386.2 288.7L386.7 288.7L387.2 288.7L387.7 288.7L388.2 288.7L388.7 288.7L389.2 288.7L389.7 288.7L390.2 288.7L390.7 288.7L391.2 288.7L391.7 288.7L392.2 288.7L392.7 288.7L393.2 288.7L393.7 288.7L394.2 288.7L394.7 288.7L395.2 288.7L395.7 288.7L396.2 288.7L396.7 288.7L397.2 288.7L397.7 288.7L398.2 288.7L398.7 288.7L399.2 288.7L399.7 288.69L400.2 288.69L400.7 288.69L401.2 288.69L401.7 288.68L402.2 288.68L402.7 288.68L403.2 288.67L403.7 288.66L404.2 288.65L404.7 288.64L405.2 288.63L405.7 288.61L406.2 288.59L406.7 288.57L407.2 288.54L407.7 288.5L408.2 288.46L408.7 288.42L409.2 288.36L409.7 288.3L410.2 288.22L410.7 288.13L411.2 288.03L411.7 287.91L412.2 287.78L412.7 287.63L413.2 287.45L413.7 287.26L414.2 287.06L414.7 286.8L415.2 286.53L415.7 286.27L416.2 285.92L416.7 285.5L417.2 285.12L417.7 284.75L418.2 284.3L418.7 283.81L419.2 283.19L419.7 282.63L420.2 282.06L420.7 281.33L421.2 280.8L421.7 279.96L422.2 279.49L422.7 278.45L423.2 277.72L423.7 276.88L424.2 276.23L424.7 275.76L425.2 275.38L425.7 274.59L426.2 273.89L426.7 273.16L427.2 272.48L427.7 271.63L428.2 271.15L428.7 270.9L429.2 270.84L429.7 269.75L430.2 269.67L430.7 268.73L431.2 268.8L431.7 268.89L432.2 269.37L432.7 269.11L433.2 268.69L433.7 269.14L434.2 269.97L434.7 270.7L435.2 271.16L435.7 271.44L436.2 271.63L436.7 272.11L437.2 272.77L437.7 273.32L438.2 273.56L438.7 274.55L439.2 275.78L439.7 276.5L440.2 277.15L440.7 277.84L441.2 278.63L441.7 279.37L442.2 279.84L442.7 280.58L443.2 281.23L443.7 281.95L444.2 282.67L444.7 283.1L445.2 283.68L445.7 284.18L446.2 284.64L446.7 285.07L447.2 285.45L447.7 285.86L448.2 286.23L448.7 286.54L449.2 286.79L449.7 286.95L450.2 287.22L450.7 287.42L451.2 287.59L451.7 287.75L452.2 287.89L452.7 288.01L453.2 288.11L453.7 288.2L454.2 288.28L454.7 288.35L455.2 288.41L455.7 288.46L456.2 288.5L456.7 288.53L457.2 288.56L457.7 288.59L458.2 288.61L458.7 288.62L459.2 288.64L459.7 288.65L460.2 288.66L460.7 288.67L461.2 288.67L461.7 288.68L462.2 288.68L462.7 288.69L463.2 288.69L463.7 288.69L464.2 288.69L464.7 288.7L465.2 288.7L465.7 288.7L466.2 288.7L466.7 288.7L467.2 288.7L467.7 288.7L468.2 288.7L468.7 288.7L469.2 288.7L469.7 288.7L470.2 288.7L470.7 288.7L471.2 288.7L471.7 288.7L472.2 288.7L472.7 288.7L473.2 288.7L473.7 288.7L474.2 288.7L474.7 288.7L475.2 288.7L475.7 288.7L476.2 288.7L476.7 288.7L477.2 288.7L477.7 288.7L478.2 288.7L478.7 288.7L479.2 288.7L479.7 288.7L480.2 288.7L480.2 288.7Z" fill="#467a1e" fill-opacity="0.5"/>
<path d="M381.7 288.7L381.7 288.7L382.2 288.7L382.7 288.7L383.2 288.7L383.7 288.7L384.2 288.7L384.7 288.7L385.2 288.7L385.7 288.7L386.2 288.7L386.7 288.7L387.2 288.7L387.7 288.7L388.2 288.7L388.7 288.7L389.2 288.7L389.7 288.7L390.2 288.7L390.7 288.7L391.2 288.7L391.7 288.7L392.2 288.7L392.7 288.7L393.2 288.7L393.7 288.7L394.2 288.7L394.7 288.7L395.2 288.7L395.7 288.7L396.2 288.7L396.7 288.7L397.2 288.7L397.7 288.7L398.2 288.7L398.7 288.7L399.2 288.7L399.7 288.69L400.2 288.69L400.7 288.69L401.2 288.69L401.7 288.68L402.2 288.68L402.7 288.68L403.2 288.67L403.7 288.66L404.2 288.65L404.7 288.64L405.2 288.63L405.7 288.61L406.2 288.59L406.7 288.57L407.2 288.54L407.7 288.5L408.2 288.46L408.7 288.42L409.2 288.36L409.7 288.3L410.2 288.22L410.7 288.13L411.2 288.03L411.7 287.91L412.2 287.78L412.7 287.63L413.2 287.45L413.7 287.26L414.2 287.06L414.7 286.8L415.2 286.53L415.7 286.27L416.2 285.92L416.7 285.5L417.2 285.12L417.7 284.75L418.2 284.3L418.7 283.81L419.2 283.19L419.7 282.63L420.2 282.06L420.7 281.33L421.2 280.8L421.7 279.96L422.2 279.49L422.7 278.45L423.2 277.72L423.7 276.88L424.2 276.23L424.7 275.76L425.2 275.38L425.7 274.59L426.2 273.89L426.7 273.16L427.2 272.48L427.7 271.63L428.2 271.15L428.7 270.9L429.2 270.84L429.7 269.75L430.2 269.67L430.7 268.73L431.2 268.8L431.7 268.89L432.2 269.37L432.7 269.11L433.2 268.69L433.7 269.14L434.2 269.97L434.7 270.7L435.2 271.16L435.7 271.44L436.2 271.63L436.7 272.11L437.2 272.77L437.7 273.32L438.2 273.56L438.7 274.55L439.2 275.78L439.7 276.5L440.2 277.15L440.7 277.84L441.2 278.63L441.7 279.37L442.2 279.84L442.7 280.58L443.2 281.23L443.7 281.95L444.2 282.67L444.7 283.1L445.2 283.68L445.7 284.18L446.2 284.64L446.7 285.07L447.2 285.45L447.7 285.86L448.2 286.23L448.7 286.54L449.2 286.79L449.7 286.95L450.2 287.22L450.7 287.42L451.2 287.59L451.7 287.75L452.2 287.89L452.7 288.01L453.2 288.11L453.7 288.2L454.2 288.28L454.7 288.35L455.2 288.41L455.7 288.46L456.2 288.5L456.7 288.53L457.2 288.56L457.7 288.59L458.2 288.61L458.7 288.62L459.2 288.64L459.7 288.65L460.2 288.66L460.7 288.67L461.2 288.67L461.7 288.68L462.2 288.68L462.7 288.69L463.2 288.69L463.7 288.69L464.2 288.69L464.7 288.7L465.2 288.7L465.7 288.7L466.2 288.7L466.7 288.7L467.2 288.7L467.7 288.7L468.2 288.7L468.7 288.7L469.2 288.7L469.7 288.7L470.2 288.7L470.7 288.7L471.2 288.7L471.7 288.7L472.2 288.7L472.7 288.7L473.2 288.7L473.7 288.7L474.2 288.7L474.7 288.7L475.2 288.7L475.7 288.7L476.2 288.7L476.7 288.7L477.2 288.7L477.7 288.7L478.2 288.7L478.7 288.7L479.2 288.7L479.7 288.7L480.2 288.7" fill="none" stroke="#5c8040" stroke-width="0.7" stroke-linejoin="round" opacity="0.9"/>
<path d="M381.7 302.6L381.7 302.6L382.2 302.6L382.7 302.6L383.2 302.6L383.7 302.6L384.2 302.6L384.7 302.6L385.2 302.6L385.7 302.6L386.2 302.6L386.7 302.6L387.2 302.6L387.7 302.6L388.2 302.6L388.7 302.6L389.2 302.6L389.7 302.6L390.2 302.6L390.7 302.6L391.2 302.6L391.7 302.6L392.2 302.6L392.7 302.6L393.2 302.6L393.7 302.6L394.2 302.6L394.7 302.6L395.2 302.6L395.7 302.6L396.2 302.6L396.7 302.6L397.2 302.6L397.7 302.6L398.2 302.6L398.7 302.6L399.2 302.6L399.7 302.6L400.2 302.6L400.7 302.6L401.2 302.6L401.7 302.6L402.2 302.6L402.7 302.6L403.2 302.6L403.7 302.6L404.2 302.6L404.7 302.6L405.2 302.6L405.7 302.6L406.2 302.6L406.7 302.6L407.2 302.59L407.7 302.59L408.2 302.58L408.7 302.56L409.2 302.54L409.7 302.5L410.2 302.45L410.7 302.37L411.2 302.25L411.7 302.1L412.2 301.89L412.7 301.62L413.2 301.28L413.7 300.94L414.2 300.44L414.7 299.75L415.2 298.99L415.7 298.01L416.2 297.11L416.7 295.94L417.2 294.81L417.7 293.65L418.2 292.62L418.7 291.63L419.2 290.63L419.7 289.69L420.2 288.91L420.7 287.81L421.2 286.53L421.7 284.96L422.2 284.16L422.7 283.26L423.2 283.16L423.7 282.77L424.2 282.44L424.7 282.61L425.2 282.98L425.7 283.25L426.2 282.95L426.7 282.54L427.2 282.88L427.7 283L428.2 283.33L428.7 282.85L429.2 283.05L429.7 283.26L430.2 283.39L430.7 283.31L431.2 283.68L431.7 283.93L432.2 284.45L432.7 284.4L433.2 285.46L433.7 286.34L434.2 287.74L434.7 289.16L435.2 290.02L435.7 291.16L436.2 292.25L436.7 293.79L437.2 294.86L437.7 295.73L438.2 296.71L438.7 297.64L439.2 298.59L439.7 299.35L440.2 300.05L440.7 300.62L441.2 301.12L441.7 301.5L442.2 301.79L442.7 302.02L443.2 302.2L443.7 302.33L444.2 302.42L444.7 302.48L445.2 302.52L445.7 302.55L446.2 302.57L446.7 302.58L447.2 302.59L447.7 302.59L448.2 302.6L448.7 302.6L449.2 302.6L449.7 302.6L450.2 302.6L450.7 302.6L451.2 302.6L451.7 302.6L452.2 302.6L452.7 302.6L453.2 302.6L453.7 302.6L454.2 302.6L454.7 302.6L455.2 302.6L455.7 302.6L456.2 302.6L456.7 302.6L457.2 302.6L457.7 302.6L458.2 302.6L458.7 302.6L459.2 302.6L459.7 302.6L460.2 302.6L460.7 302.6L461.2 302.6L461.7 302.6L462.2 302.6L462.7 302.6L463.2 302.6L463.7 302.6L464.2 302.6L464.7 302.6L465.2 302.6L465.7 302.6L466.2 302.6L466.7 302.6L467.2 302.6L467.7 302.6L468.2 302.6L468.7 302.6L469.2 302.6L469.7 302.6L470.2 302.6L470.7 302.6L471.2 302.6L471.7 302.6L472.2 302.6L472.7 302.6L473.2 302.6L473.7 302.6L474.2 302.6L474.7 302.6L475.2 302.6L475.7 302.6L476.2 302.6L476.7 302.6L477.2 302.6L477.7 302.6L478.2 302.6L478.7 302.6L479.2 302.6L479.7 302.6L480.2 302.6L480.2 302.6Z" fill="#b47878" fill-opacity="0.45"/>
<path d="M381.7 302.6L381.7 302.6L382.2 302.6L382.7 302.6L383.2 302.6L383.7 302.6L384.2 302.6L384.7 302.6L385.2 302.6L385.7 302.6L386.2 302.6L386.7 302.6L387.2 302.6L387.7 302.6L388.2 302.6L388.7 302.6L389.2 302.6L389.7 302.6L390.2 302.6L390.7 302.6L391.2 302.6L391.7 302.6L392.2 302.6L392.7 302.6L393.2 302.6L393.7 302.6L394.2 302.6L394.7 302.6L395.2 302.6L395.7 302.6L396.2 302.6L396.7 302.6L397.2 302.6L397.7 302.6L398.2 302.6L398.7 302.6L399.2 302.6L399.7 302.6L400.2 302.6L400.7 302.6L401.2 302.6L401.7 302.6L402.2 302.6L402.7 302.6L403.2 302.6L403.7 302.6L404.2 302.6L404.7 302.6L405.2 302.6L405.7 302.6L406.2 302.6L406.7 302.6L407.2 302.59L407.7 302.59L408.2 302.58L408.7 302.56L409.2 302.54L409.7 302.5L410.2 302.45L410.7 302.37L411.2 302.25L411.7 302.1L412.2 301.89L412.7 301.62L413.2 301.28L413.7 300.94L414.2 300.44L414.7 299.75L415.2 298.99L415.7 298.01L416.2 297.11L416.7 295.94L417.2 294.81L417.7 293.65L418.2 292.62L418.7 291.63L419.2 290.63L419.7 289.69L420.2 288.91L420.7 287.81L421.2 286.53L421.7 284.96L422.2 284.16L422.7 283.26L423.2 283.16L423.7 282.77L424.2 282.44L424.7 282.61L425.2 282.98L425.7 283.25L426.2 282.95L426.7 282.54L427.2 282.88L427.7 283L428.2 283.33L428.7 282.85L429.2 283.05L429.7 283.26L430.2 283.39L430.7 283.31L431.2 283.68L431.7 283.93L432.2 284.45L432.7 284.4L433.2 285.46L433.7 286.34L434.2 287.74L434.7 289.16L435.2 290.02L435.7 291.16L436.2 292.25L436.7 293.79L437.2 294.86L437.7 295.73L438.2 296.71L438.7 297.64L439.2 298.59L439.7 299.35L440.2 300.05L440.7 300.62L441.2 301.12L441.7 301.5L442.2 301.79L442.7 302.02L443.2 302.2L443.7 302.33L444.2 302.42L444.7 302.48L445.2 302.52L445.7 302.55L446.2 302.57L446.7 302.58L447.2 302.59L447.7 302.59L448.2 302.6L448.7 302.6L449.2 302.6L449.7 302.6L450.2 302.6L450.7 302.6L451.2 302.6L451.7 302.6L452.2 302.6L452.7 302.6L453.2 302.6L453.7 302.6L454.2 302.6L454.7 302.6L455.2 302.6L455.7 302.6L456.2 302.6L456.7 302.6L457.2 302.6L457.7 302.6L458.2 302.6L458.7 302.6L459.2 302.6L459.7 302.6L460.2 302.6L460.7 302.6L461.2 302.6L461.7 302.6L462.2 302.6L462.7 302.6L463.2 302.6L463.7 302.6L464.2 302.6L464.7 302.6L465.2 302.6L465.7 302.6L466.2 302.6L466.7 302.6L467.2 302.6L467.7 302.6L468.2 302.6L468.7 302.6L469.2 302.6L469.7 302.6L470.2 302.6L470.7 302.6L471.2 302.6L471.7 302.6L472.2 302.6L472.7 302.6L473.2 302.6L473.7 302.6L474.2 302.6L474.7 302.6L475.2 302.6L475.7 302.6L476.2 302.6L476.7 302.6L477.2 302.6L477.7 302.6L478.2 302.6L478.7 302.6L479.2 302.6L479.7 302.6L480.2 302.6" fill="none" stroke="#c49494" stroke-width="0.7" stroke-linejoin="round" opacity="0.9"/>
<line x1="429.7" y1="201.6" x2="429.7" y2="302.6" stroke="#444" stroke-width="0.8" stroke-dasharray="1 1"/>
<path d="M381.2 202.1H480.5V302.6" stroke="#8a8a8a" stroke-width="0.9" fill="none"/>
<line x1="381.5" y1="201.6" x2="381.5" y2="302.6" stroke="#777" stroke-width="1.2"/>
<line x1="381.2" y1="302.6" x2="481" y2="302.6" stroke="#555" stroke-width="1.1"/>
<text x="435" y="198" font-size="10.3" text-anchor="middle" fill="#1a1a1a" stroke="#1a1a1a" stroke-width="0.12">ZR-75-1</text>
<line x1="403.75" y1="302.6" x2="403.75" y2="305.6" stroke="#333" stroke-width="0.9"/>
<line x1="449" y1="302.6" x2="449" y2="305.6" stroke="#333" stroke-width="0.9"/>
<line x1="385.74" y1="302.6" x2="385.74" y2="304.2" stroke="#555" stroke-width="0.6"/>
<line x1="390.13" y1="302.6" x2="390.13" y2="304.2" stroke="#555" stroke-width="0.6"/>
<line x1="393.71" y1="302.6" x2="393.71" y2="304.2" stroke="#555" stroke-width="0.6"/>
<line x1="396.74" y1="302.6" x2="396.74" y2="304.2" stroke="#555" stroke-width="0.6"/>
<line x1="399.36" y1="302.6" x2="399.36" y2="304.2" stroke="#555" stroke-width="0.6"/>
<line x1="401.68" y1="302.6" x2="401.68" y2="304.2" stroke="#555" stroke-width="0.6"/>
<line x1="417.37" y1="302.6" x2="417.37" y2="304.2" stroke="#555" stroke-width="0.6"/>
<line x1="425.34" y1="302.6" x2="425.34" y2="304.2" stroke="#555" stroke-width="0.6"/>
<line x1="430.99" y1="302.6" x2="430.99" y2="304.2" stroke="#555" stroke-width="0.6"/>
<line x1="435.38" y1="302.6" x2="435.38" y2="304.2" stroke="#555" stroke-width="0.6"/>
<line x1="438.96" y1="302.6" x2="438.96" y2="304.2" stroke="#555" stroke-width="0.6"/>
<line x1="441.99" y1="302.6" x2="441.99" y2="304.2" stroke="#555" stroke-width="0.6"/>
<line x1="444.61" y1="302.6" x2="444.61" y2="304.2" stroke="#555" stroke-width="0.6"/>
<line x1="446.93" y1="302.6" x2="446.93" y2="304.2" stroke="#555" stroke-width="0.6"/>
<line x1="462.62" y1="302.6" x2="462.62" y2="304.2" stroke="#555" stroke-width="0.6"/>
<line x1="470.59" y1="302.6" x2="470.59" y2="304.2" stroke="#555" stroke-width="0.6"/>
<line x1="476.24" y1="302.6" x2="476.24" y2="304.2" stroke="#555" stroke-width="0.6"/>
<text x="403.75" y="313.6" font-size="5.2" text-anchor="middle" fill="#333">10</text>
<text x="407.35" y="311.3" font-size="3.6" text-anchor="middle" fill="#333">3</text>
<text x="449" y="313.6" font-size="5.2" text-anchor="middle" fill="#333">10</text>
<text x="452.6" y="311.3" font-size="3.6" text-anchor="middle" fill="#333">4</text>
<text transform="translate(376 252) rotate(-90)" font-size="9.3" text-anchor="middle" fill="#1a1a1a" stroke="#1a1a1a" stroke-width="0.12">Count</text>
<text x="435.4" y="323.5" font-size="9.3" text-anchor="middle" fill="#1a1a1a" stroke="#1a1a1a" stroke-width="0.12">Lipid ROS level (FITC)</text>
<text x="485.5" y="228.6" font-size="9.3" text-anchor="start" fill="#1a1a1a" stroke="#1a1a1a" stroke-width="0.12">con-sh+vector</text>
<text x="485.5" y="243.8" font-size="9.3" text-anchor="start" fill="#1a1a1a" stroke="#1a1a1a" stroke-width="0.12">USP35-sh#1+vector</text>
<text x="485.5" y="259" font-size="9.3" text-anchor="start" fill="#1a1a1a" stroke="#1a1a1a" stroke-width="0.12">USP35-sh#2+vector</text>
<text x="485.5" y="273.2" font-size="9.3" text-anchor="start" fill="#1a1a1a" stroke="#1a1a1a" stroke-width="0.12">con-sh+BRD4</text>
<text x="485.5" y="287.2" font-size="9.3" text-anchor="start" fill="#1a1a1a" stroke="#1a1a1a" stroke-width="0.12">USP35-sh#1+BRD4</text>
<text x="485.5" y="302.2" font-size="9.3" text-anchor="start" fill="#1a1a1a" stroke="#1a1a1a" stroke-width="0.12">USP35-sh#2+BRD4</text></svg>
</body></html>
